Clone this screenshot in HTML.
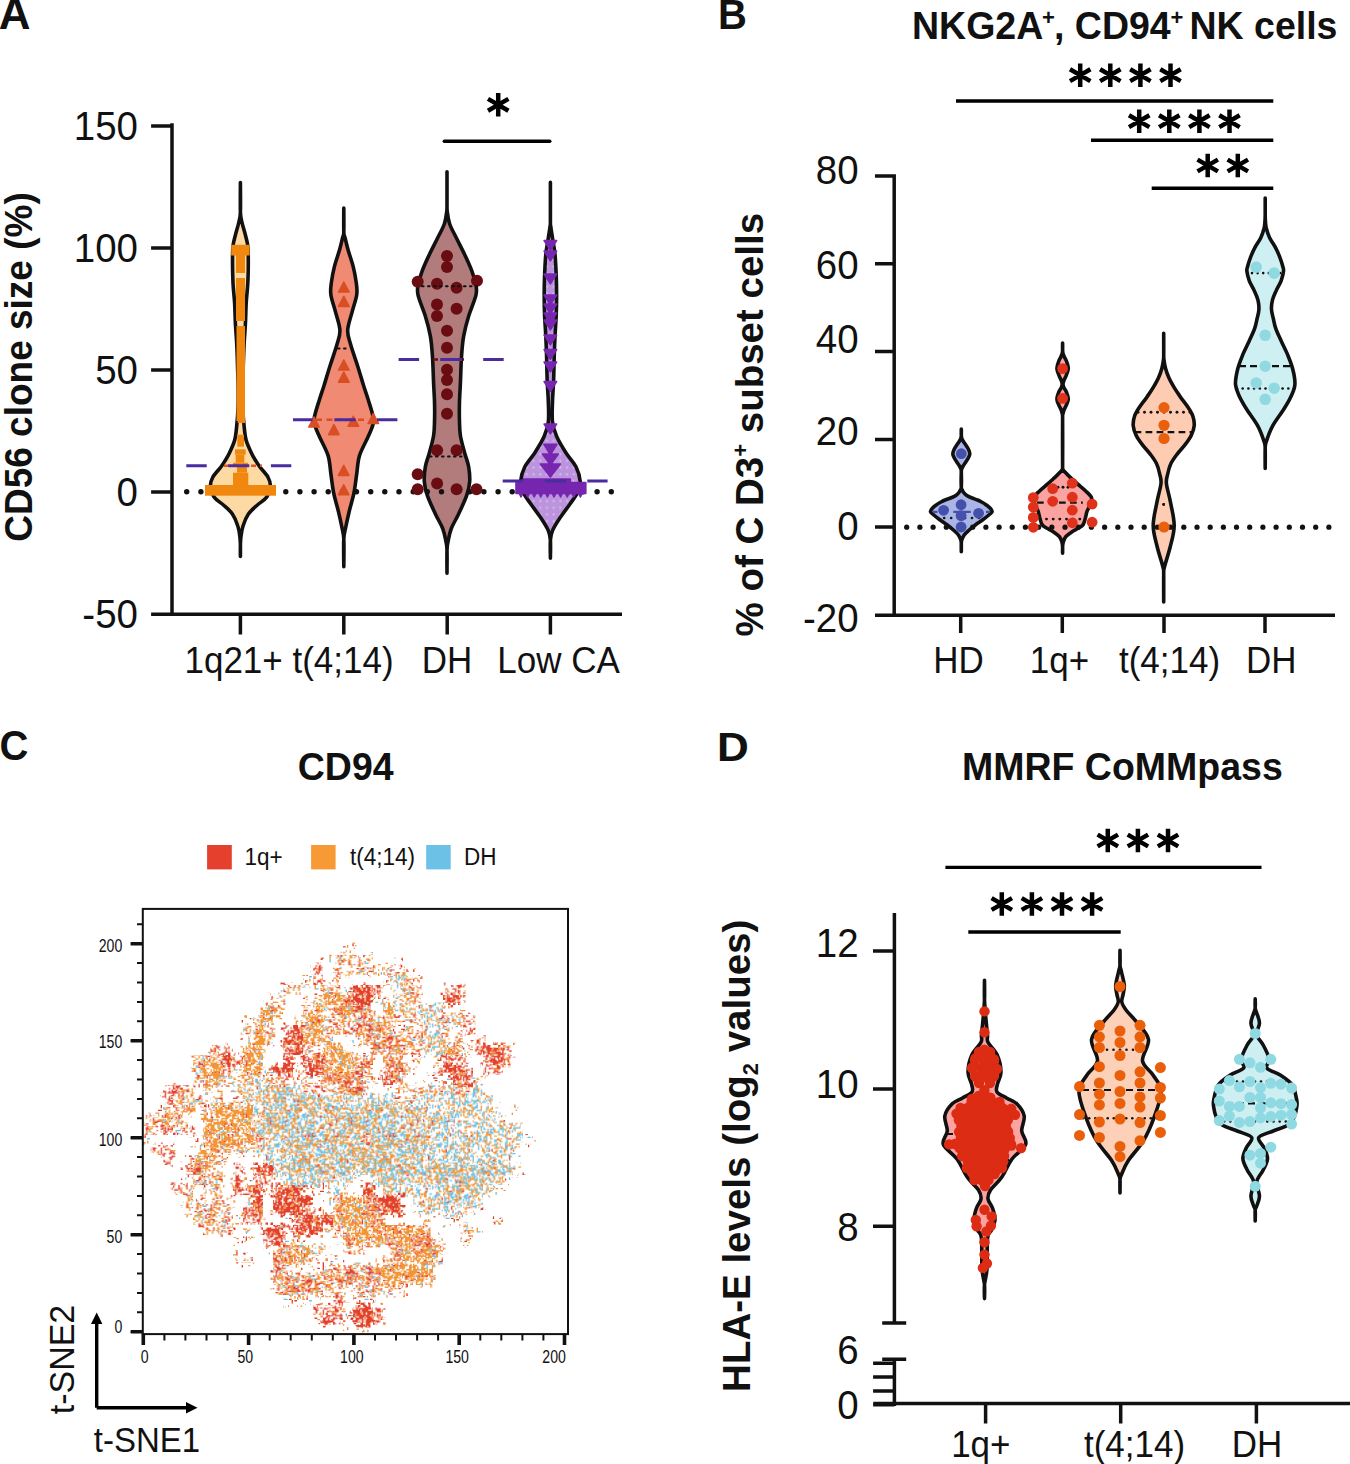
<!DOCTYPE html>
<html><head><meta charset="utf-8"><style>html,body{margin:0;padding:0;background:#fff;}svg{display:block;}</style></head>
<body><svg width="1350" height="1464" viewBox="0 0 1350 1464"><rect width="1350" height="1464" fill="#fff"/><defs><pattern id="pA4" patternUnits="userSpaceOnUse" x="1" y="2" width="6.7" height="6.7"><rect width="6.7" height="6.7" fill="#BC94DD"/><circle cx="3.3" cy="3.3" r="1.1" fill="#D7C0EC"/></pattern></defs><text transform="translate(-1.3 29)" font-family="Liberation Sans, sans-serif" font-size="44" font-weight="bold" fill="#111">A</text><path d="M172 123.3V616M151.1 125.9H172M151.1 248H172M151.1 370H172M151.1 492H172M151.1 614.2H622M240.4 614V634.5M343.8 614V634.5M447.2 614V634.5M550.4 614V634.5" stroke="#111" stroke-width="3.5" fill="none"/><text transform="translate(138 139.9) scale(1.0 1.045)" font-family="Liberation Sans, sans-serif" font-size="38.5" text-anchor="end" fill="#111">150</text><text transform="translate(138 262) scale(1.0 1.045)" font-family="Liberation Sans, sans-serif" font-size="38.5" text-anchor="end" fill="#111">100</text><text transform="translate(138 384) scale(1.0 1.045)" font-family="Liberation Sans, sans-serif" font-size="38.5" text-anchor="end" fill="#111">50</text><text transform="translate(138 506) scale(1.0 1.045)" font-family="Liberation Sans, sans-serif" font-size="38.5" text-anchor="end" fill="#111">0</text><text transform="translate(138 628.2) scale(1.0 1.045)" font-family="Liberation Sans, sans-serif" font-size="38.5" text-anchor="end" fill="#111">-50</text><text transform="translate(32.3 367) rotate(-90) scale(1.0 1.045)" font-family="Liberation Sans, sans-serif" font-size="37" font-weight="bold" text-anchor="middle" fill="#111">CD56 clone size (%)</text><text transform="translate(233.6 673) scale(1.0 1.045)" font-family="Liberation Sans, sans-serif" font-size="35" text-anchor="middle" fill="#111">1q21+</text><text transform="translate(343 673) scale(1.0 1.045)" font-family="Liberation Sans, sans-serif" font-size="35" text-anchor="middle" fill="#111">t(4;14)</text><text transform="translate(447 673) scale(1.0 1.045)" font-family="Liberation Sans, sans-serif" font-size="35" text-anchor="middle" fill="#111">DH</text><text transform="translate(558.5 673) scale(1.0 1.045)" font-family="Liberation Sans, sans-serif" font-size="35" text-anchor="middle" fill="#111">Low CA</text><path d="M240.4 182.5C240.4 187.4 240.2 205.4 240.4 212C240.7 218.6 241.1 218.2 241.9 222C242.7 225.8 244.4 231 245.4 235C246.4 239 247.3 241.5 247.8 246C248.3 250.5 248.3 255.8 248.3 262C248.3 268.2 248.2 276.2 247.8 283C247.5 289.8 246.6 296.2 246.2 303C245.8 309.8 245.8 317.2 245.4 324C245.1 330.8 244.4 337.2 244.1 344C243.8 350.8 243.5 358.2 243.3 365C243.1 371.8 242.8 378.2 242.7 385C242.6 391.8 242.5 399.2 242.7 406C242.9 412.8 243.5 420.3 244.1 426C244.7 431.7 244.9 435.5 246.1 440C247.3 444.5 249.8 449.5 251.4 453C253 456.5 254.5 458.7 255.9 461C257.3 463.3 257.9 464.3 259.9 467C261.9 469.7 266.1 473.8 267.9 477C269.6 480.2 270.6 482.7 270.4 486C270.2 489.3 269 493.8 266.8 497C264.6 500.2 260.5 502.2 257.4 505C254.3 507.8 250.8 510.5 248.4 514C246 517.5 244.2 522.2 243 526C241.8 529.8 241.3 533.8 240.9 537C240.5 540.2 240.5 541.8 240.4 545C240.3 548.2 240.4 554.6 240.4 556.5L240.4 556.5C240.4 554.6 240.5 548.2 240.4 545C240.3 541.8 240.3 540.2 239.9 537C239.5 533.8 239.1 529.8 237.8 526C236.6 522.2 234.8 517.5 232.4 514C230 510.5 226.5 507.8 223.4 505C220.3 502.2 216.2 500.2 214 497C211.8 493.8 210.6 489.3 210.4 486C210.2 482.7 211.2 480.2 212.9 477C214.7 473.8 218.9 469.7 220.9 467C222.9 464.3 223.5 463.3 224.9 461C226.3 458.7 227.8 456.5 229.4 453C231 449.5 233.5 444.5 234.7 440C235.9 435.5 236.1 431.7 236.7 426C237.3 420.3 237.9 412.8 238.1 406C238.3 399.2 238.2 391.8 238.1 385C238 378.2 237.7 371.8 237.5 365C237.3 358.2 237.1 350.8 236.7 344C236.4 337.2 235.8 330.8 235.4 324C235.1 317.2 235 309.8 234.6 303C234.2 296.2 233.3 289.8 233 283C232.7 276.2 232.5 268.2 232.5 262C232.5 255.8 232.5 250.5 233 246C233.5 241.5 234.4 239 235.4 235C236.4 231 238.1 225.8 238.9 222C239.7 218.2 240.2 218.6 240.4 212C240.7 205.4 240.4 187.4 240.4 182.5Z" fill="#FDD9A4" stroke="#111" stroke-width="3.6" stroke-linejoin="round"/><path d="M343.8 208C343.8 212 343.6 227 343.8 232C344 237 344.4 235 345.1 238C345.8 241 346.8 245.2 348.1 250C349.5 254.8 351.8 261.1 353.2 266.6C354.6 272.1 355.7 278.3 356.3 283C356.9 287.7 357.4 290.2 356.7 295C356 299.8 353.7 305.8 352.2 311.6C350.7 317.4 348 324.6 347.7 330C347.4 335.4 348.9 338.2 350.5 344C352.1 349.8 355.1 358.2 357.3 365C359.5 371.8 361.6 379.2 363.4 385C365.2 390.8 366.6 394.5 368.3 400C370 405.5 372.7 413.7 373.4 418C374.1 422.3 373.4 422.8 372.5 426C371.6 429.2 370.2 432.1 368 437C365.8 441.9 361.4 449.4 359.5 455.6C357.6 461.8 357.6 467.8 356.7 474C355.8 480.2 355.2 486.4 354 492.6C352.8 498.8 350.6 505.4 349.3 511C348 516.6 346.9 521.3 346 526C345.1 530.7 344.2 532.2 343.8 539C343.4 545.8 343.8 562.1 343.8 566.7L343.8 566.7C343.8 562.1 344.2 545.8 343.8 539C343.4 532.2 342.5 530.7 341.6 526C340.7 521.3 339.6 516.6 338.3 511C337 505.4 334.8 498.8 333.6 492.6C332.4 486.4 331.8 480.2 330.9 474C330 467.8 330 461.8 328.1 455.6C326.2 449.4 321.8 441.9 319.6 437C317.4 432.1 316 429.2 315.1 426C314.2 422.8 313.5 422.3 314.2 418C314.9 413.7 317.6 405.5 319.3 400C321 394.5 322.4 390.8 324.2 385C326 379.2 328.1 371.8 330.3 365C332.5 358.2 335.5 349.8 337.1 344C338.7 338.2 340.2 335.4 339.9 330C339.6 324.6 336.9 317.4 335.4 311.6C333.9 305.8 331.6 299.8 330.9 295C330.2 290.2 330.7 287.7 331.3 283C331.9 278.3 333 272.1 334.4 266.6C335.8 261.1 338.1 254.8 339.5 250C340.9 245.2 341.8 241 342.5 238C343.2 235 343.6 237 343.8 232C344 227 343.8 212 343.8 208Z" fill="#F08A72" stroke="#111" stroke-width="3.6" stroke-linejoin="round"/><path d="M447 171.8C447 177.3 447 198.5 447 205C447 211.5 446.8 207.9 447.2 211C447.6 214.1 448.1 219.2 449.6 223.7C451.1 228.2 453.9 232.9 456.4 238C458.9 243.1 462 248.9 464.6 254.4C467.2 259.9 469.9 265.7 471.8 270.8C473.7 275.9 475.2 280.9 475.9 285C476.6 289.1 477.1 290.2 475.9 295.4C474.7 300.6 470.8 309.2 468.7 316C466.6 322.8 464.8 329.6 463.6 336.4C462.4 343.2 462 349.6 461.5 357C461 364.4 460.8 373.6 460.5 381C460.2 388.4 459.7 394.7 459.5 401.5C459.3 408.3 459.3 416.2 459.5 422C459.7 427.8 459.6 431.2 460.5 436.3C461.4 441.4 463.2 447.6 464.6 452.7C466 457.8 467.9 462.2 468.7 467C469.5 471.8 470 476.6 469.7 481.4C469.4 486.2 468.5 490.2 466.6 495.7C464.7 501.2 461.1 508.7 458.5 514.2C455.9 519.7 453 524.1 451.3 528.5C449.6 532.9 448.9 537.2 448.2 540.8C447.5 544.4 447.2 544.6 447 550C446.8 555.4 447 569.3 447 573.2L447 573.2C447 569.3 447.2 555.4 447 550C446.8 544.6 446.5 544.4 445.8 540.8C445.1 537.2 444.4 532.9 442.7 528.5C441 524.1 438.1 519.7 435.5 514.2C432.9 508.7 429.3 501.2 427.4 495.7C425.5 490.2 424.6 486.2 424.3 481.4C424 476.6 424.5 471.8 425.3 467C426.1 462.2 428 457.8 429.4 452.7C430.8 447.6 432.6 441.4 433.5 436.3C434.4 431.2 434.3 427.8 434.5 422C434.7 416.2 434.7 408.3 434.5 401.5C434.3 394.7 433.8 388.4 433.5 381C433.2 373.6 433 364.4 432.5 357C432 349.6 431.6 343.2 430.4 336.4C429.2 329.6 427.4 322.8 425.3 316C423.2 309.2 419.3 300.6 418.1 295.4C416.9 290.2 417.4 289.1 418.1 285C418.8 280.9 420.3 275.9 422.2 270.8C424.1 265.7 426.8 259.9 429.4 254.4C432 248.9 435.1 243.1 437.6 238C440.1 232.9 442.9 228.2 444.4 223.7C445.9 219.2 446.4 214.1 446.8 211C447.2 207.9 447 211.5 447 205C447 198.5 447 177.3 447 171.8Z" fill="#B27B7C" stroke="#111" stroke-width="3.6" stroke-linejoin="round"/><path d="M550.4 182.3C550.4 188.6 550.4 212.7 550.4 220C550.4 227.3 550.3 223 550.7 226C551 229 551.8 233.3 552.5 238C553.2 242.7 554.4 248.2 555 254.4C555.6 260.6 555.9 268.2 556.2 275C556.5 281.8 556.6 288.6 556.6 295.4C556.6 302.2 556.5 309.2 556.2 316C555.9 322.8 555.3 329.6 555 336.4C554.7 343.2 554.4 349.6 554.2 357C554 364.4 553.9 373.6 553.6 381C553.3 388.4 552.7 394.7 552.5 401.5C552.3 408.3 551.8 416.2 552.5 422C553.2 427.8 554.4 431.2 556.6 436.3C558.8 441.4 562.6 447.6 565.9 452.7C569.1 457.8 573.7 462.2 576.1 467C578.5 471.8 579.8 477.3 580.2 481.4C580.5 485.5 579.9 487.8 578.2 491.6C576.5 495.4 573.1 499.6 570 504C566.9 508.4 562.6 513.9 559.7 518.3C556.8 522.7 554 527 552.5 530.6C551 534.2 550.8 535.4 550.4 540C550 544.6 550.4 555.2 550.4 558.2L550.4 558.2C550.4 555.2 550.8 544.6 550.4 540C550 535.4 549.8 534.2 548.3 530.6C546.8 527 544 522.7 541.1 518.3C538.2 513.9 533.9 508.4 530.8 504C527.7 499.6 524.3 495.4 522.6 491.6C520.9 487.8 520.2 485.5 520.6 481.4C521 477.3 522.3 471.8 524.7 467C527.1 462.2 531.6 457.8 534.9 452.7C538.1 447.6 542 441.4 544.2 436.3C546.4 431.2 547.6 427.8 548.3 422C549 416.2 548.5 408.3 548.3 401.5C548.1 394.7 547.5 388.4 547.2 381C546.9 373.6 546.8 364.4 546.6 357C546.4 349.6 546.1 343.2 545.8 336.4C545.5 329.6 544.9 322.8 544.6 316C544.3 309.2 544.2 302.2 544.2 295.4C544.2 288.6 544.3 281.8 544.6 275C544.9 268.2 545.2 260.6 545.8 254.4C546.4 248.2 547.6 242.7 548.3 238C549 233.3 549.8 229 550.1 226C550.5 223 550.4 227.3 550.4 220C550.4 212.7 550.4 188.6 550.4 182.3Z" fill="url(#pA4)" stroke="#111" stroke-width="3.6" stroke-linejoin="round"/><g fill="#111"><circle cx="186.7" cy="491.7" r="2.7"/><circle cx="200.9" cy="491.7" r="2.7"/><circle cx="215" cy="491.7" r="2.7"/><circle cx="229.2" cy="491.7" r="2.7"/><circle cx="243.3" cy="491.7" r="2.7"/><circle cx="257.5" cy="491.7" r="2.7"/><circle cx="271.6" cy="491.7" r="2.7"/><circle cx="285.8" cy="491.7" r="2.7"/><circle cx="299.9" cy="491.7" r="2.7"/><circle cx="314.1" cy="491.7" r="2.7"/><circle cx="328.2" cy="491.7" r="2.7"/><circle cx="342.4" cy="491.7" r="2.7"/><circle cx="356.5" cy="491.7" r="2.7"/><circle cx="370.7" cy="491.7" r="2.7"/><circle cx="384.8" cy="491.7" r="2.7"/><circle cx="399" cy="491.7" r="2.7"/><circle cx="413.2" cy="491.7" r="2.7"/><circle cx="427.3" cy="491.7" r="2.7"/><circle cx="441.5" cy="491.7" r="2.7"/><circle cx="455.6" cy="491.7" r="2.7"/><circle cx="469.8" cy="491.7" r="2.7"/><circle cx="483.9" cy="491.7" r="2.7"/><circle cx="498.1" cy="491.7" r="2.7"/><circle cx="512.2" cy="491.7" r="2.7"/><circle cx="526.4" cy="491.7" r="2.7"/><circle cx="540.5" cy="491.7" r="2.7"/><circle cx="554.7" cy="491.7" r="2.7"/><circle cx="568.8" cy="491.7" r="2.7"/><circle cx="583" cy="491.7" r="2.7"/><circle cx="597.1" cy="491.7" r="2.7"/><circle cx="611.3" cy="491.7" r="2.7"/></g><g fill="#F0880F"><rect x="231.2" y="244.8" width="18.4" height="10.7"/><rect x="236" y="255" width="9" height="18"/><rect x="236" y="278" width="9" height="43"/><rect x="236.5" y="326" width="8.5" height="95"/><rect x="237.7" y="420" width="7.3" height="3"/><rect x="237.3" y="434.7" width="6.7" height="12"/><rect x="235" y="449.3" width="10.7" height="5.4"/><rect x="235.7" y="454.7" width="8.6" height="8"/><rect x="233" y="462.7" width="15" height="4"/><rect x="237" y="466.7" width="10" height="6"/><rect x="233" y="472.7" width="15.3" height="13"/><rect x="205" y="485" width="71" height="10.7"/></g><path d="M338.6 292L349.1 292L343.8 282ZM338.6 306.4L349.1 306.4L343.8 296.4ZM338.6 370L349.1 370L343.8 360ZM338.6 382.2L349.1 382.2L343.8 372.2ZM308.8 427L319.2 427L314 417ZM328.6 434.6L339.1 434.6L333.9 424.6ZM348.1 426.3L358.6 426.3L353.3 416.3ZM368.1 423.5L378.6 423.5L373.3 413.5ZM338.4 475.4L348.9 475.4L343.7 465.4ZM338.4 494.8L348.9 494.8L343.7 484.8Z" fill="#DA4E24" stroke="#DA4E24" stroke-width="1.6" stroke-linejoin="round"/><g fill="#6A0D12"><circle cx="447" cy="256" r="6"/><circle cx="447" cy="267" r="6"/><circle cx="417.7" cy="281.7" r="6"/><circle cx="437" cy="283.7" r="6"/><circle cx="456.6" cy="287.8" r="6"/><circle cx="477" cy="280.7" r="6"/><circle cx="437" cy="304.6" r="6"/><circle cx="456.6" cy="308.7" r="6"/><circle cx="437" cy="316" r="6"/><circle cx="447" cy="330.7" r="6"/><circle cx="447" cy="347.7" r="6"/><circle cx="447" cy="369.7" r="6"/><circle cx="447" cy="380" r="6"/><circle cx="447" cy="394.3" r="6"/><circle cx="447" cy="413.8" r="6"/><circle cx="437.1" cy="450.2" r="6"/><circle cx="456.6" cy="450.2" r="6"/><circle cx="417.7" cy="474.2" r="6"/><circle cx="437.1" cy="483.4" r="6"/><circle cx="417.7" cy="489.2" r="6"/><circle cx="456.6" cy="489.2" r="6"/><circle cx="476.5" cy="489.2" r="6"/></g><path d="M544.1 240.6L556.6 240.6L550.4 250.4ZM544.1 251.1L556.6 251.1L550.4 260.9ZM544.1 274.1L556.6 274.1L550.4 283.9ZM544.1 295.1L556.6 295.1L550.4 304.9ZM544.1 304.1L556.6 304.1L550.4 313.9ZM544.1 313.1L556.6 313.1L550.4 322.9ZM544.1 320.1L556.6 320.1L550.4 329.9ZM544.1 335.1L556.6 335.1L550.4 344.9ZM544.1 349.6L556.6 349.6L550.4 359.4ZM544.1 362.1L556.6 362.1L550.4 371.9ZM544.1 381.6L556.6 381.6L550.4 391.4ZM544.1 424.1L556.6 424.1L550.4 433.9ZM543.8 444.2L557 444.2L550.4 454.8ZM542.4 454L558.4 454L550.4 465ZM540.4 464L560.4 464L550.4 477ZM516.5 488L525.5 488L521 497ZM523.1 488L532.1 488L527.6 497ZM529.7 488L538.7 488L534.2 497ZM536.3 488L545.3 488L540.8 497ZM542.9 488L551.9 488L547.4 497ZM549.5 488L558.5 488L554 497ZM556.1 488L565.1 488L560.6 497ZM562.7 488L571.7 488L567.2 497ZM569.3 488L578.3 488L573.8 497ZM575.9 488L584.9 488L580.4 497ZM523.6 479h46.6v4h-46.6zM516 482.5h69.8v11h-69.8z" fill="#7726B0" stroke="#7726B0" stroke-width="1.6" stroke-linejoin="round"/><path d="M224 465.7H262" stroke="#E0552B" stroke-width="2.4" stroke-dasharray="5 4"/><path d="M316 419.8H367" stroke="#DA4E24" stroke-width="2.4" stroke-dasharray="6 4.5"/><path d="M433 359.5H464" stroke="#6A0D12" stroke-width="2.4" stroke-dasharray="5 4"/><path d="M422 286.2H477M430 456.4H462" stroke="#111" stroke-width="2" stroke-dasharray="1.6 4.4" stroke-linecap="round"/><path d="M338 348.5H350" stroke="#111" stroke-width="2" stroke-dasharray="1.6 4.4" stroke-linecap="round"/><path d="M186.3 465.7H206.7M228.3 465.7H249.3M270.9 465.7H291.3M293 419.8H312.6M334.4 419.8H355.7M377 419.8H397.4M398.6 359.5H419.1M440.2 359.5H461.7M483.2 359.5H503.7M502.7 481H523.2M544.7 481H566.2M587.3 481H607.6" stroke="#4A2C9E" stroke-width="3"/><path d="M444.3 141.3H549.8" stroke="#000" stroke-width="3.4" stroke-linecap="round"/><path d="M498.2 116.6L498.2 93M488 110.7L508.4 98.9M488 98.9L508.4 110.7" stroke="#000" stroke-width="4.5" fill="none"/><text transform="translate(718 29) scale(1.0 1.045)" font-family="Liberation Sans, sans-serif" font-size="40" font-weight="bold" fill="#111">B</text><text transform="translate(912 38.6) scale(1.0 1.045)" font-family="Liberation Sans, sans-serif" font-size="37.5" font-weight="bold" fill="#111">NKG2A</text><text transform="translate(1042 25.2) scale(1.0 1.045)" font-family="Liberation Sans, sans-serif" font-size="22" font-weight="bold" fill="#111">+</text><text transform="translate(1054 38.6) scale(1.0 1.045)" font-family="Liberation Sans, sans-serif" font-size="37.5" font-weight="bold" fill="#111">, CD94</text><text transform="translate(1170.5 25.2) scale(1.0 1.045)" font-family="Liberation Sans, sans-serif" font-size="22" font-weight="bold" fill="#111">+</text><text transform="translate(1189.5 38.6) scale(1.0 1.045)" font-family="Liberation Sans, sans-serif" font-size="37.5" font-weight="bold" fill="#111">NK cells</text><path d="M894.2 174.2V617M875 175.9H894.2M875 263.8H894.2M875 351.6H894.2M875 439.5H894.2M875 527.1H894.2M875 615.2H1335M960.7 615V633M1062.3 615V633M1164 615V633M1265 615V633" stroke="#111" stroke-width="3.5" fill="none"/><text transform="translate(858.6 184) scale(1.0 1.045)" font-family="Liberation Sans, sans-serif" font-size="38.5" text-anchor="end" fill="#111">80</text><text transform="translate(858.6 278.8) scale(1.0 1.045)" font-family="Liberation Sans, sans-serif" font-size="38.5" text-anchor="end" fill="#111">60</text><text transform="translate(858.6 353.3) scale(1.0 1.045)" font-family="Liberation Sans, sans-serif" font-size="38.5" text-anchor="end" fill="#111">40</text><text transform="translate(858.6 445.1) scale(1.0 1.045)" font-family="Liberation Sans, sans-serif" font-size="38.5" text-anchor="end" fill="#111">20</text><text transform="translate(858.6 539.9) scale(1.0 1.045)" font-family="Liberation Sans, sans-serif" font-size="38.5" text-anchor="end" fill="#111">0</text><text transform="translate(858.6 631.5) scale(1.0 1.045)" font-family="Liberation Sans, sans-serif" font-size="38.5" text-anchor="end" fill="#111">-20</text><text transform="translate(763.3 424.7) rotate(-90) scale(1 1.0)" font-family="Liberation Sans, sans-serif" font-size="38.5" font-weight="bold" text-anchor="middle" fill="#111">% of C D3<tspan font-size="22" dy="-15">+</tspan><tspan dy="15"> subset cells</tspan></text><text transform="translate(958.5 673.2) scale(1.0 1.045)" font-family="Liberation Sans, sans-serif" font-size="35" text-anchor="middle" fill="#111">HD</text><text transform="translate(1059.5 673.2) scale(1.0 1.045)" font-family="Liberation Sans, sans-serif" font-size="35" text-anchor="middle" fill="#111">1q+</text><text transform="translate(1169.5 673.2) scale(1.0 1.045)" font-family="Liberation Sans, sans-serif" font-size="35" text-anchor="middle" fill="#111">t(4;14)</text><text transform="translate(1271.3 673.2) scale(1.0 1.045)" font-family="Liberation Sans, sans-serif" font-size="35" text-anchor="middle" fill="#111">DH</text><path d="M961.3 429C961.3 430 961.2 433.5 961.3 435C961.4 436.5 961.4 437 961.7 438C962 439 962.4 439.8 963.1 441C963.8 442.2 964.9 443.7 965.8 445C966.7 446.3 967.6 447.6 968.3 449C969 450.4 969.8 452.2 969.8 453.7C969.8 455.2 969 456.6 968.3 458C967.6 459.4 966.7 460.7 965.8 462C964.9 463.3 963.8 464.8 963.1 466C962.4 467.2 962 468 961.7 469C961.4 470 961.4 469 961.3 472C961.2 475 961.1 483.9 961.3 487C961.5 490.1 962.1 489.5 962.5 490.4C962.9 491.3 963.1 491.7 963.7 492.5C964.3 493.3 964.9 494.2 966.1 495C967.3 495.8 968.9 496.7 970.8 497.5C972.7 498.3 975.5 499.2 977.5 500C979.5 500.8 981 501.7 982.5 502.5C984 503.3 985.1 504.1 986.4 505C987.6 505.9 989 506.9 990 508C991 509.1 992.3 510.5 992.1 511.7C991.9 512.9 990.4 513.6 988.8 515C987.2 516.4 984.8 518.3 982.5 520C980.2 521.7 977.5 523.3 975.3 525C973.1 526.7 971 528.3 969.2 530C967.3 531.7 965.4 533.3 964.2 535C963 536.7 962.3 538.5 961.8 540C961.3 541.5 961.4 542 961.3 544C961.2 546 961.3 550.4 961.3 551.7L961.3 551.7C961.3 550.4 961.4 546 961.3 544C961.2 542 961.3 541.5 960.8 540C960.3 538.5 959.6 536.7 958.4 535C957.2 533.3 955.2 531.7 953.4 530C951.5 528.3 949.5 526.7 947.3 525C945.1 523.3 942.3 521.7 940.1 520C937.8 518.3 935.4 516.4 933.8 515C932.2 513.6 930.7 512.9 930.5 511.7C930.3 510.5 931.6 509.1 932.6 508C933.5 506.9 934.9 505.9 936.2 505C937.4 504.1 938.6 503.3 940.1 502.5C941.6 501.7 943.1 500.8 945.1 500C947 499.2 949.9 498.3 951.8 497.5C953.7 496.7 955.3 495.8 956.5 495C957.7 494.2 958.3 493.3 958.9 492.5C959.5 491.7 959.7 491.3 960.1 490.4C960.5 489.5 961.1 490.1 961.3 487C961.5 483.9 961.4 475 961.3 472C961.2 469 961.2 470 960.9 469C960.6 468 960.2 467.2 959.5 466C958.8 464.8 957.7 463.3 956.8 462C955.9 460.7 955 459.4 954.3 458C953.6 456.6 952.8 455.2 952.8 453.7C952.8 452.2 953.6 450.4 954.3 449C955 447.6 955.9 446.3 956.8 445C957.7 443.7 958.8 442.2 959.5 441C960.2 439.8 960.6 439 960.9 438C961.2 437 961.2 436.5 961.3 435C961.4 433.5 961.3 430 961.3 429Z" fill="#A9B5E6" stroke="#111" stroke-width="3.6" stroke-linejoin="round"/><path d="M1062.6 343C1062.6 344.2 1062.5 348.3 1062.6 350C1062.7 351.7 1062.7 352.2 1063 353.4C1063.3 354.6 1063.8 355.7 1064.4 357C1065 358.3 1065.7 359.1 1066.4 361C1067 362.9 1068.3 365.9 1068.3 368.2C1068.3 370.5 1067.1 373 1066.4 375C1065.7 377 1064.7 378.5 1064.1 380C1063.5 381.5 1063 382.9 1063 384.2C1063 385.5 1063.5 386.7 1064.1 388C1064.7 389.3 1065.7 390.2 1066.4 392C1067.1 393.8 1068.3 396.7 1068.3 398.9C1068.3 401.1 1067 403.3 1066.4 405C1065.7 406.7 1065 407.6 1064.4 409C1063.8 410.4 1063.3 412.4 1063 413.7C1062.7 415 1062.7 408.2 1062.6 417C1062.5 425.8 1062.5 457.7 1062.6 466.5C1062.7 475.3 1062.8 469 1063.2 470C1063.6 471 1064.1 471.1 1065.2 472.3C1066.3 473.5 1068 475.2 1070 477.1C1072 479 1074.9 481.6 1077.5 483.9C1080.1 486.2 1083.1 488.4 1085.4 490.7C1087.7 493 1090.7 495.3 1091.5 497.6C1092.3 499.9 1091.2 502.1 1090.5 504.4C1089.8 506.7 1087.9 508.9 1087.1 511.2C1086.2 513.5 1086.1 515.7 1085.4 518C1084.7 520.3 1084.2 523.2 1083 524.9C1081.8 526.6 1080 527.2 1078.2 528.3C1076.4 529.4 1074.1 530.3 1072.1 531.7C1070 533.1 1067.4 534.8 1065.9 536.5C1064.4 538.2 1063.8 540.2 1063.3 542C1062.8 543.8 1062.7 545.1 1062.6 547C1062.5 548.9 1062.6 552.2 1062.6 553.2L1062.6 553.2C1062.6 552.2 1062.7 548.9 1062.6 547C1062.5 545.1 1062.4 543.8 1061.9 542C1061.3 540.2 1060.8 538.2 1059.3 536.5C1057.8 534.8 1055.1 533.1 1053.1 531.7C1051 530.3 1048.8 529.4 1047 528.3C1045.2 527.2 1043.4 526.6 1042.2 524.9C1041 523.2 1040.5 520.3 1039.8 518C1039.1 515.7 1038.9 513.5 1038.1 511.2C1037.2 508.9 1035.4 506.7 1034.7 504.4C1034 502.1 1032.8 499.9 1033.7 497.6C1034.5 495.3 1037.5 493 1039.8 490.7C1042.1 488.4 1045.1 486.2 1047.7 483.9C1050.3 481.6 1053.1 479 1055.2 477.1C1057.2 475.2 1058.9 473.5 1060 472.3C1061.1 471.1 1061.6 471 1062 470C1062.4 469 1062.5 475.3 1062.6 466.5C1062.7 457.7 1062.7 425.8 1062.6 417C1062.5 408.2 1062.5 415 1062.2 413.7C1061.9 412.4 1061.4 410.4 1060.8 409C1060.2 407.6 1059.5 406.7 1058.8 405C1058.1 403.3 1056.9 401.1 1056.9 398.9C1056.9 396.7 1058.1 393.8 1058.8 392C1059.5 390.2 1060.5 389.3 1061.1 388C1061.7 386.7 1062.2 385.5 1062.2 384.2C1062.2 382.9 1061.7 381.5 1061.1 380C1060.5 378.5 1059.5 377 1058.8 375C1058.1 373 1056.9 370.5 1056.9 368.2C1056.9 365.9 1058.1 362.9 1058.8 361C1059.5 359.1 1060.2 358.3 1060.8 357C1061.4 355.7 1061.9 354.6 1062.2 353.4C1062.5 352.2 1062.5 351.7 1062.6 350C1062.7 348.3 1062.6 344.2 1062.6 343Z" fill="#FBA3A1" stroke="#111" stroke-width="3.6" stroke-linejoin="round"/><path d="M1163.7 333.2C1163.7 336.8 1163.7 350.5 1163.7 355C1163.8 359.5 1163.7 357.8 1164 360C1164.3 362.2 1164.7 365.2 1165.5 368.2C1166.3 371.2 1167.5 374.6 1168.9 377.8C1170.3 381 1172.2 384.2 1174.1 387.4C1176 390.6 1178.2 393.7 1180.4 396.9C1182.6 400.1 1185.4 403.3 1187.5 406.5C1189.6 409.7 1191.7 412.8 1192.8 416C1193.9 419.2 1194.5 422.4 1194.2 425.6C1194 428.8 1192.8 432 1191.3 435.2C1189.8 438.4 1187.5 441.5 1185.1 444.7C1182.7 447.9 1179.4 451.1 1177 454.3C1174.6 457.5 1172.3 460.5 1170.8 463.8C1169.2 467.1 1168.4 470.7 1167.7 474C1167 477.3 1166 478.8 1166.4 483.4C1166.8 488 1169 494.4 1170.3 501.4C1171.6 508.4 1174.2 517.9 1174.2 525.4C1174.2 532.9 1172 539.5 1170.3 546.5C1168.6 553.5 1165.4 562.8 1164.3 567.5C1163.2 572.2 1163.8 569.2 1163.7 575C1163.6 580.8 1163.7 597.5 1163.7 602L1163.7 602C1163.7 597.5 1163.8 580.8 1163.7 575C1163.6 569.2 1164.2 572.2 1163.1 567.5C1162 562.8 1158.8 553.5 1157.1 546.5C1155.5 539.5 1153.2 532.9 1153.2 525.4C1153.2 517.9 1155.8 508.4 1157.1 501.4C1158.4 494.4 1160.6 488 1161 483.4C1161.4 478.8 1160.4 477.3 1159.7 474C1159 470.7 1158.2 467.1 1156.6 463.8C1155.1 460.5 1152.8 457.5 1150.4 454.3C1148 451.1 1144.7 447.9 1142.3 444.7C1139.9 441.5 1137.6 438.4 1136.1 435.2C1134.6 432 1133.5 428.8 1133.2 425.6C1133 422.4 1133.5 419.2 1134.6 416C1135.7 412.8 1137.8 409.7 1139.9 406.5C1142 403.3 1144.8 400.1 1147 396.9C1149.2 393.7 1151.4 390.6 1153.3 387.4C1155.2 384.2 1157.1 381 1158.5 377.8C1159.9 374.6 1161.1 371.2 1161.9 368.2C1162.7 365.2 1163.1 362.2 1163.4 360C1163.7 357.8 1163.7 359.5 1163.7 355C1163.8 350.5 1163.7 336.8 1163.7 333.2Z" fill="#FDCCB2" stroke="#111" stroke-width="3.6" stroke-linejoin="round"/><path d="M1265.2 198C1265.2 200.8 1265.2 211 1265.2 215C1265.2 219 1265.3 219.8 1265.5 222C1265.7 224.2 1265.6 225.6 1266.3 228.2C1267 230.8 1268.1 234.6 1269.6 237.8C1271.1 241 1273.7 244.2 1275.4 247.4C1277.1 250.6 1278.5 253.7 1279.7 256.9C1280.9 260.1 1282.2 264.1 1282.8 266.5C1283.4 268.9 1283.8 268.9 1283.5 271.3C1283.2 273.7 1282.3 277.6 1281.1 280.8C1279.9 284 1277.7 287.2 1276.3 290.4C1274.9 293.6 1273.3 296.7 1272.5 299.9C1271.7 303.1 1271.3 306.3 1271.5 309.5C1271.7 312.7 1272.7 315.8 1273.4 319C1274.1 322.2 1274.5 324.9 1275.8 328.6C1277.1 332.3 1279.3 336.7 1281.2 341C1283.1 345.3 1285.5 349.5 1287.4 354.2C1289.3 358.9 1291.5 364 1292.7 369C1294 374 1295.2 379.8 1294.9 384.3C1294.7 388.8 1293 392 1291.2 396C1289.5 400 1287.5 403.2 1284.4 408.3C1281.3 413.4 1275.4 420.8 1272.4 426.3C1269.4 431.8 1267.6 437.7 1266.4 441.3C1265.2 444.9 1265.4 443.5 1265.2 448C1265 452.5 1265.2 465 1265.2 468.4L1265.2 468.4C1265.2 465 1265.4 452.5 1265.2 448C1265 443.5 1265.2 444.9 1264 441.3C1262.8 437.7 1261 431.8 1258 426.3C1255 420.8 1249.1 413.4 1246 408.3C1242.9 403.2 1241 400 1239.2 396C1237.5 392 1235.8 388.8 1235.5 384.3C1235.2 379.8 1236.5 374 1237.7 369C1239 364 1241.1 358.9 1243 354.2C1244.9 349.5 1247.3 345.3 1249.2 341C1251.1 336.7 1253.3 332.3 1254.6 328.6C1255.9 324.9 1256.3 322.2 1257 319C1257.7 315.8 1258.8 312.7 1258.9 309.5C1259.1 306.3 1258.7 303.1 1257.9 299.9C1257.1 296.7 1255.5 293.6 1254.1 290.4C1252.7 287.2 1250.5 284 1249.3 280.8C1248.1 277.6 1247.2 273.7 1246.9 271.3C1246.6 268.9 1247 268.9 1247.6 266.5C1248.2 264.1 1249.5 260.1 1250.7 256.9C1251.9 253.7 1253.3 250.6 1255 247.4C1256.7 244.2 1259.3 241 1260.8 237.8C1262.3 234.6 1263.4 230.8 1264.1 228.2C1264.8 225.6 1264.7 224.2 1264.9 222C1265.1 219.8 1265.2 219 1265.2 215C1265.2 211 1265.2 200.8 1265.2 198Z" fill="#CFF0F2" stroke="#111" stroke-width="3.6" stroke-linejoin="round"/><g fill="#111"><circle cx="906.7" cy="527.2" r="2.6"/><circle cx="919.9" cy="527.2" r="2.6"/><circle cx="933.1" cy="527.2" r="2.6"/><circle cx="946.3" cy="527.2" r="2.6"/><circle cx="959.5" cy="527.2" r="2.6"/><circle cx="972.7" cy="527.2" r="2.6"/><circle cx="985.9" cy="527.2" r="2.6"/><circle cx="999.1" cy="527.2" r="2.6"/><circle cx="1012.2" cy="527.2" r="2.6"/><circle cx="1025.4" cy="527.2" r="2.6"/><circle cx="1038.6" cy="527.2" r="2.6"/><circle cx="1051.8" cy="527.2" r="2.6"/><circle cx="1065" cy="527.2" r="2.6"/><circle cx="1078.2" cy="527.2" r="2.6"/><circle cx="1091.4" cy="527.2" r="2.6"/><circle cx="1104.6" cy="527.2" r="2.6"/><circle cx="1117.8" cy="527.2" r="2.6"/><circle cx="1131" cy="527.2" r="2.6"/><circle cx="1144.2" cy="527.2" r="2.6"/><circle cx="1157.4" cy="527.2" r="2.6"/><circle cx="1170.6" cy="527.2" r="2.6"/><circle cx="1183.8" cy="527.2" r="2.6"/><circle cx="1197" cy="527.2" r="2.6"/><circle cx="1210.2" cy="527.2" r="2.6"/><circle cx="1223.4" cy="527.2" r="2.6"/><circle cx="1236.5" cy="527.2" r="2.6"/><circle cx="1249.7" cy="527.2" r="2.6"/><circle cx="1262.9" cy="527.2" r="2.6"/><circle cx="1276.1" cy="527.2" r="2.6"/><circle cx="1289.3" cy="527.2" r="2.6"/><circle cx="1302.5" cy="527.2" r="2.6"/><circle cx="1315.7" cy="527.2" r="2.6"/><circle cx="1328.9" cy="527.2" r="2.6"/></g><g fill="#111"><circle cx="944.2" cy="518" r="1.3"/><circle cx="951.2" cy="518" r="1.3"/><circle cx="958.1" cy="518" r="1.3"/><circle cx="965.1" cy="518" r="1.3"/><circle cx="972" cy="518" r="1.3"/><circle cx="979" cy="518" r="1.3"/></g><path d="M932.8 511.9H937.5M953.3 511.9H970.8M986 511.9H990" stroke="#4550AA" stroke-width="2.4"/><g fill="#111"><circle cx="1058" cy="487.3" r="1.45"/><circle cx="1063" cy="487.3" r="1.45"/><circle cx="1068" cy="487.3" r="1.45"/></g><path d="M1037 502.7H1082.8" stroke="#111" stroke-width="2.2" stroke-dasharray="6.7 4.3"/><g fill="#111"><circle cx="1046.5" cy="519.1" r="1.45"/><circle cx="1053.2" cy="519.1" r="1.45"/><circle cx="1059.8" cy="519.1" r="1.45"/><circle cx="1066.5" cy="519.1" r="1.45"/><circle cx="1073.1" cy="519.1" r="1.45"/><circle cx="1079.8" cy="519.1" r="1.45"/></g><g fill="#111"><circle cx="1138" cy="412.2" r="1.45"/><circle cx="1144.5" cy="412.2" r="1.45"/><circle cx="1151" cy="412.2" r="1.45"/><circle cx="1157.5" cy="412.2" r="1.45"/><circle cx="1164" cy="412.2" r="1.45"/><circle cx="1170.5" cy="412.2" r="1.45"/><circle cx="1177" cy="412.2" r="1.45"/><circle cx="1183.5" cy="412.2" r="1.45"/><circle cx="1190" cy="412.2" r="1.45"/></g><path d="M1134.6 432.1H1193" stroke="#111" stroke-width="2.2" stroke-dasharray="6.7 4.3"/><g fill="#111"><circle cx="1163.7" cy="504.4" r="1.3"/><circle cx="1163.7" cy="504.4" r="1.3"/></g><g fill="#111"><circle cx="1252" cy="273.1" r="1.3"/><circle cx="1257.6" cy="273.1" r="1.3"/><circle cx="1263.2" cy="273.1" r="1.3"/><circle cx="1268.8" cy="273.1" r="1.3"/><circle cx="1274.4" cy="273.1" r="1.3"/><circle cx="1280" cy="273.1" r="1.3"/></g><path d="M1239 366.2H1292" stroke="#111" stroke-width="2.2" stroke-dasharray="7 4"/><g fill="#111"><circle cx="1237" cy="388.5" r="1.3"/><circle cx="1242.7" cy="388.5" r="1.3"/><circle cx="1248.4" cy="388.5" r="1.3"/><circle cx="1254.1" cy="388.5" r="1.3"/><circle cx="1259.8" cy="388.5" r="1.3"/><circle cx="1265.5" cy="388.5" r="1.3"/><circle cx="1271.2" cy="388.5" r="1.3"/><circle cx="1276.9" cy="388.5" r="1.3"/><circle cx="1282.6" cy="388.5" r="1.3"/><circle cx="1288.3" cy="388.5" r="1.3"/><circle cx="1294" cy="388.5" r="1.3"/></g><g fill="#4550AA"><circle cx="961.3" cy="453.7" r="5.4"/><circle cx="961.1" cy="504.7" r="5.4"/><circle cx="943.6" cy="510.3" r="5.4"/><circle cx="961.1" cy="515.6" r="5.4"/><circle cx="978.6" cy="513.3" r="5.4"/><circle cx="961.1" cy="527" r="5.4"/></g><g fill="#E0321A"><circle cx="1062.6" cy="368.6" r="5.4"/><circle cx="1062.6" cy="398.4" r="5.4"/><circle cx="1072.3" cy="483.2" r="5.4"/><circle cx="1052.7" cy="488.7" r="5.4"/><circle cx="1033.3" cy="497.6" r="5.4"/><circle cx="1072.3" cy="497.2" r="5.4"/><circle cx="1052.7" cy="501.3" r="5.4"/><circle cx="1092.1" cy="504.1" r="5.4"/><circle cx="1033.3" cy="507.1" r="5.4"/><circle cx="1072.3" cy="510.2" r="5.4"/><circle cx="1033.3" cy="517.4" r="5.4"/><circle cx="1072.3" cy="522.8" r="5.4"/><circle cx="1092.1" cy="522.2" r="5.4"/><circle cx="1033.3" cy="527.3" r="5.4"/></g><g fill="#EA5F0C"><circle cx="1164" cy="407.6" r="5.6"/><circle cx="1164" cy="425.3" r="5.6"/><circle cx="1164" cy="438.5" r="5.6"/><circle cx="1164" cy="527" r="5.6"/></g><g fill="#90D9E1"><circle cx="1256.2" cy="267.1" r="5.8"/><circle cx="1274.2" cy="273.1" r="5.8"/><circle cx="1265.2" cy="335.3" r="5.8"/><circle cx="1265.2" cy="366.2" r="5.8"/><circle cx="1256.2" cy="383" r="5.8"/><circle cx="1274.2" cy="388.2" r="5.8"/><circle cx="1265.2" cy="399.3" r="5.8"/></g><path d="M956 101H1273.3M1091 140.3H1273.3M1151.7 188.3H1273.3" stroke="#000" stroke-width="3.4"/><path d="M1080.2 87L1080.2 63.4M1070 81.1L1090.4 69.3M1070 69.3L1090.4 81.1M1110.3 87L1110.3 63.4M1100.1 81.1L1120.5 69.3M1100.1 69.3L1120.5 81.1M1140.4 87L1140.4 63.4M1130.2 81.1L1150.6 69.3M1130.2 69.3L1150.6 81.1M1170.5 87L1170.5 63.4M1160.3 81.1L1180.7 69.3M1160.3 69.3L1180.7 81.1" stroke="#000" stroke-width="4.5" fill="none"/><path d="M1139.2 133L1139.2 109.4M1129 127.1L1149.4 115.3M1129 115.3L1149.4 127.1M1169.3 133L1169.3 109.4M1159.1 127.1L1179.5 115.3M1159.1 115.3L1179.5 127.1M1199.4 133L1199.4 109.4M1189.2 127.1L1209.6 115.3M1189.2 115.3L1209.6 127.1M1229.5 133L1229.5 109.4M1219.3 127.1L1239.7 115.3M1219.3 115.3L1239.7 127.1" stroke="#000" stroke-width="4.5" fill="none"/><path d="M1207.7 177.3L1207.7 153.7M1197.5 171.4L1217.9 159.6M1197.5 159.6L1217.9 171.4M1237.8 177.3L1237.8 153.7M1227.6 171.4L1248 159.6M1227.6 159.6L1248 171.4" stroke="#000" stroke-width="4.5" fill="none"/><text transform="translate(717 760.6) scale(1.1 1.0)" font-family="Liberation Sans, sans-serif" font-size="40" font-weight="bold" fill="#111">D</text><text transform="translate(962 780) scale(1.0 1.045)" font-family="Liberation Sans, sans-serif" font-size="37.5" font-weight="bold" fill="#111">MMRF CoMMpass</text><path d="M894.4 913V1323.3M882.2 1323H906.2M894.4 1357.5V1406M882.2 1359.2H906.2M873.1 1363.2H894.4M873.1 1376.9H894.4M873.1 1391H894.4M873.1 1404.7H894.4M873.3 1403.4H1350M873 951.1H894.4M873 1088.9H894.4M873 1226.3H894.4M985.6 1403.4V1423.4M1120.7 1403.4V1423.4M1256.4 1403.4V1423.4" stroke="#111" stroke-width="3.5" fill="none"/><text transform="translate(858.6 957.2) scale(1.0 1.045)" font-family="Liberation Sans, sans-serif" font-size="38.5" text-anchor="end" fill="#111">12</text><text transform="translate(858.6 1097.9) scale(1.0 1.045)" font-family="Liberation Sans, sans-serif" font-size="38.5" text-anchor="end" fill="#111">10</text><text transform="translate(858.6 1240.7) scale(1.0 1.045)" font-family="Liberation Sans, sans-serif" font-size="38.5" text-anchor="end" fill="#111">8</text><text transform="translate(858.6 1363.9) scale(1.0 1.045)" font-family="Liberation Sans, sans-serif" font-size="38.5" text-anchor="end" fill="#111">6</text><text transform="translate(858.6 1418.7) scale(1.0 1.045)" font-family="Liberation Sans, sans-serif" font-size="38.5" text-anchor="end" fill="#111">0</text><text transform="translate(750 1155.8) rotate(-90) scale(1 1.0)" font-family="Liberation Sans, sans-serif" font-size="38.5" font-weight="bold" text-anchor="middle" fill="#111">HLA-E levels (log<tspan font-size="22" dy="8">2</tspan><tspan dy="-8"> values)</tspan></text><text transform="translate(980.8 1457) scale(1.0 1.045)" font-family="Liberation Sans, sans-serif" font-size="35" text-anchor="middle" fill="#111">1q+</text><text transform="translate(1134.5 1457) scale(1.0 1.045)" font-family="Liberation Sans, sans-serif" font-size="35" text-anchor="middle" fill="#111">t(4;14)</text><text transform="translate(1256.9 1457) scale(1.0 1.045)" font-family="Liberation Sans, sans-serif" font-size="35" text-anchor="middle" fill="#111">DH</text><path d="M984.5 980.3C984.5 983.6 984.2 993.4 984.5 1000C984.8 1006.6 985.5 1014.2 986 1020C986.5 1025.8 987.2 1031.3 987.5 1035C987.8 1038.7 986.4 1039 988 1042.3C989.6 1045.6 994.8 1049.7 997 1054.6C999.2 1059.5 1000.9 1066.9 1001 1071.8C1001.1 1076.7 998.2 1080.6 997.5 1084C996.8 1087.4 995.5 1089.7 997 1092C998.5 1094.3 1003.2 1096 1006.5 1098C1009.8 1100 1013.8 1100.8 1016.8 1103.8C1019.8 1106.8 1023.4 1111.5 1024.2 1116C1025 1120.5 1021.5 1126.2 1021.7 1130.9C1022 1135.6 1027.3 1139.7 1025.7 1144.4C1024.1 1149.1 1016 1153.5 1012 1159C1008 1164.5 1005.1 1172.4 1001.5 1177.6C997.9 1182.8 992.8 1186.4 990.5 1190C988.2 1193.6 987.7 1196 988 1199C988.3 1202 991.3 1204.5 992.5 1208C993.7 1211.5 995.2 1216.3 995 1220C994.8 1223.7 992.7 1227 991.5 1230C990.3 1233 988.4 1231.2 987.6 1237.7C986.9 1244.2 987.5 1261 987 1268.8C986.5 1276.6 984.9 1279.8 984.5 1284.8C984.1 1289.8 984.5 1296.3 984.5 1298.6L984.5 1298.6C984.5 1296.3 984.9 1289.8 984.5 1284.8C984.1 1279.8 982.5 1276.6 982 1268.8C981.5 1261 982.1 1244.2 981.4 1237.7C980.6 1231.2 978.7 1233 977.5 1230C976.3 1227 974.2 1223.7 974 1220C973.8 1216.3 975.3 1211.5 976.5 1208C977.7 1204.5 980.7 1202 981 1199C981.3 1196 980.8 1193.6 978.5 1190C976.2 1186.4 971.1 1182.8 967.5 1177.6C963.9 1172.4 961 1164.5 957 1159C953 1153.5 944.9 1149.1 943.3 1144.4C941.7 1139.7 947 1135.6 947.3 1130.9C947.5 1126.2 944 1120.5 944.8 1116C945.6 1111.5 949.2 1106.8 952.2 1103.8C955.2 1100.8 959.2 1100 962.5 1098C965.8 1096 970.5 1094.3 972 1092C973.5 1089.7 972.2 1087.4 971.5 1084C970.8 1080.6 967.9 1076.7 968 1071.8C968.1 1066.9 969.8 1059.5 972 1054.6C974.2 1049.7 979.4 1045.6 981 1042.3C982.6 1039 981.2 1038.7 981.5 1035C981.8 1031.3 982.5 1025.8 983 1020C983.5 1014.2 984.2 1006.6 984.5 1000C984.8 993.4 984.5 983.6 984.5 980.3Z" fill="#FBA3A1" stroke="#111" stroke-width="3.6" stroke-linejoin="round"/><path d="M1120 950.3C1120 952.8 1119.8 961.4 1120 965C1120.2 968.6 1120.8 968.6 1121.5 972C1122.2 975.4 1124 981.5 1124.3 985.3C1124.5 989.1 1123.4 992.2 1123 995C1122.6 997.8 1121.3 999.5 1121.8 1002C1122.3 1004.5 1123.6 1006.7 1126 1010C1128.4 1013.3 1132.5 1016.8 1136.3 1021.7C1140 1026.6 1147.5 1033 1148.5 1039.5C1149.5 1046 1141.8 1054.9 1142.5 1060.8C1143.2 1066.7 1149.9 1070 1153 1075C1156.1 1080 1160.9 1083.9 1161.1 1091C1161.3 1098.1 1157 1109.3 1154 1117.6C1151 1125.9 1147.7 1133.6 1143.4 1140.7C1139.2 1147.8 1132.2 1154.7 1128.5 1160.3C1124.8 1165.9 1122.9 1171.2 1121.5 1174.5C1120.1 1177.8 1120.2 1176.9 1120 1180C1119.8 1183.1 1120 1190.8 1120 1193L1120 1193C1120 1190.8 1120.2 1183.1 1120 1180C1119.8 1176.9 1119.9 1177.8 1118.5 1174.5C1117.1 1171.2 1115.2 1165.9 1111.5 1160.3C1107.8 1154.7 1100.8 1147.8 1096.6 1140.7C1092.3 1133.6 1089 1125.9 1086 1117.6C1083 1109.3 1078.7 1098.1 1078.9 1091C1079.1 1083.9 1083.9 1080 1087 1075C1090.1 1070 1096.8 1066.7 1097.5 1060.8C1098.2 1054.9 1090.5 1046 1091.5 1039.5C1092.5 1033 1100 1026.6 1103.7 1021.7C1107.5 1016.8 1111.6 1013.3 1114 1010C1116.4 1006.7 1117.7 1004.5 1118.2 1002C1118.7 999.5 1117.4 997.8 1117 995C1116.6 992.2 1115.5 989.1 1115.7 985.3C1116 981.5 1117.8 975.4 1118.5 972C1119.2 968.6 1119.8 968.6 1120 965C1120.2 961.4 1120 952.8 1120 950.3Z" fill="#FDD0B8" stroke="#111" stroke-width="3.6" stroke-linejoin="round"/><path d="M1255.2 998.9C1255.2 1000.4 1255 1005.6 1255.2 1008C1255.5 1010.4 1256 1010.5 1256.7 1013C1257.4 1015.5 1259.5 1019.7 1259.5 1022.9C1259.5 1026.1 1257.2 1029.8 1256.7 1032C1256.2 1034.2 1255.6 1033.8 1256.7 1036C1257.8 1038.2 1261.1 1041.1 1263.2 1045C1265.3 1048.9 1268.6 1055.5 1269.2 1059.3C1269.8 1063.1 1264.9 1065.4 1266.7 1068C1268.5 1070.6 1276 1072.2 1280.2 1075C1284.5 1077.8 1289.5 1080.8 1292.2 1085C1295 1089.2 1296 1096.3 1296.7 1100C1297.5 1103.7 1297.1 1104.4 1296.7 1107.2C1296.3 1110 1295.6 1114 1294.2 1117C1292.8 1120 1291.7 1122.7 1288.2 1125C1284.7 1127.3 1278.1 1128.9 1273.2 1131C1268.3 1133.1 1260.2 1134.7 1258.7 1137.5C1257.2 1140.3 1262.7 1144.5 1264.2 1148C1265.7 1151.5 1267.7 1155.1 1267.5 1158.8C1267.3 1162.5 1265 1166.2 1263.2 1170C1261.4 1173.8 1257.3 1177.6 1256.7 1181.9C1256.1 1186.2 1259.5 1192 1259.5 1196C1259.5 1200 1257.4 1203.7 1256.7 1206C1256 1208.3 1255.5 1207.5 1255.2 1210C1255 1212.5 1255.2 1219.2 1255.2 1221L1255.2 1221C1255.2 1219.2 1255.5 1212.5 1255.2 1210C1255 1207.5 1254.4 1208.3 1253.7 1206C1253 1203.7 1250.9 1200 1250.9 1196C1250.9 1192 1254.3 1186.2 1253.7 1181.9C1253.1 1177.6 1249 1173.8 1247.2 1170C1245.4 1166.2 1243.1 1162.5 1242.9 1158.8C1242.7 1155.1 1244.7 1151.5 1246.2 1148C1247.7 1144.5 1253.2 1140.3 1251.7 1137.5C1250.2 1134.7 1242.1 1133.1 1237.2 1131C1232.3 1128.9 1225.7 1127.3 1222.2 1125C1218.7 1122.7 1217.6 1120 1216.2 1117C1214.8 1114 1214.1 1110 1213.7 1107.2C1213.3 1104.4 1213 1103.7 1213.7 1100C1214.5 1096.3 1215.5 1089.2 1218.2 1085C1221 1080.8 1226 1077.8 1230.2 1075C1234.5 1072.2 1241.9 1070.6 1243.7 1068C1245.5 1065.4 1240.6 1063.1 1241.2 1059.3C1241.8 1055.5 1245.1 1048.9 1247.2 1045C1249.3 1041.1 1252.6 1038.2 1253.7 1036C1254.8 1033.8 1254.2 1034.2 1253.7 1032C1253.2 1029.8 1250.9 1026.1 1250.9 1022.9C1250.9 1019.7 1253 1015.5 1253.7 1013C1254.4 1010.5 1255 1010.4 1255.2 1008C1255.5 1005.6 1255.2 1000.4 1255.2 998.9Z" fill="#CDEFF2" stroke="#111" stroke-width="3.6" stroke-linejoin="round"/><g fill="#111"><circle cx="1107" cy="1049.8" r="1.3"/><circle cx="1113.5" cy="1049.8" r="1.3"/><circle cx="1120" cy="1049.8" r="1.3"/><circle cx="1126.5" cy="1049.8" r="1.3"/><circle cx="1133" cy="1049.8" r="1.3"/></g><path d="M1082 1090H1160" stroke="#111" stroke-width="2.2" stroke-dasharray="7 4"/><g fill="#111"><circle cx="1083" cy="1118.2" r="1.3"/><circle cx="1089.2" cy="1118.2" r="1.3"/><circle cx="1095.3" cy="1118.2" r="1.3"/><circle cx="1101.5" cy="1118.2" r="1.3"/><circle cx="1107.7" cy="1118.2" r="1.3"/><circle cx="1113.8" cy="1118.2" r="1.3"/><circle cx="1120" cy="1118.2" r="1.3"/><circle cx="1126.2" cy="1118.2" r="1.3"/><circle cx="1132.3" cy="1118.2" r="1.3"/><circle cx="1138.5" cy="1118.2" r="1.3"/><circle cx="1144.7" cy="1118.2" r="1.3"/><circle cx="1150.8" cy="1118.2" r="1.3"/><circle cx="1157" cy="1118.2" r="1.3"/></g><g fill="#111"><circle cx="1225" cy="1081.5" r="1.3"/><circle cx="1231" cy="1081.5" r="1.3"/><circle cx="1237" cy="1081.5" r="1.3"/><circle cx="1243" cy="1081.5" r="1.3"/><circle cx="1249" cy="1081.5" r="1.3"/><circle cx="1255" cy="1081.5" r="1.3"/><circle cx="1261" cy="1081.5" r="1.3"/><circle cx="1267" cy="1081.5" r="1.3"/><circle cx="1273" cy="1081.5" r="1.3"/><circle cx="1279" cy="1081.5" r="1.3"/><circle cx="1285" cy="1081.5" r="1.3"/></g><path d="M1215 1103.3H1296" stroke="#111" stroke-width="2.2" stroke-dasharray="7 4"/><g fill="#111"><circle cx="1218" cy="1121.5" r="1.3"/><circle cx="1224.2" cy="1121.5" r="1.3"/><circle cx="1230.3" cy="1121.5" r="1.3"/><circle cx="1236.5" cy="1121.5" r="1.3"/><circle cx="1242.7" cy="1121.5" r="1.3"/><circle cx="1248.8" cy="1121.5" r="1.3"/><circle cx="1255" cy="1121.5" r="1.3"/><circle cx="1261.2" cy="1121.5" r="1.3"/><circle cx="1267.3" cy="1121.5" r="1.3"/><circle cx="1273.5" cy="1121.5" r="1.3"/><circle cx="1279.7" cy="1121.5" r="1.3"/><circle cx="1285.8" cy="1121.5" r="1.3"/><circle cx="1292" cy="1121.5" r="1.3"/></g><path d="M946 1134H960" stroke="#111" stroke-width="2.2" stroke-dasharray="7 4"/><g fill="#111"><circle cx="962" cy="1106.9" r="1.3"/><circle cx="967.8" cy="1106.9" r="1.3"/><circle cx="973.5" cy="1106.9" r="1.3"/><circle cx="979.2" cy="1106.9" r="1.3"/><circle cx="985" cy="1106.9" r="1.3"/><circle cx="990.8" cy="1106.9" r="1.3"/><circle cx="996.5" cy="1106.9" r="1.3"/><circle cx="1002.2" cy="1106.9" r="1.3"/><circle cx="1008" cy="1106.9" r="1.3"/></g><g fill="#111"><circle cx="962" cy="1160" r="1.3"/><circle cx="967.8" cy="1160" r="1.3"/><circle cx="973.5" cy="1160" r="1.3"/><circle cx="979.2" cy="1160" r="1.3"/><circle cx="985" cy="1160" r="1.3"/><circle cx="990.8" cy="1160" r="1.3"/><circle cx="996.5" cy="1160" r="1.3"/><circle cx="1002.2" cy="1160" r="1.3"/><circle cx="1008" cy="1160" r="1.3"/></g><g fill="#DD2C14"><circle cx="984.5" cy="1011.4" r="5.2"/><circle cx="984.5" cy="1032.2" r="5.2"/><circle cx="984.4" cy="1049.7" r="5.2"/><circle cx="975.6" cy="1058.3" r="5.2"/><circle cx="994" cy="1059.5" r="5.2"/><circle cx="973.1" cy="1066.9" r="5.2"/><circle cx="984.4" cy="1064.4" r="5.2"/><circle cx="995.3" cy="1069.4" r="5.2"/><circle cx="975.6" cy="1076.7" r="5.2"/><circle cx="992.8" cy="1076.7" r="5.2"/><circle cx="984.4" cy="1075.5" r="5.2"/><circle cx="984.4" cy="1090.3" r="5.2"/><circle cx="971.9" cy="1098.9" r="5.2"/><circle cx="990.4" cy="1097.7" r="5.2"/><circle cx="956.5" cy="1113.6" r="5.2"/><circle cx="1011.3" cy="1108.7" r="5.2"/><circle cx="1015" cy="1114.9" r="5.2"/><circle cx="997.7" cy="1105" r="5.2"/><circle cx="961.4" cy="1125.9" r="5.2"/><circle cx="1007.6" cy="1130.9" r="5.2"/><circle cx="949.1" cy="1144.4" r="5.2"/><circle cx="959.6" cy="1148.1" r="5.2"/><circle cx="1021.1" cy="1148.1" r="5.2"/><circle cx="1011.3" cy="1145.6" r="5.2"/><circle cx="971.9" cy="1157.9" r="5.2"/><circle cx="996.5" cy="1157.9" r="5.2"/><circle cx="971.9" cy="1171.5" r="5.2"/><circle cx="996.5" cy="1170.2" r="5.2"/><circle cx="984.2" cy="1182.5" r="5.2"/><circle cx="984.5" cy="1209.8" r="5.2"/><circle cx="975.8" cy="1220" r="5.2"/><circle cx="991.7" cy="1216.4" r="5.2"/><circle cx="976.6" cy="1226.2" r="5.2"/><circle cx="990.9" cy="1225.7" r="5.2"/><circle cx="986.4" cy="1231.5" r="5.2"/><circle cx="984.5" cy="1242.2" r="5.2"/><circle cx="984.5" cy="1254.6" r="5.2"/><circle cx="986.9" cy="1263.5" r="5.2"/><circle cx="982.9" cy="1267.9" r="5.2"/><circle cx="979" cy="1052" r="5.2"/><circle cx="990" cy="1052" r="5.2"/><circle cx="975" cy="1060" r="5.2"/><circle cx="984.5" cy="1059" r="5.2"/><circle cx="994" cy="1061" r="5.2"/><circle cx="972" cy="1068" r="5.2"/><circle cx="981" cy="1068" r="5.2"/><circle cx="989" cy="1068" r="5.2"/><circle cx="997" cy="1069" r="5.2"/><circle cx="975" cy="1076" r="5.2"/><circle cx="984.5" cy="1077" r="5.2"/><circle cx="994" cy="1076" r="5.2"/><circle cx="979" cy="1083" r="5.2"/><circle cx="990" cy="1083" r="5.2"/><circle cx="978.5" cy="1096" r="5.2"/><circle cx="985.5" cy="1096" r="5.2"/><circle cx="971.5" cy="1102" r="5.2"/><circle cx="978.5" cy="1102" r="5.2"/><circle cx="985.5" cy="1102" r="5.2"/><circle cx="992.5" cy="1102" r="5.2"/><circle cx="999.5" cy="1102" r="5.2"/><circle cx="960.5" cy="1108" r="5.2"/><circle cx="967.5" cy="1108" r="5.2"/><circle cx="974.5" cy="1108" r="5.2"/><circle cx="981.5" cy="1108" r="5.2"/><circle cx="988.5" cy="1108" r="5.2"/><circle cx="995.5" cy="1108" r="5.2"/><circle cx="1002.5" cy="1108" r="5.2"/><circle cx="961.8" cy="1114" r="5.2"/><circle cx="968.8" cy="1114" r="5.2"/><circle cx="975.8" cy="1114" r="5.2"/><circle cx="982.8" cy="1114" r="5.2"/><circle cx="989.8" cy="1114" r="5.2"/><circle cx="996.8" cy="1114" r="5.2"/><circle cx="1003.8" cy="1114" r="5.2"/><circle cx="1010.8" cy="1114" r="5.2"/><circle cx="958.8" cy="1120" r="5.2"/><circle cx="965.8" cy="1120" r="5.2"/><circle cx="972.8" cy="1120" r="5.2"/><circle cx="979.8" cy="1120" r="5.2"/><circle cx="986.8" cy="1120" r="5.2"/><circle cx="993.8" cy="1120" r="5.2"/><circle cx="1000.8" cy="1120" r="5.2"/><circle cx="1007.8" cy="1120" r="5.2"/><circle cx="963.8" cy="1126" r="5.2"/><circle cx="970.8" cy="1126" r="5.2"/><circle cx="977.8" cy="1126" r="5.2"/><circle cx="984.8" cy="1126" r="5.2"/><circle cx="991.8" cy="1126" r="5.2"/><circle cx="998.8" cy="1126" r="5.2"/><circle cx="1005.8" cy="1126" r="5.2"/><circle cx="959.1" cy="1132" r="5.2"/><circle cx="966.1" cy="1132" r="5.2"/><circle cx="973.1" cy="1132" r="5.2"/><circle cx="980.1" cy="1132" r="5.2"/><circle cx="987.1" cy="1132" r="5.2"/><circle cx="994.1" cy="1132" r="5.2"/><circle cx="1001.1" cy="1132" r="5.2"/><circle cx="1008.1" cy="1132" r="5.2"/><circle cx="960.8" cy="1138" r="5.2"/><circle cx="967.8" cy="1138" r="5.2"/><circle cx="974.8" cy="1138" r="5.2"/><circle cx="981.8" cy="1138" r="5.2"/><circle cx="988.8" cy="1138" r="5.2"/><circle cx="995.8" cy="1138" r="5.2"/><circle cx="1002.8" cy="1138" r="5.2"/><circle cx="1009.8" cy="1138" r="5.2"/><circle cx="954.9" cy="1144" r="5.2"/><circle cx="961.9" cy="1144" r="5.2"/><circle cx="968.9" cy="1144" r="5.2"/><circle cx="975.9" cy="1144" r="5.2"/><circle cx="982.9" cy="1144" r="5.2"/><circle cx="989.9" cy="1144" r="5.2"/><circle cx="996.9" cy="1144" r="5.2"/><circle cx="1003.9" cy="1144" r="5.2"/><circle cx="1010.9" cy="1144" r="5.2"/><circle cx="962.3" cy="1150" r="5.2"/><circle cx="969.3" cy="1150" r="5.2"/><circle cx="976.3" cy="1150" r="5.2"/><circle cx="983.3" cy="1150" r="5.2"/><circle cx="990.3" cy="1150" r="5.2"/><circle cx="997.3" cy="1150" r="5.2"/><circle cx="1004.3" cy="1150" r="5.2"/><circle cx="962.1" cy="1156" r="5.2"/><circle cx="969.1" cy="1156" r="5.2"/><circle cx="976.1" cy="1156" r="5.2"/><circle cx="983.1" cy="1156" r="5.2"/><circle cx="990.1" cy="1156" r="5.2"/><circle cx="997.1" cy="1156" r="5.2"/><circle cx="1004.1" cy="1156" r="5.2"/><circle cx="968" cy="1162" r="5.2"/><circle cx="975" cy="1162" r="5.2"/><circle cx="982" cy="1162" r="5.2"/><circle cx="989" cy="1162" r="5.2"/><circle cx="996" cy="1162" r="5.2"/><circle cx="1003" cy="1162" r="5.2"/><circle cx="966.9" cy="1168" r="5.2"/><circle cx="973.9" cy="1168" r="5.2"/><circle cx="980.9" cy="1168" r="5.2"/><circle cx="987.9" cy="1168" r="5.2"/><circle cx="994.9" cy="1168" r="5.2"/><circle cx="1001.9" cy="1168" r="5.2"/><circle cx="973.5" cy="1174" r="5.2"/><circle cx="980.5" cy="1174" r="5.2"/><circle cx="987.5" cy="1174" r="5.2"/><circle cx="994.5" cy="1174" r="5.2"/><circle cx="974.5" cy="1180" r="5.2"/><circle cx="981.5" cy="1180" r="5.2"/><circle cx="988.5" cy="1180" r="5.2"/><circle cx="985" cy="1186" r="5.2"/></g><g fill="#E95F0A"><circle cx="1120" cy="986.5" r="5.5"/><circle cx="1099.4" cy="1025.3" r="5.5"/><circle cx="1140" cy="1025.3" r="5.5"/><circle cx="1120" cy="1031" r="5.5"/><circle cx="1099.4" cy="1036.8" r="5.5"/><circle cx="1140" cy="1036.8" r="5.5"/><circle cx="1120" cy="1042.5" r="5.5"/><circle cx="1099.4" cy="1047.5" r="5.5"/><circle cx="1140" cy="1047.5" r="5.5"/><circle cx="1120" cy="1055.5" r="5.5"/><circle cx="1099.4" cy="1066.7" r="5.5"/><circle cx="1160.4" cy="1067.6" r="5.5"/><circle cx="1140" cy="1071.8" r="5.5"/><circle cx="1120" cy="1075.4" r="5.5"/><circle cx="1099.4" cy="1083" r="5.5"/><circle cx="1140" cy="1083" r="5.5"/><circle cx="1079.5" cy="1086.6" r="5.5"/><circle cx="1160.4" cy="1087.5" r="5.5"/><circle cx="1120" cy="1091.5" r="5.5"/><circle cx="1099.4" cy="1094.2" r="5.5"/><circle cx="1160.4" cy="1098" r="5.5"/><circle cx="1140" cy="1096.9" r="5.5"/><circle cx="1120" cy="1103.4" r="5.5"/><circle cx="1099.4" cy="1104.9" r="5.5"/><circle cx="1140" cy="1107" r="5.5"/><circle cx="1079.5" cy="1114.6" r="5.5"/><circle cx="1160.4" cy="1115.5" r="5.5"/><circle cx="1120" cy="1119" r="5.5"/><circle cx="1099.4" cy="1122" r="5.5"/><circle cx="1140" cy="1122.6" r="5.5"/><circle cx="1079.5" cy="1135.4" r="5.5"/><circle cx="1160.4" cy="1132.4" r="5.5"/><circle cx="1099.4" cy="1137.5" r="5.5"/><circle cx="1140" cy="1140.7" r="5.5"/><circle cx="1120" cy="1146.4" r="5.5"/><circle cx="1120" cy="1156.7" r="5.5"/></g><g fill="#8FD9E2"><circle cx="1255.2" cy="1033.5" r="5.5"/><circle cx="1239.4" cy="1059.3" r="5.5"/><circle cx="1270.8" cy="1059.3" r="5.5"/><circle cx="1249.9" cy="1062.8" r="5.5"/><circle cx="1260.5" cy="1067.3" r="5.5"/><circle cx="1229.4" cy="1080.6" r="5.5"/><circle cx="1249.9" cy="1081.5" r="5.5"/><circle cx="1270.8" cy="1083.3" r="5.5"/><circle cx="1281" cy="1084.2" r="5.5"/><circle cx="1219.3" cy="1089.1" r="5.5"/><circle cx="1239.4" cy="1086.8" r="5.5"/><circle cx="1260.5" cy="1087.7" r="5.5"/><circle cx="1291.6" cy="1088.1" r="5.5"/><circle cx="1219.3" cy="1101" r="5.5"/><circle cx="1249.9" cy="1097.5" r="5.5"/><circle cx="1260.5" cy="1097.5" r="5.5"/><circle cx="1270.8" cy="1102.8" r="5.5"/><circle cx="1281" cy="1103.7" r="5.5"/><circle cx="1291.6" cy="1104.6" r="5.5"/><circle cx="1229.4" cy="1106.4" r="5.5"/><circle cx="1239.4" cy="1106.4" r="5.5"/><circle cx="1260.5" cy="1108.1" r="5.5"/><circle cx="1229.4" cy="1116.1" r="5.5"/><circle cx="1270.8" cy="1116.5" r="5.5"/><circle cx="1281" cy="1115.2" r="5.5"/><circle cx="1291.6" cy="1114.4" r="5.5"/><circle cx="1219.3" cy="1120.6" r="5.5"/><circle cx="1239.4" cy="1122.4" r="5.5"/><circle cx="1249.9" cy="1121.5" r="5.5"/><circle cx="1260.5" cy="1117.9" r="5.5"/><circle cx="1291.6" cy="1124.1" r="5.5"/><circle cx="1270.8" cy="1147.2" r="5.5"/><circle cx="1249.9" cy="1155.2" r="5.5"/><circle cx="1260.5" cy="1153.4" r="5.5"/><circle cx="1260.5" cy="1163.2" r="5.5"/><circle cx="1255.2" cy="1186.3" r="5.5"/></g><path d="M945.4 867.4H1261.5M968.3 932H1120.7" stroke="#000" stroke-width="3.4"/><path d="M1107.8 852.3L1107.8 828.7M1097.6 846.4L1118 834.6M1097.6 834.6L1118 846.4M1137.9 852.3L1137.9 828.7M1127.7 846.4L1148.1 834.6M1127.7 834.6L1148.1 846.4M1168 852.3L1168 828.7M1157.8 846.4L1178.2 834.6M1157.8 834.6L1178.2 846.4" stroke="#000" stroke-width="4.5" fill="none"/><path d="M1001.8 915.8L1001.8 892.2M991.6 909.9L1012 898.1M991.6 898.1L1012 909.9M1031.9 915.8L1031.9 892.2M1021.7 909.9L1042.1 898.1M1021.7 898.1L1042.1 909.9M1062 915.8L1062 892.2M1051.8 909.9L1072.2 898.1M1051.8 898.1L1072.2 909.9M1092.1 915.8L1092.1 892.2M1081.9 909.9L1102.3 898.1M1081.9 898.1L1102.3 909.9" stroke="#000" stroke-width="4.5" fill="none"/><text transform="translate(-0.5 760) scale(1.0 1.045)" font-family="Liberation Sans, sans-serif" font-size="40" font-weight="bold" fill="#111">C</text><text transform="translate(345.7 779.9) scale(1.0 1.045)" font-family="Liberation Sans, sans-serif" font-size="37.5" font-weight="bold" text-anchor="middle" fill="#111">CD94</text><rect x="207.1" y="845" width="24.7" height="24.4" fill="#E53F2E"/><rect x="311.1" y="845" width="24.5" height="24.4" fill="#F79A36"/><rect x="426.2" y="845" width="24.5" height="24.4" fill="#6CC2E6"/><text transform="translate(244.4 865) scale(1.0 1.045)" font-family="Liberation Sans, sans-serif" font-size="22.5" fill="#111">1q+</text><text transform="translate(350 865) scale(1.0 1.045)" font-family="Liberation Sans, sans-serif" font-size="22.5" fill="#111">t(4;14)</text><text transform="translate(464 865) scale(1.0 1.045)" font-family="Liberation Sans, sans-serif" font-size="22.5" fill="#111">DH</text><defs><pattern id="sp_dot" patternUnits="userSpaceOnUse" patternTransform="scale(1.35)" x="0" y="0" width="60" height="60"><g stroke-width="1" fill="none"><path stroke="#F39533" d="M35 0.5h1M38 0.5h1M44 0.5h1M58 0.5h2M38 1.5h1M40 1.5h1M44 1.5h1M40 2.5h1M44 2.5h2M12 3.5h1M14 3.5h2M17 3.5h1M7 4.5h2M14 4.5h5M24 4.5h1M5 5.5h1M9 5.5h1M36 5.5h1M44 5.5h1M49 5.5h1M9 6.5h2M47 6.5h1M49 6.5h1M54 6.5h3M10 7.5h1M22 7.5h3M29 7.5h1M40 7.5h4M29 8.5h1M21 9.5h2M24 9.5h1M40 9.5h1M46 9.5h3M53 9.5h1M58 9.5h1M0 10.5h3M5 10.5h4M28 10.5h1M53 10.5h1M58 10.5h1M1 11.5h1M3 11.5h2M13 11.5h3M19 11.5h1M28 11.5h1M33 11.5h2M53 11.5h1M1 12.5h1M10 12.5h1M39 12.5h1M53 12.5h1M57 12.5h2M10 13.5h1M39 13.5h1M41 13.5h1M44 13.5h1M47 13.5h1M8 14.5h1M41 14.5h1M17 15.5h1M4 16.5h1M6 16.5h3M17 16.5h1M25 16.5h2M5 17.5h1M55 17.5h2M36 18.5h2M45 18.5h3M1 19.5h1M37 19.5h1M41 19.5h1M13 20.5h1M27 20.5h1M36 20.5h1M47 20.5h1M14 21.5h1M43 21.5h1M3 22.5h1M28 22.5h2M38 22.5h1M43 22.5h1M46 22.5h1M53 22.5h1M3 23.5h2M17 23.5h1M24 24.5h2M14 25.5h1M29 25.5h1M32 25.5h1M28 26.5h2M32 26.5h1M47 26.5h1M53 26.5h3M8 27.5h1M41 27.5h1M47 27.5h1M8 28.5h1M41 28.5h4M5 29.5h1M8 29.5h2M23 29.5h1M52 29.5h3M9 30.5h1M23 30.5h1M1 32.5h2M8 32.5h1M22 32.5h2M38 32.5h1M43 32.5h2M1 33.5h2M38 33.5h1M45 33.5h1M55 33.5h1M27 34.5h2M38 34.5h1M32 35.5h2M10 36.5h1M39 36.5h2M15 37.5h2M39 37.5h1M3 38.5h1M21 38.5h2M39 38.5h1M3 39.5h1M3 40.5h1M7 40.5h2M11 40.5h3M17 40.5h1M23 40.5h1M47 40.5h2M51 40.5h2M17 41.5h1M42 41.5h3M3 42.5h1M22 42.5h1M3 43.5h2M16 44.5h1M19 44.5h1M40 44.5h1M55 44.5h3M12 45.5h1M19 45.5h1M32 45.5h3M39 45.5h2M43 46.5h4M4 47.5h2M9 47.5h1M21 47.5h1M33 47.5h4M4 48.5h1M9 48.5h1M21 48.5h2M25 48.5h1M39 48.5h3M45 48.5h1M4 49.5h1M9 49.5h1M35 49.5h2M41 49.5h1M45 49.5h2M10 50.5h1M12 50.5h1M18 50.5h2M31 50.5h3M36 50.5h1M10 51.5h1M12 51.5h1M27 51.5h1M32 51.5h3M36 51.5h1M12 52.5h1M26 53.5h2M46 53.5h2M25 54.5h3M32 54.5h1M37 54.5h1M39 54.5h3M49 54.5h1M27 55.5h1M47 56.5h1M59 56.5h1M7 57.5h1M15 57.5h1M36 57.5h1M43 57.5h1M48 57.5h3M59 57.5h1M10 58.5h1M15 58.5h1M36 58.5h1M40 58.5h1M43 58.5h1M59 58.5h1M2 59.5h1M15 59.5h1M20 59.5h1M35 59.5h1M46 59.5h1M59 59.5h1"/><path stroke="#E2402B" d="M11 0.5h1M25 0.5h1M29 0.5h2M55 0.5h1M5 1.5h1M11 1.5h1M21 1.5h3M47 1.5h1M5 2.5h1M10 2.5h1M34 2.5h2M47 2.5h1M26 3.5h1M36 3.5h1M38 3.5h2M11 4.5h2M26 4.5h1M36 4.5h1M6 5.5h1M24 5.5h3M6 6.5h1M46 6.5h1M33 7.5h1M46 7.5h1M31 8.5h1M31 9.5h1M21 10.5h1M37 11.5h1M19 12.5h2M8 13.5h1M31 13.5h2M18 14.5h2M0 16.5h1M2 16.5h1M20 16.5h2M27 16.5h1M41 16.5h1M53 16.5h2M2 17.5h1M41 17.5h1M48 17.5h1M2 18.5h1M21 18.5h3M40 18.5h1M40 19.5h1M44 19.5h2M59 19.5h1M22 20.5h2M56 20.5h1M59 20.5h1M2 21.5h3M28 21.5h3M10 22.5h1M30 22.5h1M10 23.5h1M17 24.5h1M44 24.5h1M1 25.5h1M49 25.5h1M1 26.5h1M1 27.5h1M55 27.5h1M0 28.5h3M27 28.5h1M55 28.5h1M1 29.5h1M27 29.5h1M55 29.5h1M8 30.5h1M13 30.5h1M19 30.5h1M27 30.5h3M19 31.5h1M54 32.5h1M14 33.5h1M5 34.5h1M14 34.5h1M55 35.5h2M59 35.5h1M46 36.5h1M59 36.5h1M31 37.5h1M46 37.5h1M59 37.5h1M1 38.5h1M31 38.5h2M34 38.5h1M46 38.5h2M50 38.5h1M59 38.5h1M21 39.5h1M31 39.5h2M34 39.5h1M43 39.5h1M50 39.5h1M55 39.5h2M59 39.5h1M21 40.5h1M32 40.5h1M34 40.5h1M43 40.5h1M59 40.5h1M13 41.5h3M51 42.5h1M57 42.5h3M51 43.5h1M52 44.5h1M35 45.5h3M52 45.5h1M41 46.5h1M29 48.5h1M13 49.5h1M25 49.5h1M47 49.5h1M58 49.5h2M57 50.5h2M58 51.5h1M30 52.5h1M17 53.5h1M47 54.5h1M52 54.5h1M57 54.5h1M42 55.5h1M56 55.5h2M25 56.5h1M43 56.5h1M56 56.5h2M25 57.5h1M1 58.5h1M6 58.5h1M25 58.5h1M1 59.5h1M6 59.5h1M11 59.5h1"/><path stroke="#6CC1E3" d="M42 0.5h1M42 1.5h1M57 1.5h1M14 2.5h1M19 2.5h3M30 2.5h3M57 2.5h1M49 3.5h2M28 8.5h1M28 9.5h1M49 11.5h1M2 12.5h2M54 12.5h2M2 13.5h1M12 13.5h1M16 13.5h1M12 14.5h1M16 14.5h1M20 14.5h3M12 15.5h1M24 16.5h1M31 19.5h3M43 20.5h1M25 21.5h1M9 22.5h1M39 22.5h1M28 23.5h1M3 24.5h1M19 28.5h1M7 29.5h1M9 32.5h1M17 32.5h1M17 33.5h1M6 34.5h1M47 39.5h1M4 40.5h1M2 43.5h1M7 43.5h1M7 44.5h1M14 45.5h1M57 45.5h1M14 46.5h1M36 46.5h1M57 46.5h1M26 49.5h1M52 49.5h1M4 50.5h1M21 50.5h1M4 51.5h1M21 51.5h1M4 52.5h1M21 52.5h1M9 53.5h1M22 55.5h1M10 57.5h4M12 59.5h1M34 59.5h1M36 59.5h1"/></g></pattern><pattern id="sp_s" patternUnits="userSpaceOnUse" patternTransform="scale(1.35)" x="13" y="17" width="60" height="60"><g stroke-width="1" fill="none"><path stroke="#F39533" d="M5 0.5h2M14 0.5h1M17 0.5h5M23 0.5h1M31 0.5h2M37 0.5h2M43 0.5h2M46 0.5h2M55 0.5h1M59 0.5h1M5 1.5h1M9 1.5h1M14 1.5h1M23 1.5h1M25 1.5h1M32 1.5h2M40 1.5h1M46 1.5h2M51 1.5h6M4 2.5h2M12 2.5h1M19 2.5h1M23 2.5h1M25 2.5h1M31 2.5h1M40 2.5h2M48 2.5h4M4 3.5h2M7 3.5h2M17 3.5h1M27 3.5h2M31 3.5h1M43 3.5h2M48 3.5h1M3 4.5h2M7 4.5h2M15 4.5h2M23 4.5h3M28 4.5h1M31 4.5h1M40 4.5h1M48 4.5h1M51 4.5h3M56 4.5h1M3 5.5h2M7 5.5h1M10 5.5h3M26 5.5h2M31 5.5h1M35 5.5h5M47 5.5h1M50 5.5h1M52 5.5h1M57 5.5h2M6 6.5h1M34 6.5h1M43 6.5h1M47 6.5h2M50 6.5h1M6 7.5h1M19 7.5h2M25 7.5h1M32 7.5h1M34 7.5h1M43 7.5h1M45 7.5h1M48 7.5h1M13 8.5h3M32 8.5h1M44 8.5h3M48 8.5h1M55 8.5h1M58 8.5h2M0 9.5h2M6 9.5h1M9 9.5h1M12 9.5h1M26 9.5h2M32 9.5h1M34 9.5h1M43 9.5h1M49 9.5h1M59 9.5h1M2 10.5h3M9 10.5h1M12 10.5h1M19 10.5h2M26 10.5h2M29 10.5h1M39 10.5h1M43 10.5h1M45 10.5h1M51 10.5h2M0 11.5h4M7 11.5h1M9 11.5h2M16 11.5h1M18 11.5h2M25 11.5h1M27 11.5h1M29 11.5h1M43 11.5h4M51 11.5h1M54 11.5h2M58 11.5h2M3 12.5h1M9 12.5h2M16 12.5h1M21 12.5h1M30 12.5h2M44 12.5h2M55 12.5h3M8 13.5h2M16 13.5h1M18 13.5h1M21 13.5h2M27 13.5h1M31 13.5h1M33 13.5h1M0 14.5h2M5 14.5h1M8 14.5h1M18 14.5h2M21 14.5h1M24 14.5h1M26 14.5h2M29 14.5h3M33 14.5h1M38 14.5h1M53 14.5h1M59 14.5h1M0 15.5h3M5 15.5h1M8 15.5h1M14 15.5h1M17 15.5h1M21 15.5h1M24 15.5h1M26 15.5h1M29 15.5h2M38 15.5h1M47 15.5h1M53 15.5h1M0 16.5h1M5 16.5h1M10 16.5h1M18 16.5h1M26 16.5h3M33 16.5h2M37 16.5h1M47 16.5h2M50 16.5h1M59 16.5h1M1 17.5h1M3 17.5h1M6 17.5h1M10 17.5h1M16 17.5h1M18 17.5h1M22 17.5h1M30 17.5h1M34 17.5h1M36 17.5h2M55 17.5h1M0 18.5h2M6 18.5h1M10 18.5h2M23 18.5h2M31 18.5h2M40 18.5h1M47 18.5h1M50 18.5h1M57 18.5h2M0 19.5h3M5 19.5h2M8 19.5h1M12 19.5h1M15 19.5h1M18 19.5h1M24 19.5h1M31 19.5h2M35 19.5h1M39 19.5h1M41 19.5h3M50 19.5h1M58 19.5h1M0 20.5h2M8 20.5h1M11 20.5h2M14 20.5h2M18 20.5h1M25 20.5h5M31 20.5h5M39 20.5h1M44 20.5h1M53 20.5h3M59 20.5h1M4 21.5h1M11 21.5h1M14 21.5h1M23 21.5h2M26 21.5h2M31 21.5h2M35 21.5h1M38 21.5h2M44 21.5h1M0 22.5h2M10 22.5h1M14 22.5h1M26 22.5h1M30 22.5h3M38 22.5h1M42 22.5h1M59 22.5h1M1 23.5h1M14 23.5h1M16 23.5h2M28 23.5h1M30 23.5h1M32 23.5h2M38 23.5h1M42 23.5h1M45 23.5h1M50 23.5h2M59 23.5h1M0 24.5h2M10 24.5h1M12 24.5h1M19 24.5h1M30 24.5h1M33 24.5h1M38 24.5h1M40 24.5h3M45 24.5h2M49 24.5h2M0 25.5h1M7 25.5h1M11 25.5h1M18 25.5h1M23 25.5h1M30 25.5h1M36 25.5h2M39 25.5h1M41 25.5h1M44 25.5h1M47 25.5h3M52 25.5h1M1 26.5h3M8 26.5h3M12 26.5h1M18 26.5h2M23 26.5h1M26 26.5h1M30 26.5h2M37 26.5h1M44 26.5h3M52 26.5h1M0 27.5h3M9 27.5h2M23 27.5h1M26 27.5h2M45 27.5h1M52 27.5h1M57 27.5h1M0 28.5h2M6 28.5h1M9 28.5h1M16 28.5h3M26 28.5h2M29 28.5h1M31 28.5h1M35 28.5h1M42 28.5h2M45 28.5h1M51 28.5h2M55 28.5h1M0 29.5h1M6 29.5h1M8 29.5h3M17 29.5h2M27 29.5h1M31 29.5h1M43 29.5h2M46 29.5h1M55 29.5h1M0 30.5h1M2 30.5h2M6 30.5h1M8 30.5h1M14 30.5h1M25 30.5h1M35 30.5h1M37 30.5h1M43 30.5h1M48 30.5h3M54 30.5h2M0 31.5h1M6 31.5h2M10 31.5h1M13 31.5h1M24 31.5h1M35 31.5h1M40 31.5h1M42 31.5h1M44 31.5h2M48 31.5h1M6 32.5h2M9 32.5h1M13 32.5h1M19 32.5h1M28 32.5h2M38 32.5h1M40 32.5h1M45 32.5h3M56 32.5h1M58 32.5h1M1 33.5h2M5 33.5h1M15 33.5h2M24 33.5h1M26 33.5h1M38 33.5h4M43 33.5h1M45 33.5h3M58 33.5h1M1 34.5h3M5 34.5h2M14 34.5h1M16 34.5h1M25 34.5h1M28 34.5h3M41 34.5h1M45 34.5h7M57 34.5h2M6 35.5h1M12 35.5h5M19 35.5h1M25 35.5h1M27 35.5h1M29 35.5h2M49 35.5h3M57 35.5h1M6 36.5h1M15 36.5h1M25 36.5h1M32 36.5h3M50 36.5h2M55 36.5h1M59 36.5h1M1 37.5h1M6 37.5h2M12 37.5h1M15 37.5h1M26 37.5h2M36 37.5h2M39 37.5h2M48 37.5h1M51 37.5h3M59 37.5h1M7 38.5h1M12 38.5h1M22 38.5h1M24 38.5h1M27 38.5h2M37 38.5h1M48 38.5h1M50 38.5h2M53 38.5h1M7 39.5h1M16 39.5h1M20 39.5h1M22 39.5h1M24 39.5h2M31 39.5h1M36 39.5h1M53 39.5h1M14 40.5h1M23 40.5h1M25 40.5h2M31 40.5h1M48 40.5h1M52 40.5h3M56 40.5h4M13 41.5h3M23 41.5h1M26 41.5h3M33 41.5h1M46 41.5h1M4 42.5h1M6 42.5h1M15 42.5h2M23 42.5h1M26 42.5h1M33 42.5h1M57 42.5h1M0 43.5h1M5 43.5h2M8 43.5h1M11 43.5h5M22 43.5h3M26 43.5h1M33 43.5h1M39 43.5h2M45 43.5h5M54 43.5h2M59 43.5h1M5 44.5h1M7 44.5h1M11 44.5h1M15 44.5h3M24 44.5h1M27 44.5h1M36 44.5h1M38 44.5h1M40 44.5h1M45 44.5h3M1 45.5h3M5 45.5h1M10 45.5h1M14 45.5h1M20 45.5h1M23 45.5h1M31 45.5h2M40 45.5h3M44 45.5h4M51 45.5h1M54 45.5h1M59 45.5h1M2 46.5h1M10 46.5h2M14 46.5h1M21 46.5h3M32 46.5h1M37 46.5h1M40 46.5h2M44 46.5h1M48 46.5h1M52 46.5h3M57 46.5h1M0 47.5h1M2 47.5h1M11 47.5h3M16 47.5h1M19 47.5h1M22 47.5h1M26 47.5h2M35 47.5h1M37 47.5h1M45 47.5h1M47 47.5h1M54 47.5h4M2 48.5h1M10 48.5h2M16 48.5h1M18 48.5h3M22 48.5h1M24 48.5h2M41 48.5h1M43 48.5h1M47 48.5h5M7 49.5h3M16 49.5h1M20 49.5h1M22 49.5h1M24 49.5h1M27 49.5h1M34 49.5h1M39 49.5h1M51 49.5h1M55 49.5h3M59 49.5h1M8 50.5h1M10 50.5h3M20 50.5h4M27 50.5h2M31 50.5h1M39 50.5h1M47 50.5h1M50 50.5h4M55 50.5h3M2 51.5h2M8 51.5h3M30 51.5h3M39 51.5h1M41 51.5h4M51 51.5h1M57 51.5h1M8 52.5h1M12 52.5h3M33 52.5h1M36 52.5h1M39 52.5h1M43 52.5h6M52 52.5h2M57 52.5h1M4 53.5h2M15 53.5h3M19 53.5h1M21 53.5h1M28 53.5h2M39 53.5h1M43 53.5h1M45 53.5h2M55 53.5h1M4 54.5h3M9 54.5h3M15 54.5h1M19 54.5h1M21 54.5h1M24 54.5h2M27 54.5h2M33 54.5h5M42 54.5h2M46 54.5h1M53 54.5h1M3 55.5h1M10 55.5h1M15 55.5h1M20 55.5h1M24 55.5h1M28 55.5h1M33 55.5h2M37 55.5h1M42 55.5h1M46 55.5h2M49 55.5h1M51 55.5h1M53 55.5h1M58 55.5h1M3 56.5h3M9 56.5h2M20 56.5h1M24 56.5h1M28 56.5h1M30 56.5h1M34 56.5h4M46 56.5h2M50 56.5h1M53 56.5h1M56 56.5h1M4 57.5h2M20 57.5h1M30 57.5h2M42 57.5h1M56 57.5h1M0 58.5h1M4 58.5h2M13 58.5h1M19 58.5h3M26 58.5h1M35 58.5h3M48 58.5h2M55 58.5h1M0 59.5h1M4 59.5h1M26 59.5h1M31 59.5h2M37 59.5h1M45 59.5h5M52 59.5h2M55 59.5h1M57 59.5h1M59 59.5h1"/><path stroke="#E2402B" d="M2 0.5h1M22 0.5h1M26 0.5h1M34 0.5h1M51 0.5h1M56 0.5h1M8 1.5h1M22 1.5h1M8 2.5h1M22 2.5h1M24 2.5h1M54 2.5h1M58 2.5h2M1 3.5h1M6 3.5h1M29 3.5h1M33 3.5h1M49 3.5h1M54 3.5h1M17 4.5h1M26 4.5h2M33 4.5h1M45 4.5h1M54 4.5h1M5 5.5h1M9 5.5h1M17 5.5h1M29 5.5h1M54 5.5h1M5 6.5h1M29 6.5h1M33 6.5h1M5 7.5h1M15 7.5h1M30 7.5h2M35 7.5h2M0 8.5h1M16 8.5h5M23 8.5h1M25 8.5h1M28 8.5h1M13 9.5h1M23 9.5h3M57 9.5h2M5 10.5h2M15 10.5h1M24 10.5h2M50 10.5h1M53 10.5h1M5 11.5h2M13 11.5h3M24 11.5h1M32 11.5h3M38 11.5h1M53 11.5h1M0 12.5h1M2 12.5h1M18 12.5h1M24 12.5h1M58 12.5h2M2 13.5h1M24 13.5h1M28 13.5h1M2 14.5h1M9 14.5h1M15 14.5h1M25 14.5h1M39 14.5h1M54 14.5h2M58 14.5h1M15 15.5h1M36 15.5h1M39 15.5h1M42 15.5h2M2 16.5h1M14 16.5h2M29 16.5h3M36 16.5h1M39 16.5h4M53 16.5h2M2 17.5h1M12 17.5h3M19 17.5h1M31 17.5h1M18 18.5h1M22 18.5h1M51 18.5h1M54 18.5h1M17 19.5h1M22 19.5h1M37 19.5h1M45 19.5h2M51 19.5h2M5 20.5h1M16 20.5h2M20 20.5h1M51 20.5h1M1 21.5h1M5 21.5h1M36 21.5h1M56 21.5h1M5 22.5h1M9 22.5h1M15 22.5h1M27 22.5h2M36 22.5h1M46 22.5h1M58 22.5h1M5 23.5h1M15 23.5h1M27 23.5h1M46 23.5h1M52 23.5h1M7 24.5h2M22 24.5h1M27 24.5h1M43 24.5h2M1 25.5h1M9 25.5h1M17 25.5h1M25 25.5h1M40 25.5h1M43 25.5h1M39 26.5h3M49 26.5h1M56 26.5h1M3 27.5h3M31 27.5h3M38 27.5h1M40 27.5h1M59 27.5h1M2 28.5h2M5 28.5h1M7 28.5h1M14 28.5h2M38 28.5h1M40 28.5h2M49 28.5h2M56 28.5h1M59 28.5h1M13 29.5h1M30 29.5h1M35 29.5h1M38 29.5h1M59 29.5h1M9 30.5h2M13 30.5h1M16 30.5h3M27 30.5h2M30 30.5h1M57 30.5h1M59 30.5h1M14 31.5h3M25 31.5h1M50 31.5h1M53 31.5h2M57 31.5h1M59 31.5h1M27 32.5h1M31 32.5h2M51 32.5h1M13 33.5h1M27 33.5h1M32 33.5h1M42 33.5h1M44 33.5h1M0 34.5h1M13 34.5h1M27 34.5h1M32 34.5h1M0 35.5h2M5 35.5h1M17 35.5h1M20 35.5h1M23 35.5h1M26 35.5h1M35 35.5h2M52 35.5h1M5 36.5h1M13 36.5h1M23 36.5h1M49 36.5h1M52 36.5h1M58 36.5h1M5 37.5h1M9 37.5h1M13 37.5h1M23 37.5h1M25 37.5h1M29 37.5h1M42 37.5h2M58 37.5h1M13 38.5h1M18 38.5h1M23 38.5h1M29 38.5h1M35 38.5h1M18 39.5h2M23 39.5h1M35 39.5h1M11 40.5h2M15 40.5h2M19 40.5h1M21 40.5h1M34 40.5h1M43 40.5h1M36 41.5h1M38 41.5h1M55 41.5h3M8 42.5h1M20 42.5h3M25 42.5h1M36 42.5h1M52 42.5h1M19 43.5h1M25 43.5h1M41 43.5h2M51 43.5h3M57 43.5h1M19 44.5h1M21 44.5h2M33 44.5h3M39 44.5h1M54 44.5h1M57 44.5h2M9 45.5h1M19 45.5h1M36 45.5h1M39 45.5h1M52 45.5h2M56 45.5h1M0 46.5h2M9 46.5h1M24 46.5h2M34 46.5h1M36 46.5h1M56 46.5h1M59 46.5h1M5 47.5h1M10 47.5h1M21 47.5h1M25 47.5h1M31 47.5h2M34 47.5h1M36 47.5h1M43 47.5h2M53 47.5h1M59 47.5h1M5 48.5h2M21 48.5h1M29 48.5h1M34 48.5h1M44 48.5h1M53 48.5h1M57 48.5h1M59 48.5h1M5 49.5h1M14 49.5h1M44 49.5h1M48 49.5h2M52 49.5h1M2 50.5h2M5 50.5h1M7 50.5h1M14 50.5h2M17 50.5h1M33 50.5h1M42 50.5h2M46 50.5h1M0 51.5h1M14 51.5h4M48 51.5h1M52 51.5h2M58 51.5h1M0 52.5h1M5 52.5h2M9 52.5h1M17 52.5h2M20 52.5h1M25 52.5h1M28 52.5h1M37 52.5h2M58 52.5h1M14 53.5h1M18 53.5h1M20 53.5h1M25 53.5h1M50 53.5h1M58 53.5h1M22 54.5h1M31 54.5h1M50 54.5h2M56 54.5h3M5 55.5h1M11 55.5h1M31 55.5h1M40 55.5h1M52 55.5h1M11 56.5h1M17 56.5h1M33 56.5h1M44 56.5h2M52 56.5h1M3 57.5h1M17 57.5h2M46 57.5h1M29 58.5h1M34 58.5h1M51 58.5h3M1 59.5h2M29 59.5h1M56 59.5h1"/><path stroke="#6CC1E3" d="M2 1.5h1M15 1.5h1M36 1.5h3M2 2.5h1M30 3.5h1M18 4.5h3M30 4.5h1M39 4.5h1M50 4.5h1M4 6.5h1M39 6.5h1M44 6.5h1M53 6.5h1M4 7.5h1M40 7.5h1M44 7.5h1M58 7.5h2M21 9.5h1M54 9.5h1M21 10.5h1M28 10.5h1M28 11.5h1M39 11.5h3M48 11.5h1M29 13.5h1M55 13.5h2M20 14.5h1M52 14.5h1M3 15.5h1M58 15.5h1M3 16.5h1M22 16.5h1M27 17.5h1M12 18.5h3M16 18.5h1M19 18.5h1M27 18.5h1M48 18.5h2M52 18.5h1M3 19.5h1M9 19.5h2M19 19.5h1M27 19.5h1M34 19.5h1M19 20.5h1M23 20.5h1M29 21.5h1M18 22.5h1M44 22.5h1M8 23.5h1M24 23.5h3M44 23.5h1M47 23.5h2M14 24.5h2M48 24.5h1M16 25.5h1M19 25.5h1M46 25.5h1M47 26.5h1M8 27.5h1M35 27.5h2M7 30.5h1M53 32.5h1M59 32.5h1M52 33.5h3M59 33.5h1M15 34.5h1M26 34.5h1M33 34.5h1M59 34.5h1M17 36.5h3M47 36.5h1M21 38.5h1M21 39.5h1M29 39.5h1M59 39.5h1M17 41.5h1M31 41.5h1M35 41.5h1M37 41.5h1M13 42.5h2M24 42.5h1M29 43.5h1M13 44.5h1M17 45.5h1M17 46.5h1M33 47.5h1M46 47.5h1M8 48.5h1M32 48.5h2M46 48.5h1M2 49.5h2M36 49.5h1M46 49.5h1M24 50.5h1M44 50.5h2M33 51.5h2M6 53.5h3M12 53.5h2M32 53.5h1M2 54.5h1M16 54.5h1M32 54.5h1M16 55.5h1M29 55.5h1M43 55.5h3M15 56.5h1M48 56.5h1M12 57.5h1M15 57.5h1M50 57.5h1M12 58.5h1M22 58.5h1M50 58.5h1M12 59.5h1M50 59.5h1"/></g></pattern><pattern id="sp_o" patternUnits="userSpaceOnUse" patternTransform="scale(1.35)" x="26" y="34" width="60" height="60"><g stroke-width="1" fill="none"><path stroke="#F39533" d="M0 0.5h7M8 0.5h2M12 0.5h1M15 0.5h4M20 0.5h3M24 0.5h6M32 0.5h1M34 0.5h1M38 0.5h3M43 0.5h2M47 0.5h7M55 0.5h2M0 1.5h10M11 1.5h4M17 1.5h1M21 1.5h1M23 1.5h3M28 1.5h1M31 1.5h3M43 1.5h1M45 1.5h5M52 1.5h4M1 2.5h1M8 2.5h2M13 2.5h2M22 2.5h5M28 2.5h1M31 2.5h5M38 2.5h1M40 2.5h1M46 2.5h3M51 2.5h2M55 2.5h1M57 2.5h1M0 3.5h1M2 3.5h3M7 3.5h4M14 3.5h1M17 3.5h4M27 3.5h3M31 3.5h5M37 3.5h2M40 3.5h3M47 3.5h2M54 3.5h1M57 3.5h3M0 4.5h2M6 4.5h5M12 4.5h3M17 4.5h1M19 4.5h1M23 4.5h6M30 4.5h4M37 4.5h1M39 4.5h3M43 4.5h1M46 4.5h2M54 4.5h4M0 5.5h1M2 5.5h1M4 5.5h2M9 5.5h4M16 5.5h1M18 5.5h1M20 5.5h1M23 5.5h3M27 5.5h2M30 5.5h4M37 5.5h2M40 5.5h2M43 5.5h1M46 5.5h4M54 5.5h1M57 5.5h2M0 6.5h3M4 6.5h7M12 6.5h3M16 6.5h3M20 6.5h3M24 6.5h3M28 6.5h2M32 6.5h1M35 6.5h4M40 6.5h5M46 6.5h3M50 6.5h1M52 6.5h3M56 6.5h2M1 7.5h1M3 7.5h1M5 7.5h1M8 7.5h2M12 7.5h3M16 7.5h4M21 7.5h2M24 7.5h2M31 7.5h1M33 7.5h2M37 7.5h6M46 7.5h1M48 7.5h3M52 7.5h1M54 7.5h5M3 8.5h1M9 8.5h2M13 8.5h6M21 8.5h1M26 8.5h5M33 8.5h2M36 8.5h7M46 8.5h5M52 8.5h3M56 8.5h4M3 9.5h1M8 9.5h15M26 9.5h9M36 9.5h6M44 9.5h4M49 9.5h4M56 9.5h1M58 9.5h2M3 10.5h2M8 10.5h4M14 10.5h2M17 10.5h2M21 10.5h1M24 10.5h2M27 10.5h14M43 10.5h5M49 10.5h1M51 10.5h2M54 10.5h2M6 11.5h1M10 11.5h1M13 11.5h3M17 11.5h4M22 11.5h3M26 11.5h3M30 11.5h1M33 11.5h1M35 11.5h1M37 11.5h5M43 11.5h1M46 11.5h1M52 11.5h2M57 11.5h3M3 12.5h1M5 12.5h2M10 12.5h1M14 12.5h2M18 12.5h12M32 12.5h3M37 12.5h2M40 12.5h1M43 12.5h2M50 12.5h1M53 12.5h6M1 13.5h1M5 13.5h2M14 13.5h3M21 13.5h3M26 13.5h2M30 13.5h1M33 13.5h3M37 13.5h4M43 13.5h7M51 13.5h3M55 13.5h3M0 14.5h2M3 14.5h5M10 14.5h1M18 14.5h5M26 14.5h5M33 14.5h2M38 14.5h3M42 14.5h7M50 14.5h4M55 14.5h1M57 14.5h1M59 14.5h1M0 15.5h1M3 15.5h8M12 15.5h4M18 15.5h1M21 15.5h1M24 15.5h3M30 15.5h1M32 15.5h5M38 15.5h1M42 15.5h2M46 15.5h5M52 15.5h5M58 15.5h1M0 16.5h2M7 16.5h3M11 16.5h1M15 16.5h1M17 16.5h5M24 16.5h3M29 16.5h3M33 16.5h1M37 16.5h1M39 16.5h2M42 16.5h1M45 16.5h9M58 16.5h2M0 17.5h1M3 17.5h2M10 17.5h1M12 17.5h11M25 17.5h2M30 17.5h1M32 17.5h1M34 17.5h6M42 17.5h8M51 17.5h1M55 17.5h1M57 17.5h2M1 18.5h1M6 18.5h1M8 18.5h3M12 18.5h8M22 18.5h1M24 18.5h1M26 18.5h4M32 18.5h2M36 18.5h4M41 18.5h9M51 18.5h2M54 18.5h2M57 18.5h1M3 19.5h1M7 19.5h6M15 19.5h1M18 19.5h3M26 19.5h4M31 19.5h5M37 19.5h1M39 19.5h1M43 19.5h10M54 19.5h4M0 20.5h4M6 20.5h3M10 20.5h3M15 20.5h1M19 20.5h1M22 20.5h2M26 20.5h4M31 20.5h1M35 20.5h1M38 20.5h2M41 20.5h1M44 20.5h1M46 20.5h1M51 20.5h2M55 20.5h1M57 20.5h2M0 21.5h4M5 21.5h2M8 21.5h1M10 21.5h3M15 21.5h3M20 21.5h6M27 21.5h2M32 21.5h2M36 21.5h1M38 21.5h5M44 21.5h1M46 21.5h2M50 21.5h1M52 21.5h1M55 21.5h5M0 22.5h1M2 22.5h3M6 22.5h2M9 22.5h5M16 22.5h3M20 22.5h4M25 22.5h5M31 22.5h1M33 22.5h2M36 22.5h2M39 22.5h5M45 22.5h1M47 22.5h1M49 22.5h4M54 22.5h1M56 22.5h4M0 23.5h1M2 23.5h3M6 23.5h2M10 23.5h7M22 23.5h2M25 23.5h1M28 23.5h1M31 23.5h1M34 23.5h1M36 23.5h1M38 23.5h1M42 23.5h9M56 23.5h1M58 23.5h2M0 24.5h2M3 24.5h1M5 24.5h4M10 24.5h1M12 24.5h1M14 24.5h1M18 24.5h1M20 24.5h1M22 24.5h1M24 24.5h1M29 24.5h2M34 24.5h1M37 24.5h1M46 24.5h1M50 24.5h1M52 24.5h4M59 24.5h1M0 25.5h1M3 25.5h1M5 25.5h3M10 25.5h1M12 25.5h2M18 25.5h4M28 25.5h2M33 25.5h4M39 25.5h2M42 25.5h2M45 25.5h4M50 25.5h1M53 25.5h2M57 25.5h1M0 26.5h2M3 26.5h1M6 26.5h5M12 26.5h1M14 26.5h1M16 26.5h5M22 26.5h1M25 26.5h1M29 26.5h2M35 26.5h2M38 26.5h4M43 26.5h5M50 26.5h4M56 26.5h3M0 27.5h3M4 27.5h3M8 27.5h1M10 27.5h1M14 27.5h1M18 27.5h1M20 27.5h2M27 27.5h7M36 27.5h6M44 27.5h1M46 27.5h7M54 27.5h1M56 27.5h4M1 28.5h4M6 28.5h1M9 28.5h3M18 28.5h1M20 28.5h7M31 28.5h1M37 28.5h5M44 28.5h3M48 28.5h5M54 28.5h1M57 28.5h2M4 29.5h1M6 29.5h2M10 29.5h1M12 29.5h4M18 29.5h1M20 29.5h3M24 29.5h1M26 29.5h1M30 29.5h2M33 29.5h5M39 29.5h1M41 29.5h1M45 29.5h2M48 29.5h4M53 29.5h1M56 29.5h1M58 29.5h2M0 30.5h1M12 30.5h4M18 30.5h13M32 30.5h2M35 30.5h1M39 30.5h1M41 30.5h2M45 30.5h1M47 30.5h3M52 30.5h2M57 30.5h1M59 30.5h1M0 31.5h2M4 31.5h1M8 31.5h1M11 31.5h4M16 31.5h4M21 31.5h1M23 31.5h2M26 31.5h3M30 31.5h1M32 31.5h2M35 31.5h9M47 31.5h3M51 31.5h2M54 31.5h1M56 31.5h3M0 32.5h2M4 32.5h7M12 32.5h4M18 32.5h3M23 32.5h1M25 32.5h4M37 32.5h3M41 32.5h4M47 32.5h1M49 32.5h2M52 32.5h5M58 32.5h2M5 33.5h1M7 33.5h1M10 33.5h5M17 33.5h10M28 33.5h2M31 33.5h3M37 33.5h1M41 33.5h2M48 33.5h2M52 33.5h4M57 33.5h3M0 34.5h2M5 34.5h4M10 34.5h8M21 34.5h2M26 34.5h1M31 34.5h1M37 34.5h5M44 34.5h4M49 34.5h2M53 34.5h1M56 34.5h2M59 34.5h1M2 35.5h1M5 35.5h2M9 35.5h7M17 35.5h3M21 35.5h2M24 35.5h3M29 35.5h1M35 35.5h1M37 35.5h3M46 35.5h4M51 35.5h1M53 35.5h2M56 35.5h3M0 36.5h1M2 36.5h4M11 36.5h9M21 36.5h3M26 36.5h3M31 36.5h6M39 36.5h1M42 36.5h2M45 36.5h2M49 36.5h1M51 36.5h1M53 36.5h1M55 36.5h3M2 37.5h4M7 37.5h2M12 37.5h6M20 37.5h4M25 37.5h4M33 37.5h1M35 37.5h5M43 37.5h5M51 37.5h3M55 37.5h1M57 37.5h1M0 38.5h1M2 38.5h5M10 38.5h1M12 38.5h1M14 38.5h1M16 38.5h2M19 38.5h1M21 38.5h1M26 38.5h2M31 38.5h1M33 38.5h7M41 38.5h2M44 38.5h5M51 38.5h1M57 38.5h1M59 38.5h1M0 39.5h7M10 39.5h1M12 39.5h5M18 39.5h1M23 39.5h1M26 39.5h4M31 39.5h1M34 39.5h3M40 39.5h1M42 39.5h3M46 39.5h2M51 39.5h2M54 39.5h6M1 40.5h7M9 40.5h1M12 40.5h1M14 40.5h2M18 40.5h6M25 40.5h1M27 40.5h2M31 40.5h3M35 40.5h1M38 40.5h1M40 40.5h1M42 40.5h2M49 40.5h4M54 40.5h1M57 40.5h3M0 41.5h1M5 41.5h2M8 41.5h1M10 41.5h7M19 41.5h3M23 41.5h3M28 41.5h1M33 41.5h2M39 41.5h8M49 41.5h4M55 41.5h1M57 41.5h1M59 41.5h1M0 42.5h3M4 42.5h4M9 42.5h11M21 42.5h2M25 42.5h1M27 42.5h11M39 42.5h1M42 42.5h3M47 42.5h3M51 42.5h3M55 42.5h2M58 42.5h1M5 43.5h2M9 43.5h1M12 43.5h6M22 43.5h4M29 43.5h1M32 43.5h1M34 43.5h8M43 43.5h11M55 43.5h1M57 43.5h2M1 44.5h5M12 44.5h4M19 44.5h1M21 44.5h2M30 44.5h2M34 44.5h7M44 44.5h2M48 44.5h1M50 44.5h2M53 44.5h3M58 44.5h2M0 45.5h3M9 45.5h1M11 45.5h1M14 45.5h2M17 45.5h1M20 45.5h1M22 45.5h3M27 45.5h5M33 45.5h2M37 45.5h2M44 45.5h5M51 45.5h1M54 45.5h2M58 45.5h2M0 46.5h3M5 46.5h3M9 46.5h1M11 46.5h2M14 46.5h1M16 46.5h3M20 46.5h1M22 46.5h4M27 46.5h5M34 46.5h1M37 46.5h1M43 46.5h4M48 46.5h1M50 46.5h2M54 46.5h2M58 46.5h2M4 47.5h1M7 47.5h4M13 47.5h1M15 47.5h1M19 47.5h3M24 47.5h2M29 47.5h4M34 47.5h4M39 47.5h10M52 47.5h1M56 47.5h4M2 48.5h2M6 48.5h2M12 48.5h4M21 48.5h2M25 48.5h1M28 48.5h3M33 48.5h3M37 48.5h3M41 48.5h2M47 48.5h2M51 48.5h2M56 48.5h4M8 49.5h1M11 49.5h3M15 49.5h1M17 49.5h6M25 49.5h1M27 49.5h6M35 49.5h3M41 49.5h3M46 49.5h5M53 49.5h6M2 50.5h3M6 50.5h6M15 50.5h1M18 50.5h5M25 50.5h1M29 50.5h1M32 50.5h4M37 50.5h8M47 50.5h1M50 50.5h4M56 50.5h1M59 50.5h1M1 51.5h2M4 51.5h4M11 51.5h2M18 51.5h1M20 51.5h4M25 51.5h2M28 51.5h8M37 51.5h1M43 51.5h1M47 51.5h6M54 51.5h2M0 52.5h3M6 52.5h1M8 52.5h2M12 52.5h3M21 52.5h2M25 52.5h1M28 52.5h1M30 52.5h1M33 52.5h4M39 52.5h2M47 52.5h5M53 52.5h1M57 52.5h3M2 53.5h3M6 53.5h1M9 53.5h1M13 53.5h3M21 53.5h5M28 53.5h3M32 53.5h1M37 53.5h8M46 53.5h4M53 53.5h1M55 53.5h3M12 54.5h1M14 54.5h2M17 54.5h8M30 54.5h3M34 54.5h6M42 54.5h1M44 54.5h3M48 54.5h7M57 54.5h3M1 55.5h1M7 55.5h1M10 55.5h3M15 55.5h3M20 55.5h3M24 55.5h2M28 55.5h7M38 55.5h3M42 55.5h1M44 55.5h2M47 55.5h1M49 55.5h4M57 55.5h2M1 56.5h2M7 56.5h1M10 56.5h4M17 56.5h1M20 56.5h6M29 56.5h1M32 56.5h2M35 56.5h5M42 56.5h8M51 56.5h3M57 56.5h2M4 57.5h1M7 57.5h4M15 57.5h1M17 57.5h3M21 57.5h3M28 57.5h1M31 57.5h3M35 57.5h4M41 57.5h3M46 57.5h1M49 57.5h5M57 57.5h2M0 58.5h2M4 58.5h1M6 58.5h1M8 58.5h3M15 58.5h1M17 58.5h3M21 58.5h3M25 58.5h1M27 58.5h1M29 58.5h1M31 58.5h1M33 58.5h4M38 58.5h1M40 58.5h3M44 58.5h2M47 58.5h1M49 58.5h1M51 58.5h1M54 58.5h2M58 58.5h2M0 59.5h5M8 59.5h2M12 59.5h1M15 59.5h1M21 59.5h1M23 59.5h7M32 59.5h1M34 59.5h3M38 59.5h1M40 59.5h1M42 59.5h3M54 59.5h2M57 59.5h3"/><path stroke="#E2402B" d="M10 0.5h1M54 0.5h1M59 0.5h1M15 1.5h1M27 1.5h1M29 1.5h2M50 1.5h1M0 2.5h1M16 2.5h1M29 2.5h2M49 2.5h1M58 2.5h2M21 3.5h1M25 3.5h2M30 3.5h1M38 4.5h1M58 4.5h1M19 5.5h1M59 5.5h1M23 6.5h1M58 6.5h1M2 7.5h1M23 7.5h1M53 7.5h1M59 7.5h1M0 8.5h1M2 8.5h1M7 8.5h1M25 8.5h1M43 8.5h2M55 8.5h1M0 9.5h1M2 9.5h1M7 9.5h1M55 9.5h1M2 10.5h1M7 10.5h1M16 10.5h1M2 11.5h1M7 11.5h1M32 11.5h1M34 11.5h1M36 11.5h1M44 11.5h2M36 12.5h1M10 13.5h2M36 13.5h1M41 13.5h1M50 13.5h1M59 13.5h1M56 14.5h1M1 15.5h1M11 15.5h1M31 15.5h1M3 16.5h2M10 16.5h1M20 18.5h2M25 18.5h1M53 18.5h1M23 19.5h1M25 19.5h1M41 19.5h2M5 20.5h1M20 20.5h1M18 21.5h1M30 21.5h1M30 22.5h1M8 23.5h1M30 23.5h1M41 23.5h1M9 24.5h1M26 24.5h3M39 24.5h1M42 24.5h1M51 24.5h1M9 25.5h1M11 25.5h1M23 26.5h1M26 26.5h1M37 26.5h1M16 27.5h1M23 27.5h1M26 27.5h1M7 28.5h1M16 28.5h1M2 29.5h1M16 29.5h1M23 29.5h1M38 29.5h1M55 29.5h1M2 30.5h1M7 30.5h1M9 30.5h1M38 30.5h1M55 30.5h1M2 31.5h1M5 31.5h1M9 31.5h1M20 31.5h1M55 31.5h1M2 32.5h1M16 32.5h2M30 32.5h1M32 32.5h2M36 32.5h1M46 32.5h1M57 32.5h1M27 33.5h1M30 33.5h1M36 33.5h1M40 33.5h1M47 33.5h1M19 34.5h2M23 34.5h1M27 34.5h1M35 34.5h2M1 35.5h1M16 35.5h1M27 35.5h1M36 35.5h1M24 36.5h2M44 36.5h1M0 37.5h1M19 37.5h1M30 37.5h1M25 38.5h1M28 38.5h3M20 39.5h1M25 39.5h1M30 39.5h1M11 40.5h1M13 40.5h1M16 40.5h1M37 40.5h1M45 40.5h3M30 41.5h1M37 41.5h1M58 41.5h1M8 42.5h1M26 42.5h1M50 42.5h1M7 43.5h1M26 43.5h1M31 43.5h1M42 43.5h1M56 43.5h1M7 44.5h1M17 44.5h1M42 44.5h1M56 44.5h1M10 45.5h1M35 45.5h1M41 45.5h1M49 45.5h2M19 46.5h1M40 46.5h1M49 46.5h1M1 47.5h3M6 47.5h1M26 47.5h3M49 47.5h1M40 48.5h1M53 48.5h1M0 49.5h1M2 49.5h1M4 49.5h4M9 49.5h1M14 49.5h1M38 49.5h1M51 49.5h2M0 50.5h1M31 50.5h1M0 51.5h1M13 51.5h2M40 51.5h2M44 51.5h3M17 52.5h1M45 52.5h2M54 52.5h3M17 53.5h1M45 53.5h1M58 53.5h1M27 54.5h3M40 54.5h1M43 54.5h1M55 54.5h2M19 55.5h1M43 55.5h1M54 55.5h2M3 56.5h1M8 56.5h2M19 56.5h1M40 56.5h1M5 57.5h1M12 57.5h1M14 57.5h1M5 58.5h1M12 58.5h1M30 58.5h1M56 58.5h1M5 59.5h2M10 59.5h1M13 59.5h1M48 59.5h2M56 59.5h1"/><path stroke="#6CC1E3" d="M34 1.5h1M50 2.5h1M24 3.5h1M46 3.5h1M50 3.5h1M55 3.5h2M20 4.5h3M50 4.5h1M50 5.5h1M45 6.5h1M0 7.5h1M6 7.5h1M26 7.5h1M6 8.5h1M35 8.5h1M6 9.5h1M42 10.5h1M42 11.5h1M47 12.5h1M11 14.5h1M39 15.5h1M32 16.5h1M35 16.5h2M56 16.5h1M5 17.5h1M56 17.5h1M0 18.5h1M0 19.5h1M16 19.5h1M59 19.5h1M16 20.5h1M59 20.5h1M19 23.5h1M51 23.5h1M57 23.5h1M17 24.5h1M19 24.5h1M21 24.5h1M23 24.5h1M43 24.5h1M45 24.5h1M47 24.5h1M1 25.5h2M16 25.5h1M30 25.5h1M55 25.5h1M58 25.5h1M5 26.5h1M15 26.5h1M28 26.5h1M55 26.5h1M15 27.5h1M15 28.5h1M47 28.5h1M19 29.5h1M47 29.5h1M57 29.5h1M4 30.5h2M46 30.5h1M56 30.5h1M50 31.5h1M35 32.5h1M4 33.5h1M45 33.5h2M4 34.5h1M48 34.5h1M52 35.5h1M52 36.5h1M58 37.5h1M36 40.5h1M45 42.5h1M0 43.5h2M18 43.5h4M9 44.5h1M16 44.5h1M24 44.5h1M3 46.5h2M14 47.5h1M53 47.5h1M16 48.5h3M20 48.5h1M16 49.5h1M19 51.5h1M53 51.5h1M56 51.5h1M19 52.5h1M23 52.5h2M52 52.5h1M34 53.5h3M52 53.5h1M6 55.5h1M6 56.5h1M54 56.5h3M6 57.5h1M20 57.5h1M56 57.5h1M20 58.5h1M16 59.5h3M20 59.5h1M53 59.5h1"/></g></pattern><pattern id="sp_m" patternUnits="userSpaceOnUse" patternTransform="scale(1.35)" x="39" y="51" width="60" height="60"><g stroke-width="1" fill="none"><path stroke="#F39533" d="M3 0.5h2M7 0.5h2M11 0.5h1M14 0.5h1M23 0.5h1M26 0.5h2M39 0.5h1M42 0.5h1M44 0.5h1M52 0.5h1M1 1.5h4M6 1.5h1M14 1.5h1M21 1.5h1M25 1.5h1M29 1.5h3M34 1.5h1M37 1.5h1M42 1.5h1M44 1.5h1M47 1.5h1M50 1.5h1M52 1.5h1M54 1.5h4M2 2.5h1M6 2.5h1M14 2.5h3M29 2.5h2M32 2.5h4M37 2.5h1M44 2.5h2M47 2.5h2M50 2.5h1M56 2.5h2M4 3.5h4M11 3.5h2M15 3.5h2M22 3.5h1M25 3.5h3M29 3.5h1M31 3.5h2M35 3.5h1M37 3.5h1M39 3.5h1M44 3.5h2M47 3.5h1M49 3.5h1M52 3.5h2M56 3.5h2M0 4.5h1M4 4.5h2M12 4.5h5M21 4.5h1M23 4.5h1M25 4.5h1M27 4.5h1M29 4.5h2M32 4.5h2M35 4.5h2M44 4.5h1M49 4.5h1M52 4.5h1M56 4.5h4M0 5.5h1M11 5.5h2M17 5.5h1M25 5.5h4M30 5.5h8M44 5.5h1M46 5.5h1M53 5.5h1M59 5.5h1M11 6.5h2M14 6.5h4M25 6.5h1M27 6.5h1M33 6.5h1M35 6.5h2M39 6.5h2M46 6.5h1M51 6.5h3M56 6.5h1M58 6.5h2M4 7.5h1M9 7.5h2M12 7.5h3M16 7.5h2M45 7.5h4M53 7.5h1M56 7.5h1M1 8.5h1M3 8.5h2M14 8.5h3M20 8.5h1M30 8.5h2M43 8.5h3M51 8.5h1M53 8.5h3M1 9.5h4M8 9.5h1M10 9.5h2M16 9.5h1M19 9.5h5M26 9.5h1M30 9.5h1M35 9.5h1M43 9.5h2M51 9.5h1M57 9.5h3M1 10.5h3M7 10.5h2M14 10.5h1M19 10.5h2M23 10.5h1M25 10.5h1M27 10.5h1M30 10.5h1M42 10.5h1M56 10.5h2M59 10.5h1M5 11.5h1M7 11.5h2M18 11.5h1M23 11.5h1M30 11.5h1M33 11.5h2M37 11.5h1M41 11.5h2M49 11.5h1M51 11.5h1M56 11.5h1M5 12.5h1M11 12.5h2M14 12.5h2M17 12.5h2M21 12.5h1M24 12.5h3M29 12.5h1M32 12.5h4M37 12.5h2M40 12.5h7M58 12.5h2M2 13.5h4M11 13.5h2M14 13.5h1M17 13.5h2M21 13.5h1M23 13.5h1M25 13.5h3M32 13.5h3M40 13.5h2M43 13.5h1M49 13.5h1M55 13.5h3M0 14.5h1M4 14.5h4M12 14.5h1M16 14.5h1M18 14.5h1M22 14.5h2M27 14.5h3M31 14.5h2M38 14.5h4M43 14.5h1M47 14.5h1M50 14.5h1M52 14.5h1M55 14.5h3M1 15.5h2M5 15.5h1M7 15.5h1M10 15.5h1M12 15.5h1M18 15.5h3M23 15.5h1M27 15.5h6M34 15.5h3M39 15.5h1M48 15.5h5M55 15.5h2M0 16.5h2M3 16.5h6M10 16.5h2M13 16.5h1M15 16.5h1M17 16.5h1M19 16.5h1M27 16.5h1M30 16.5h1M33 16.5h1M37 16.5h2M40 16.5h1M42 16.5h2M56 16.5h2M2 17.5h1M9 17.5h2M15 17.5h3M19 17.5h1M21 17.5h3M25 17.5h1M31 17.5h1M33 17.5h1M36 17.5h1M40 17.5h1M42 17.5h1M48 17.5h2M52 17.5h3M0 18.5h3M7 18.5h1M16 18.5h4M21 18.5h1M23 18.5h1M28 18.5h2M33 18.5h2M40 18.5h1M42 18.5h1M53 18.5h1M55 18.5h4M0 19.5h1M6 19.5h1M14 19.5h1M16 19.5h1M20 19.5h3M24 19.5h4M29 19.5h1M31 19.5h2M34 19.5h1M37 19.5h1M41 19.5h1M45 19.5h1M53 19.5h1M57 19.5h3M1 20.5h2M4 20.5h1M13 20.5h1M16 20.5h1M23 20.5h2M26 20.5h3M37 20.5h2M40 20.5h2M43 20.5h3M48 20.5h2M53 20.5h2M58 20.5h2M0 21.5h2M8 21.5h2M13 21.5h2M21 21.5h6M33 21.5h4M39 21.5h1M41 21.5h3M48 21.5h2M52 21.5h3M57 21.5h3M0 22.5h2M3 22.5h1M6 22.5h1M12 22.5h1M20 22.5h4M26 22.5h1M30 22.5h2M39 22.5h1M47 22.5h3M51 22.5h1M53 22.5h3M0 23.5h1M7 23.5h1M9 23.5h2M13 23.5h2M19 23.5h5M25 23.5h1M27 23.5h4M34 23.5h1M40 23.5h1M42 23.5h2M54 23.5h1M6 24.5h1M10 24.5h1M12 24.5h1M30 24.5h1M32 24.5h3M36 24.5h1M39 24.5h1M52 24.5h1M1 25.5h1M6 25.5h2M10 25.5h1M13 25.5h2M16 25.5h1M21 25.5h1M27 25.5h2M30 25.5h1M32 25.5h4M40 25.5h1M43 25.5h1M50 25.5h3M54 25.5h1M0 26.5h1M3 26.5h2M6 26.5h2M10 26.5h1M12 26.5h4M21 26.5h1M24 26.5h1M30 26.5h3M34 26.5h5M41 26.5h1M43 26.5h1M52 26.5h1M54 26.5h2M0 27.5h1M3 27.5h2M6 27.5h3M10 27.5h4M19 27.5h3M23 27.5h1M29 27.5h2M32 27.5h2M38 27.5h1M41 27.5h2M45 27.5h1M50 27.5h3M58 27.5h2M1 28.5h4M6 28.5h1M15 28.5h1M21 28.5h3M25 28.5h1M28 28.5h3M37 28.5h4M45 28.5h2M48 28.5h1M50 28.5h1M52 28.5h1M56 28.5h4M1 29.5h1M5 29.5h2M13 29.5h1M15 29.5h1M18 29.5h2M22 29.5h1M25 29.5h1M27 29.5h3M31 29.5h3M40 29.5h1M46 29.5h1M51 29.5h2M56 29.5h4M1 30.5h2M6 30.5h1M12 30.5h3M16 30.5h4M21 30.5h1M24 30.5h1M27 30.5h1M33 30.5h3M45 30.5h4M52 30.5h3M58 30.5h2M1 31.5h1M4 31.5h1M7 31.5h2M12 31.5h1M17 31.5h1M20 31.5h1M24 31.5h1M26 31.5h2M32 31.5h1M39 31.5h1M41 31.5h1M45 31.5h2M51 31.5h1M54 31.5h2M57 31.5h1M0 32.5h2M11 32.5h3M16 32.5h3M24 32.5h2M27 32.5h1M33 32.5h1M35 32.5h2M45 32.5h2M48 32.5h1M51 32.5h1M53 32.5h1M55 32.5h1M58 32.5h2M0 33.5h1M4 33.5h1M8 33.5h1M11 33.5h3M21 33.5h1M24 33.5h2M30 33.5h1M33 33.5h1M35 33.5h2M45 33.5h1M48 33.5h1M51 33.5h1M53 33.5h1M55 33.5h1M0 34.5h2M3 34.5h1M7 34.5h3M11 34.5h4M18 34.5h2M23 34.5h2M26 34.5h1M28 34.5h1M32 34.5h3M36 34.5h1M38 34.5h1M44 34.5h1M50 34.5h2M58 34.5h2M3 35.5h3M9 35.5h1M16 35.5h1M23 35.5h1M29 35.5h2M32 35.5h1M35 35.5h2M38 35.5h1M41 35.5h2M56 35.5h1M4 36.5h4M9 36.5h1M11 36.5h2M16 36.5h1M19 36.5h1M23 36.5h2M29 36.5h2M32 36.5h1M34 36.5h6M41 36.5h2M44 36.5h2M52 36.5h3M56 36.5h1M4 37.5h2M9 37.5h2M12 37.5h1M17 37.5h1M22 37.5h4M29 37.5h4M34 37.5h2M38 37.5h1M41 37.5h1M48 37.5h2M51 37.5h1M53 37.5h4M59 37.5h1M5 38.5h6M14 38.5h1M32 38.5h4M38 38.5h1M40 38.5h4M46 38.5h4M52 38.5h1M0 39.5h1M2 39.5h3M9 39.5h2M14 39.5h1M16 39.5h4M21 39.5h4M32 39.5h1M36 39.5h1M38 39.5h2M41 39.5h7M52 39.5h1M57 39.5h1M0 40.5h1M3 40.5h3M9 40.5h2M13 40.5h1M23 40.5h1M26 40.5h3M30 40.5h1M33 40.5h4M38 40.5h1M41 40.5h2M44 40.5h1M46 40.5h1M50 40.5h3M54 40.5h1M59 40.5h1M3 41.5h1M9 41.5h1M15 41.5h2M26 41.5h6M34 41.5h1M37 41.5h1M39 41.5h2M50 41.5h1M52 41.5h1M55 41.5h2M58 41.5h1M1 42.5h1M3 42.5h2M7 42.5h1M9 42.5h2M13 42.5h3M17 42.5h1M27 42.5h2M30 42.5h2M34 42.5h1M39 42.5h1M47 42.5h1M50 42.5h1M56 42.5h1M4 43.5h1M7 43.5h1M12 43.5h1M15 43.5h1M28 43.5h1M34 43.5h3M41 43.5h3M45 43.5h1M48 43.5h1M55 43.5h1M3 44.5h7M12 44.5h1M15 44.5h1M17 44.5h2M33 44.5h3M37 44.5h3M44 44.5h1M55 44.5h1M1 45.5h1M3 45.5h1M6 45.5h1M8 45.5h1M13 45.5h2M18 45.5h3M22 45.5h1M24 45.5h1M31 45.5h3M35 45.5h2M38 45.5h8M48 45.5h2M52 45.5h6M7 46.5h1M12 46.5h2M20 46.5h1M24 46.5h1M26 46.5h1M28 46.5h2M31 46.5h3M35 46.5h1M38 46.5h1M40 46.5h2M44 46.5h1M52 46.5h1M4 47.5h1M7 47.5h3M13 47.5h1M20 47.5h1M23 47.5h2M31 47.5h2M41 47.5h1M44 47.5h1M51 47.5h1M58 47.5h2M0 48.5h1M3 48.5h3M8 48.5h2M11 48.5h2M15 48.5h1M20 48.5h2M23 48.5h1M26 48.5h2M30 48.5h1M42 48.5h1M49 48.5h1M51 48.5h1M57 48.5h1M59 48.5h1M1 49.5h3M10 49.5h1M14 49.5h5M26 49.5h1M32 49.5h2M35 49.5h2M38 49.5h2M42 49.5h1M49 49.5h1M58 49.5h2M0 50.5h2M3 50.5h1M6 50.5h1M10 50.5h2M16 50.5h1M18 50.5h2M21 50.5h1M23 50.5h2M26 50.5h1M43 50.5h1M48 50.5h2M56 50.5h2M59 50.5h1M0 51.5h2M3 51.5h3M7 51.5h2M11 51.5h1M13 51.5h1M15 51.5h2M19 51.5h3M24 51.5h2M30 51.5h2M33 51.5h1M46 51.5h1M51 51.5h3M59 51.5h1M3 52.5h2M9 52.5h1M13 52.5h2M16 52.5h1M20 52.5h3M25 52.5h1M27 52.5h2M35 52.5h2M50 52.5h3M57 52.5h2M4 53.5h3M12 53.5h3M16 53.5h1M20 53.5h4M28 53.5h1M30 53.5h3M36 53.5h1M39 53.5h1M42 53.5h1M47 53.5h3M56 53.5h1M1 54.5h1M4 54.5h1M7 54.5h3M16 54.5h2M23 54.5h6M30 54.5h1M34 54.5h1M36 54.5h1M40 54.5h5M46 54.5h2M49 54.5h2M52 54.5h1M55 54.5h2M0 55.5h3M6 55.5h2M16 55.5h3M24 55.5h3M29 55.5h2M32 55.5h1M34 55.5h1M46 55.5h2M49 55.5h2M54 55.5h1M2 56.5h1M7 56.5h1M10 56.5h3M16 56.5h2M22 56.5h2M27 56.5h1M31 56.5h1M33 56.5h3M39 56.5h1M41 56.5h3M46 56.5h2M49 56.5h2M52 56.5h1M58 56.5h2M0 57.5h1M2 57.5h1M12 57.5h1M24 57.5h1M27 57.5h1M30 57.5h2M34 57.5h1M37 57.5h1M53 57.5h2M58 57.5h2M12 58.5h1M15 58.5h1M18 58.5h4M23 58.5h1M35 58.5h1M37 58.5h5M44 58.5h2M49 58.5h1M52 58.5h2M58 58.5h1M4 59.5h2M7 59.5h1M9 59.5h1M14 59.5h3M20 59.5h2M23 59.5h2M30 59.5h1M32 59.5h3M36 59.5h1M42 59.5h1M46 59.5h1M51 59.5h2M56 59.5h1"/><path stroke="#E2402B" d="M5 0.5h2M10 0.5h1M15 0.5h3M21 0.5h2M24 0.5h2M28 0.5h1M33 0.5h1M35 0.5h1M37 0.5h1M40 0.5h1M47 0.5h1M53 0.5h1M58 0.5h1M9 1.5h2M15 1.5h1M22 1.5h2M33 1.5h1M35 1.5h1M45 1.5h1M58 1.5h1M1 2.5h1M4 2.5h2M9 2.5h1M20 2.5h3M24 2.5h2M36 2.5h1M40 2.5h2M52 2.5h1M54 2.5h2M58 2.5h2M0 3.5h2M10 3.5h1M13 3.5h2M17 3.5h5M24 3.5h1M28 3.5h1M33 3.5h1M38 3.5h1M40 3.5h2M48 3.5h1M54 3.5h1M58 3.5h2M1 4.5h2M7 4.5h4M24 4.5h1M31 4.5h1M40 4.5h2M53 4.5h1M1 5.5h3M5 5.5h1M7 5.5h1M9 5.5h2M18 5.5h7M38 5.5h1M43 5.5h1M48 5.5h1M54 5.5h5M9 6.5h1M20 6.5h1M22 6.5h2M26 6.5h1M30 6.5h3M38 6.5h1M41 6.5h4M1 7.5h1M5 7.5h2M18 7.5h3M22 7.5h5M33 7.5h1M36 7.5h1M38 7.5h1M49 7.5h4M54 7.5h1M57 7.5h1M2 8.5h1M9 8.5h1M18 8.5h1M21 8.5h3M33 8.5h5M49 8.5h2M52 8.5h1M56 8.5h2M59 8.5h1M9 9.5h1M12 9.5h1M14 9.5h1M17 9.5h1M28 9.5h2M31 9.5h1M34 9.5h1M36 9.5h4M47 9.5h1M50 9.5h1M52 9.5h3M56 9.5h1M21 10.5h1M24 10.5h1M28 10.5h1M31 10.5h2M34 10.5h1M36 10.5h2M47 10.5h1M50 10.5h4M58 10.5h1M10 11.5h1M17 11.5h1M19 11.5h3M24 11.5h3M32 11.5h1M36 11.5h1M38 11.5h2M47 11.5h1M50 11.5h1M58 11.5h1M0 12.5h5M6 12.5h2M10 12.5h1M19 12.5h1M22 12.5h1M31 12.5h1M39 12.5h1M52 12.5h1M56 12.5h1M0 13.5h1M9 13.5h1M15 13.5h1M20 13.5h1M22 13.5h1M37 13.5h1M50 13.5h1M52 13.5h1M58 13.5h1M3 14.5h1M9 14.5h3M17 14.5h1M20 14.5h1M25 14.5h2M37 14.5h1M42 14.5h1M44 14.5h1M48 14.5h2M58 14.5h1M3 15.5h2M11 15.5h1M13 15.5h1M16 15.5h2M26 15.5h1M37 15.5h2M42 15.5h1M44 15.5h1M53 15.5h2M57 15.5h2M12 16.5h1M16 16.5h1M18 16.5h1M25 16.5h2M35 16.5h2M39 16.5h1M44 16.5h1M52 16.5h3M1 17.5h1M7 17.5h2M12 17.5h1M14 17.5h1M18 17.5h1M24 17.5h1M39 17.5h1M44 17.5h1M46 17.5h1M55 17.5h3M59 17.5h1M4 18.5h3M8 18.5h1M10 18.5h3M14 18.5h1M20 18.5h1M24 18.5h2M30 18.5h2M36 18.5h4M44 18.5h1M46 18.5h1M49 18.5h1M52 18.5h1M54 18.5h1M5 19.5h1M9 19.5h2M12 19.5h1M17 19.5h1M19 19.5h1M28 19.5h1M30 19.5h1M35 19.5h2M38 19.5h2M43 19.5h1M46 19.5h4M52 19.5h1M54 19.5h3M0 20.5h1M7 20.5h1M9 20.5h1M14 20.5h2M17 20.5h3M25 20.5h1M30 20.5h2M34 20.5h2M39 20.5h1M50 20.5h1M56 20.5h2M2 21.5h2M15 21.5h1M18 21.5h3M37 21.5h1M55 21.5h1M2 22.5h1M8 22.5h2M11 22.5h1M13 22.5h2M16 22.5h4M29 22.5h1M34 22.5h4M44 22.5h3M52 22.5h1M56 22.5h1M5 23.5h2M11 23.5h1M16 23.5h1M26 23.5h1M32 23.5h1M39 23.5h1M41 23.5h1M44 23.5h3M49 23.5h5M57 23.5h1M7 24.5h1M11 24.5h1M16 24.5h1M19 24.5h3M23 24.5h1M27 24.5h3M35 24.5h1M37 24.5h2M40 24.5h1M42 24.5h1M44 24.5h7M54 24.5h2M57 24.5h1M0 25.5h1M9 25.5h1M11 25.5h1M15 25.5h1M23 25.5h1M25 25.5h1M29 25.5h1M31 25.5h1M37 25.5h2M42 25.5h1M48 25.5h2M56 25.5h4M1 26.5h1M9 26.5h1M11 26.5h1M23 26.5h1M25 26.5h1M27 26.5h1M33 26.5h1M39 26.5h1M42 26.5h1M46 26.5h4M53 26.5h1M57 26.5h1M14 27.5h2M22 27.5h1M24 27.5h3M28 27.5h1M34 27.5h1M36 27.5h2M39 27.5h2M44 27.5h1M47 27.5h1M49 27.5h1M53 27.5h1M57 27.5h1M8 28.5h1M14 28.5h1M16 28.5h2M19 28.5h1M24 28.5h1M26 28.5h1M31 28.5h3M44 28.5h1M47 28.5h1M49 28.5h1M51 28.5h1M54 28.5h2M3 29.5h2M9 29.5h1M11 29.5h2M16 29.5h2M20 29.5h2M24 29.5h1M26 29.5h1M30 29.5h1M35 29.5h2M38 29.5h2M42 29.5h1M45 29.5h1M49 29.5h2M55 29.5h1M3 30.5h2M7 30.5h5M22 30.5h1M28 30.5h1M31 30.5h2M36 30.5h7M49 30.5h1M51 30.5h1M0 31.5h1M2 31.5h1M5 31.5h2M9 31.5h2M14 31.5h2M18 31.5h1M28 31.5h4M36 31.5h3M40 31.5h1M47 31.5h2M52 31.5h2M59 31.5h1M2 32.5h3M6 32.5h2M10 32.5h1M15 32.5h1M34 32.5h1M37 32.5h1M40 32.5h2M49 32.5h1M52 32.5h1M54 32.5h1M57 32.5h1M1 33.5h3M6 33.5h1M9 33.5h2M14 33.5h1M23 33.5h1M26 33.5h1M34 33.5h1M37 33.5h1M39 33.5h1M47 33.5h1M49 33.5h1M56 33.5h1M2 34.5h1M5 34.5h2M16 34.5h2M21 34.5h2M35 34.5h1M37 34.5h1M39 34.5h1M42 34.5h2M45 34.5h5M55 34.5h2M6 35.5h1M14 35.5h1M18 35.5h4M25 35.5h2M28 35.5h1M33 35.5h2M40 35.5h1M44 35.5h6M1 36.5h1M15 36.5h1M20 36.5h3M28 36.5h1M31 36.5h1M33 36.5h1M40 36.5h1M46 36.5h4M51 36.5h1M55 36.5h1M57 36.5h1M1 37.5h1M14 37.5h2M20 37.5h2M28 37.5h1M33 37.5h1M39 37.5h2M42 37.5h4M0 38.5h2M13 38.5h1M15 38.5h3M22 38.5h2M29 38.5h2M44 38.5h2M54 38.5h2M58 38.5h2M5 39.5h3M13 39.5h1M15 39.5h1M27 39.5h1M31 39.5h1M33 39.5h3M48 39.5h1M50 39.5h2M58 39.5h1M17 40.5h1M22 40.5h1M31 40.5h2M43 40.5h1M45 40.5h1M48 40.5h1M55 40.5h1M58 40.5h1M4 41.5h2M11 41.5h2M17 41.5h1M21 41.5h2M32 41.5h2M43 41.5h3M49 41.5h1M51 41.5h1M59 41.5h1M5 42.5h2M12 42.5h1M16 42.5h1M18 42.5h3M23 42.5h4M32 42.5h1M37 42.5h1M41 42.5h1M44 42.5h3M49 42.5h1M51 42.5h2M57 42.5h1M1 43.5h3M6 43.5h1M8 43.5h3M21 43.5h3M26 43.5h2M31 43.5h3M37 43.5h1M44 43.5h1M46 43.5h2M50 43.5h2M54 43.5h1M56 43.5h1M1 44.5h2M26 44.5h7M41 44.5h1M47 44.5h1M49 44.5h1M54 44.5h1M56 44.5h1M2 45.5h1M10 45.5h1M15 45.5h1M23 45.5h1M29 45.5h2M47 45.5h1M50 45.5h1M0 46.5h2M18 46.5h2M23 46.5h1M25 46.5h1M30 46.5h1M36 46.5h1M45 46.5h1M50 46.5h1M59 46.5h1M0 47.5h2M5 47.5h1M14 47.5h1M16 47.5h2M19 47.5h1M22 47.5h1M26 47.5h5M36 47.5h5M45 47.5h3M50 47.5h1M52 47.5h1M54 47.5h1M56 47.5h2M1 48.5h1M6 48.5h2M14 48.5h1M16 48.5h4M28 48.5h2M36 48.5h1M40 48.5h1M46 48.5h3M50 48.5h1M52 48.5h4M0 49.5h1M6 49.5h1M13 49.5h1M21 49.5h5M28 49.5h4M37 49.5h1M40 49.5h2M44 49.5h1M46 49.5h3M54 49.5h3M2 50.5h1M4 50.5h1M8 50.5h2M12 50.5h2M27 50.5h1M31 50.5h1M38 50.5h1M40 50.5h3M45 50.5h2M51 50.5h1M55 50.5h1M2 51.5h1M10 51.5h1M17 51.5h2M26 51.5h2M32 51.5h1M37 51.5h7M45 51.5h1M48 51.5h1M54 51.5h4M0 52.5h3M10 52.5h1M12 52.5h1M18 52.5h2M24 52.5h1M26 52.5h1M37 52.5h4M42 52.5h4M48 52.5h1M53 52.5h3M59 52.5h1M2 53.5h1M19 53.5h1M24 53.5h1M26 53.5h1M41 53.5h1M45 53.5h1M54 53.5h1M5 54.5h1M21 54.5h2M32 54.5h1M38 54.5h1M45 54.5h1M5 55.5h1M10 55.5h1M21 55.5h2M35 55.5h1M38 55.5h4M44 55.5h1M48 55.5h1M52 55.5h2M56 55.5h2M0 56.5h1M9 56.5h1M15 56.5h1M21 56.5h1M26 56.5h1M29 56.5h2M32 56.5h1M38 56.5h1M40 56.5h1M44 56.5h1M53 56.5h3M4 57.5h3M8 57.5h4M14 57.5h1M25 57.5h2M32 57.5h2M35 57.5h2M38 57.5h1M41 57.5h1M44 57.5h1M50 57.5h1M55 57.5h1M57 57.5h1M0 58.5h2M7 58.5h5M14 58.5h1M31 58.5h4M43 58.5h1M55 58.5h1M6 59.5h1M8 59.5h1M11 59.5h1M17 59.5h3M26 59.5h3M31 59.5h1M35 59.5h1M37 59.5h1M39 59.5h3M49 59.5h1M53 59.5h2M58 59.5h1"/><path stroke="#6CC1E3" d="M48 0.5h1M0 1.5h1M36 1.5h1M48 1.5h1M59 1.5h1M19 2.5h1M43 2.5h1M51 2.5h1M51 3.5h1M51 4.5h1M15 5.5h2M0 6.5h2M5 6.5h1M13 6.5h1M37 6.5h1M11 7.5h1M42 7.5h1M40 8.5h1M42 8.5h1M48 8.5h1M27 9.5h1M40 9.5h1M42 9.5h1M48 9.5h1M10 10.5h1M45 13.5h1M45 14.5h1M40 15.5h1M45 16.5h1M15 18.5h1M15 19.5h1M23 19.5h1M42 19.5h1M47 21.5h1M50 21.5h1M50 22.5h1M37 23.5h2M8 26.5h1M16 26.5h1M19 26.5h1M16 27.5h2M43 27.5h1M48 27.5h1M43 28.5h1M53 28.5h1M48 29.5h1M53 29.5h1M15 30.5h1M49 31.5h2M28 32.5h1M18 33.5h1M25 34.5h1M40 34.5h1M53 34.5h1M37 35.5h1M53 35.5h1M58 35.5h2M14 36.5h1M17 36.5h2M50 36.5h1M18 37.5h1M46 37.5h2M50 37.5h1M11 38.5h1M55 39.5h2M1 40.5h1M37 40.5h1M0 41.5h2M0 42.5h1M11 42.5h1M21 42.5h1M0 43.5h1M5 43.5h1M29 43.5h2M21 44.5h2M50 44.5h1M28 45.5h1M6 46.5h1M47 46.5h1M55 46.5h1M53 47.5h1M43 48.5h1M54 50.5h1M56 52.5h1M10 53.5h1M37 53.5h2M43 53.5h1M10 54.5h3M54 54.5h1M57 54.5h2M42 55.5h1M59 55.5h1M1 56.5h1M13 56.5h2M1 57.5h1M40 57.5h1M48 57.5h1M36 58.5h1M29 59.5h1"/></g></pattern><pattern id="sp_r" patternUnits="userSpaceOnUse" patternTransform="scale(1.35)" x="52" y="8" width="60" height="60"><g stroke-width="1" fill="none"><path stroke="#E2402B" d="M0 0.5h1M2 0.5h1M9 0.5h6M16 0.5h1M21 0.5h2M24 0.5h6M31 0.5h3M38 0.5h5M44 0.5h2M48 0.5h1M50 0.5h1M52 0.5h3M56 0.5h3M0 1.5h6M7 1.5h9M19 1.5h1M21 1.5h2M26 1.5h3M32 1.5h1M34 1.5h9M44 1.5h2M47 1.5h2M50 1.5h4M56 1.5h3M0 2.5h1M2 2.5h2M5 2.5h8M15 2.5h1M18 2.5h2M22 2.5h2M25 2.5h10M36 2.5h5M44 2.5h8M53 2.5h3M57 2.5h2M0 3.5h8M10 3.5h1M12 3.5h1M15 3.5h20M36 3.5h10M47 3.5h2M51 3.5h4M57 3.5h3M0 4.5h1M5 4.5h1M7 4.5h1M9 4.5h2M12 4.5h7M20 4.5h1M23 4.5h1M26 4.5h3M30 4.5h5M37 4.5h2M40 4.5h6M47 4.5h4M54 4.5h1M57 4.5h3M0 5.5h4M7 5.5h1M9 5.5h2M13 5.5h4M18 5.5h1M23 5.5h5M29 5.5h2M32 5.5h4M37 5.5h2M40 5.5h3M44 5.5h3M48 5.5h5M57 5.5h3M2 6.5h6M10 6.5h11M22 6.5h2M25 6.5h3M29 6.5h2M32 6.5h10M44 6.5h2M50 6.5h3M54 6.5h3M58 6.5h2M0 7.5h4M7 7.5h1M9 7.5h2M12 7.5h5M18 7.5h6M25 7.5h2M28 7.5h4M34 7.5h4M39 7.5h4M44 7.5h1M46 7.5h2M52 7.5h2M55 7.5h5M0 8.5h10M11 8.5h1M14 8.5h16M31 8.5h6M38 8.5h1M40 8.5h4M45 8.5h2M49 8.5h2M52 8.5h2M55 8.5h5M0 9.5h3M4 9.5h1M7 9.5h2M11 9.5h1M14 9.5h2M20 9.5h10M31 9.5h3M36 9.5h2M39 9.5h9M49 9.5h1M51 9.5h9M0 10.5h6M7 10.5h8M16 10.5h1M18 10.5h1M22 10.5h1M24 10.5h1M28 10.5h5M36 10.5h1M39 10.5h9M49 10.5h1M51 10.5h1M53 10.5h2M57 10.5h3M0 11.5h20M26 11.5h1M28 11.5h7M36 11.5h2M39 11.5h4M44 11.5h1M46 11.5h4M51 11.5h1M53 11.5h5M59 11.5h1M0 12.5h1M2 12.5h3M8 12.5h3M16 12.5h6M28 12.5h10M39 12.5h3M43 12.5h3M47 12.5h1M51 12.5h1M53 12.5h1M57 12.5h1M59 12.5h1M0 13.5h5M9 13.5h1M12 13.5h4M17 13.5h7M25 13.5h1M27 13.5h3M31 13.5h7M39 13.5h6M54 13.5h1M57 13.5h3M0 14.5h1M3 14.5h3M7 14.5h4M12 14.5h2M16 14.5h7M24 14.5h3M28 14.5h3M32 14.5h8M41 14.5h3M45 14.5h1M47 14.5h2M52 14.5h2M55 14.5h1M57 14.5h3M1 15.5h2M7 15.5h13M21 15.5h5M27 15.5h3M33 15.5h1M35 15.5h13M50 15.5h10M1 16.5h2M5 16.5h1M8 16.5h3M12 16.5h1M14 16.5h11M26 16.5h8M35 16.5h2M38 16.5h13M52 16.5h8M2 17.5h4M7 17.5h8M16 17.5h5M24 17.5h1M27 17.5h4M32 17.5h5M39 17.5h2M42 17.5h2M45 17.5h2M49 17.5h1M52 17.5h4M58 17.5h2M4 18.5h2M8 18.5h5M18 18.5h3M22 18.5h1M24 18.5h1M27 18.5h4M32 18.5h1M34 18.5h3M38 18.5h1M40 18.5h3M46 18.5h2M50 18.5h4M55 18.5h1M59 18.5h1M0 19.5h1M3 19.5h4M8 19.5h5M18 19.5h8M27 19.5h5M34 19.5h5M42 19.5h2M45 19.5h1M47 19.5h2M50 19.5h5M59 19.5h1M1 20.5h5M7 20.5h5M14 20.5h1M19 20.5h1M23 20.5h1M26 20.5h2M29 20.5h1M33 20.5h4M38 20.5h3M42 20.5h8M51 20.5h2M54 20.5h4M59 20.5h1M2 21.5h1M4 21.5h3M10 21.5h2M14 21.5h2M17 21.5h1M19 21.5h5M25 21.5h1M27 21.5h2M32 21.5h1M35 21.5h2M38 21.5h1M40 21.5h1M42 21.5h1M44 21.5h4M49 21.5h1M52 21.5h1M54 21.5h4M59 21.5h1M0 22.5h3M4 22.5h4M9 22.5h5M16 22.5h5M22 22.5h4M27 22.5h3M31 22.5h1M34 22.5h6M42 22.5h2M45 22.5h2M49 22.5h2M52 22.5h6M59 22.5h1M0 23.5h2M4 23.5h3M8 23.5h3M17 23.5h2M21 23.5h1M23 23.5h9M33 23.5h5M39 23.5h3M43 23.5h2M47 23.5h3M53 23.5h4M58 23.5h2M3 24.5h14M18 24.5h1M20 24.5h8M31 24.5h4M36 24.5h13M52 24.5h3M56 24.5h4M0 25.5h1M3 25.5h9M13 25.5h3M17 25.5h6M25 25.5h1M29 25.5h2M32 25.5h1M34 25.5h9M44 25.5h5M51 25.5h9M0 26.5h13M14 26.5h3M18 26.5h4M23 26.5h1M26 26.5h1M29 26.5h5M36 26.5h7M45 26.5h4M50 26.5h10M0 27.5h5M9 27.5h5M15 27.5h7M24 27.5h3M28 27.5h3M32 27.5h12M45 27.5h6M52 27.5h3M56 27.5h2M59 27.5h1M0 28.5h2M3 28.5h6M10 28.5h4M15 28.5h3M19 28.5h4M26 28.5h3M30 28.5h3M34 28.5h12M47 28.5h9M57 28.5h3M0 29.5h1M3 29.5h18M22 29.5h5M28 29.5h1M30 29.5h2M33 29.5h5M39 29.5h2M42 29.5h4M47 29.5h1M49 29.5h1M51 29.5h1M53 29.5h1M55 29.5h3M0 30.5h5M6 30.5h3M10 30.5h9M20 30.5h6M27 30.5h2M30 30.5h4M35 30.5h7M44 30.5h7M52 30.5h4M58 30.5h2M0 31.5h1M2 31.5h1M5 31.5h1M7 31.5h2M10 31.5h10M21 31.5h5M30 31.5h1M32 31.5h1M34 31.5h2M39 31.5h1M41 31.5h1M44 31.5h5M51 31.5h8M2 32.5h5M8 32.5h1M11 32.5h2M14 32.5h3M21 32.5h1M24 32.5h1M29 32.5h4M34 32.5h3M39 32.5h3M45 32.5h9M55 32.5h4M0 33.5h10M13 33.5h7M21 33.5h1M24 33.5h1M26 33.5h4M31 33.5h2M37 33.5h7M45 33.5h4M50 33.5h2M53 33.5h1M56 33.5h4M0 34.5h11M15 34.5h13M29 34.5h1M31 34.5h1M34 34.5h2M37 34.5h2M40 34.5h5M46 34.5h4M51 34.5h3M56 34.5h4M0 35.5h1M2 35.5h9M13 35.5h11M27 35.5h1M29 35.5h2M33 35.5h10M45 35.5h5M53 35.5h3M58 35.5h2M0 36.5h1M2 36.5h7M11 36.5h3M17 36.5h1M19 36.5h2M22 36.5h2M25 36.5h3M32 36.5h2M36 36.5h3M40 36.5h2M43 36.5h1M45 36.5h1M48 36.5h4M53 36.5h1M58 36.5h2M2 37.5h7M12 37.5h3M20 37.5h4M25 37.5h5M31 37.5h1M33 37.5h4M40 37.5h2M43 37.5h7M51 37.5h1M54 37.5h2M58 37.5h1M1 38.5h1M3 38.5h5M10 38.5h1M12 38.5h12M25 38.5h10M36 38.5h2M39 38.5h2M45 38.5h1M47 38.5h1M49 38.5h1M51 38.5h2M54 38.5h6M0 39.5h2M5 39.5h2M10 39.5h2M13 39.5h3M18 39.5h3M23 39.5h4M28 39.5h5M34 39.5h3M38 39.5h6M45 39.5h2M48 39.5h5M54 39.5h6M0 40.5h2M3 40.5h3M7 40.5h2M10 40.5h1M13 40.5h1M15 40.5h1M17 40.5h14M32 40.5h1M34 40.5h3M38 40.5h4M44 40.5h3M48 40.5h12M0 41.5h4M7 41.5h6M15 41.5h2M18 41.5h4M23 41.5h1M25 41.5h3M30 41.5h1M32 41.5h1M34 41.5h2M38 41.5h3M44 41.5h1M46 41.5h1M48 41.5h12M0 42.5h1M2 42.5h1M4 42.5h1M6 42.5h1M8 42.5h1M10 42.5h3M14 42.5h7M22 42.5h5M28 42.5h3M32 42.5h5M39 42.5h2M42 42.5h4M48 42.5h1M51 42.5h5M58 42.5h2M0 43.5h11M12 43.5h4M18 43.5h2M21 43.5h2M24 43.5h5M30 43.5h3M34 43.5h3M38 43.5h7M46 43.5h1M50 43.5h2M53 43.5h3M57 43.5h3M0 44.5h3M4 44.5h5M10 44.5h4M15 44.5h1M19 44.5h1M21 44.5h3M26 44.5h1M28 44.5h1M31 44.5h6M38 44.5h1M40 44.5h4M46 44.5h3M50 44.5h2M53 44.5h6M0 45.5h3M4 45.5h5M10 45.5h2M14 45.5h2M19 45.5h3M25 45.5h2M29 45.5h3M33 45.5h2M36 45.5h3M41 45.5h2M45 45.5h7M53 45.5h7M0 46.5h4M6 46.5h2M9 46.5h7M17 46.5h4M22 46.5h4M28 46.5h1M30 46.5h5M36 46.5h2M40 46.5h7M48 46.5h2M52 46.5h2M55 46.5h5M1 47.5h1M3 47.5h8M14 47.5h1M17 47.5h1M19 47.5h1M23 47.5h6M30 47.5h17M48 47.5h2M52 47.5h1M57 47.5h3M0 48.5h4M5 48.5h2M8 48.5h5M14 48.5h3M19 48.5h1M25 48.5h2M31 48.5h3M36 48.5h1M38 48.5h5M45 48.5h1M47 48.5h3M51 48.5h4M58 48.5h2M0 49.5h3M5 49.5h1M8 49.5h4M13 49.5h4M19 49.5h3M23 49.5h1M27 49.5h1M30 49.5h3M34 49.5h16M52 49.5h3M56 49.5h1M58 49.5h2M0 50.5h1M2 50.5h5M9 50.5h7M20 50.5h4M25 50.5h1M27 50.5h1M32 50.5h12M45 50.5h3M49 50.5h4M58 50.5h2M3 51.5h8M15 51.5h4M20 51.5h1M23 51.5h4M28 51.5h2M36 51.5h1M38 51.5h15M54 51.5h5M3 52.5h4M8 52.5h14M25 52.5h3M31 52.5h10M43 52.5h8M52 52.5h8M2 53.5h3M8 53.5h2M11 53.5h1M17 53.5h7M25 53.5h3M29 53.5h1M31 53.5h7M45 53.5h5M53 53.5h1M55 53.5h5M3 54.5h2M6 54.5h5M12 54.5h19M32 54.5h5M38 54.5h1M46 54.5h2M50 54.5h10M0 55.5h5M7 55.5h1M9 55.5h3M14 55.5h1M16 55.5h2M19 55.5h3M23 55.5h5M29 55.5h2M32 55.5h2M35 55.5h1M40 55.5h13M54 55.5h2M57 55.5h2M6 56.5h9M17 56.5h1M20 56.5h2M24 56.5h3M29 56.5h3M34 56.5h2M37 56.5h5M43 56.5h2M47 56.5h1M50 56.5h10M2 57.5h3M6 57.5h10M17 57.5h4M24 57.5h14M39 57.5h4M44 57.5h2M50 57.5h2M53 57.5h5M59 57.5h1M2 58.5h9M12 58.5h8M21 58.5h18M41 58.5h4M46 58.5h7M54 58.5h1M56 58.5h2M2 59.5h1M4 59.5h1M6 59.5h3M12 59.5h5M21 59.5h1M26 59.5h6M33 59.5h3M37 59.5h3M41 59.5h8M50 59.5h3M55 59.5h4"/><path stroke="#F39533" d="M3 0.5h2M6 0.5h1M15 0.5h1M19 0.5h1M35 0.5h1M6 1.5h1M54 1.5h2M1 2.5h1M24 2.5h1M43 2.5h1M13 3.5h2M2 4.5h1M8 4.5h1M25 4.5h1M35 4.5h2M51 4.5h3M8 5.5h1M17 5.5h1M20 5.5h1M31 5.5h1M43 5.5h1M1 6.5h1M28 6.5h1M31 6.5h1M43 6.5h1M48 6.5h2M5 7.5h2M11 7.5h1M38 7.5h1M43 7.5h1M48 7.5h4M13 8.5h1M48 8.5h1M51 8.5h1M34 9.5h2M19 10.5h1M23 10.5h1M23 11.5h3M38 11.5h1M43 11.5h1M14 12.5h1M23 12.5h1M42 12.5h1M48 12.5h1M38 13.5h1M47 13.5h1M49 13.5h1M52 13.5h2M49 14.5h1M0 15.5h1M3 15.5h4M32 15.5h1M49 15.5h1M3 16.5h2M6 16.5h1M13 16.5h1M25 16.5h1M6 17.5h1M15 17.5h1M21 17.5h2M25 17.5h1M57 17.5h1M2 18.5h2M7 18.5h1M13 18.5h3M39 18.5h1M57 18.5h1M7 19.5h1M13 19.5h1M15 19.5h1M39 19.5h2M44 19.5h1M57 19.5h2M12 20.5h2M20 20.5h2M24 20.5h2M31 20.5h2M58 20.5h1M3 21.5h1M12 21.5h2M24 21.5h1M26 21.5h1M29 21.5h3M58 21.5h1M3 22.5h1M26 22.5h1M32 22.5h2M41 22.5h1M58 22.5h1M2 23.5h1M22 23.5h1M32 23.5h1M0 24.5h3M28 24.5h3M1 25.5h1M23 25.5h2M13 26.5h1M2 28.5h1M46 28.5h1M56 28.5h1M1 29.5h1M38 29.5h1M50 29.5h1M52 29.5h1M54 29.5h1M26 30.5h1M34 30.5h1M3 31.5h2M6 31.5h1M26 31.5h2M29 31.5h1M36 31.5h3M43 31.5h1M50 31.5h1M13 32.5h1M17 32.5h2M20 32.5h1M26 32.5h1M42 32.5h3M54 32.5h1M12 33.5h1M22 33.5h2M34 33.5h2M44 33.5h1M54 33.5h1M11 34.5h2M32 34.5h1M54 34.5h1M11 35.5h2M43 35.5h1M50 35.5h2M56 35.5h2M16 36.5h1M24 36.5h1M28 36.5h2M34 36.5h2M42 36.5h1M44 36.5h1M54 36.5h4M15 37.5h2M24 37.5h1M30 37.5h1M42 37.5h1M56 37.5h1M8 38.5h2M11 38.5h1M42 38.5h1M44 38.5h1M46 38.5h1M4 39.5h1M33 39.5h1M44 39.5h1M6 40.5h1M12 40.5h1M33 40.5h1M5 41.5h2M13 41.5h1M24 41.5h1M28 41.5h1M47 41.5h1M5 42.5h1M7 42.5h1M41 42.5h1M47 42.5h1M49 42.5h1M57 42.5h1M16 43.5h2M20 43.5h1M45 43.5h1M49 43.5h1M56 43.5h1M3 44.5h1M16 44.5h2M20 44.5h1M24 44.5h1M27 44.5h1M29 44.5h2M39 44.5h1M44 44.5h2M49 44.5h1M3 45.5h1M12 45.5h2M16 45.5h3M27 45.5h1M39 45.5h1M44 45.5h1M21 46.5h1M26 46.5h2M29 46.5h1M38 46.5h2M47 46.5h1M11 47.5h1M13 47.5h1M20 47.5h2M29 47.5h1M47 47.5h1M53 47.5h1M55 47.5h1M13 48.5h1M17 48.5h2M20 48.5h3M24 48.5h1M27 48.5h3M34 48.5h1M37 48.5h1M46 48.5h1M50 48.5h1M55 48.5h3M3 49.5h2M12 49.5h1M17 49.5h2M22 49.5h1M24 49.5h1M28 49.5h1M50 49.5h1M55 49.5h1M1 50.5h1M17 50.5h1M24 50.5h1M44 50.5h1M53 50.5h1M55 50.5h1M12 51.5h3M21 51.5h2M33 51.5h1M53 51.5h1M1 52.5h1M22 52.5h1M24 52.5h1M42 52.5h1M1 53.5h1M5 53.5h2M12 53.5h2M16 53.5h1M42 53.5h1M1 54.5h2M43 54.5h3M8 55.5h1M22 55.5h1M53 55.5h1M0 56.5h4M22 56.5h2M27 56.5h2M33 56.5h1M45 56.5h1M1 57.5h1M48 57.5h2M58 57.5h1M1 58.5h1M20 58.5h1M53 58.5h1M55 58.5h1M58 58.5h1M3 59.5h1M9 59.5h1M17 59.5h4M22 59.5h1M36 59.5h1M53 59.5h1"/></g></pattern><pattern id="sp_q" patternUnits="userSpaceOnUse" patternTransform="scale(1.35)" x="5" y="25" width="60" height="60"><g stroke-width="1" fill="none"><path stroke="#E2402B" d="M3 0.5h1M5 0.5h3M9 0.5h1M13 0.5h4M19 0.5h1M22 0.5h1M24 0.5h3M35 0.5h1M48 0.5h4M53 0.5h2M0 1.5h1M3 1.5h2M6 1.5h1M8 1.5h3M14 1.5h1M18 1.5h2M26 1.5h1M29 1.5h2M40 1.5h4M53 1.5h1M55 1.5h1M2 2.5h1M5 2.5h1M9 2.5h1M16 2.5h3M26 2.5h1M34 2.5h1M38 2.5h1M43 2.5h1M46 2.5h1M48 2.5h1M53 2.5h3M0 3.5h1M2 3.5h4M7 3.5h1M18 3.5h1M20 3.5h2M26 3.5h1M30 3.5h3M34 3.5h2M38 3.5h1M46 3.5h1M54 3.5h4M0 4.5h7M9 4.5h2M20 4.5h2M29 4.5h2M38 4.5h1M40 4.5h2M46 4.5h2M57 4.5h1M59 4.5h1M3 5.5h1M7 5.5h1M10 5.5h1M13 5.5h6M24 5.5h2M31 5.5h3M35 5.5h2M39 5.5h5M46 5.5h1M49 5.5h1M51 5.5h1M57 5.5h1M3 6.5h2M7 6.5h1M10 6.5h1M18 6.5h1M23 6.5h3M27 6.5h2M35 6.5h4M40 6.5h1M49 6.5h3M53 6.5h1M57 6.5h1M0 7.5h1M2 7.5h2M7 7.5h1M10 7.5h2M18 7.5h4M24 7.5h1M38 7.5h1M40 7.5h2M44 7.5h1M47 7.5h1M49 7.5h3M55 7.5h3M0 8.5h1M2 8.5h1M11 8.5h1M18 8.5h1M22 8.5h2M25 8.5h2M28 8.5h1M34 8.5h1M46 8.5h1M48 8.5h5M55 8.5h1M57 8.5h1M0 9.5h3M4 9.5h2M7 9.5h1M11 9.5h1M14 9.5h3M18 9.5h1M23 9.5h1M25 9.5h2M29 9.5h1M31 9.5h1M33 9.5h1M38 9.5h2M49 9.5h6M59 9.5h1M0 10.5h6M8 10.5h1M11 10.5h2M16 10.5h1M18 10.5h1M27 10.5h1M32 10.5h2M35 10.5h1M44 10.5h1M50 10.5h1M53 10.5h1M2 11.5h2M8 11.5h2M11 11.5h2M16 11.5h2M25 11.5h2M32 11.5h5M38 11.5h1M40 11.5h6M49 11.5h4M59 11.5h1M0 12.5h3M4 12.5h1M6 12.5h2M13 12.5h1M16 12.5h1M18 12.5h3M24 12.5h3M29 12.5h2M35 12.5h1M44 12.5h1M49 12.5h4M58 12.5h1M1 13.5h1M3 13.5h1M7 13.5h1M9 13.5h1M11 13.5h1M15 13.5h3M23 13.5h1M25 13.5h2M30 13.5h2M34 13.5h2M42 13.5h2M49 13.5h3M58 13.5h1M0 14.5h1M3 14.5h1M7 14.5h1M9 14.5h1M16 14.5h1M26 14.5h1M28 14.5h1M35 14.5h1M38 14.5h2M50 14.5h3M58 14.5h1M7 15.5h5M16 15.5h2M23 15.5h5M35 15.5h6M47 15.5h1M50 15.5h1M52 15.5h1M54 15.5h1M57 15.5h1M4 16.5h3M8 16.5h5M15 16.5h2M23 16.5h4M30 16.5h1M43 16.5h1M46 16.5h4M51 16.5h5M57 16.5h1M59 16.5h1M0 17.5h2M9 17.5h1M11 17.5h1M16 17.5h2M20 17.5h2M23 17.5h2M35 17.5h3M43 17.5h1M45 17.5h2M49 17.5h1M51 17.5h3M59 17.5h1M4 18.5h1M8 18.5h2M11 18.5h1M16 18.5h2M21 18.5h2M25 18.5h1M28 18.5h1M30 18.5h5M36 18.5h1M38 18.5h1M40 18.5h1M43 18.5h4M49 18.5h1M3 19.5h1M7 19.5h1M11 19.5h2M14 19.5h1M16 19.5h1M21 19.5h1M23 19.5h1M28 19.5h1M30 19.5h3M34 19.5h1M38 19.5h1M42 19.5h1M44 19.5h1M49 19.5h1M53 19.5h1M55 19.5h5M1 20.5h1M6 20.5h2M13 20.5h2M16 20.5h2M21 20.5h1M28 20.5h3M32 20.5h1M34 20.5h1M38 20.5h2M42 20.5h1M46 20.5h2M49 20.5h2M53 20.5h6M6 21.5h2M17 21.5h1M21 21.5h1M26 21.5h1M28 21.5h1M32 21.5h1M35 21.5h2M39 21.5h1M41 21.5h2M49 21.5h2M53 21.5h3M57 21.5h2M5 22.5h1M13 22.5h2M17 22.5h2M31 22.5h2M34 22.5h1M42 22.5h2M45 22.5h1M54 22.5h3M58 22.5h2M3 23.5h1M19 23.5h1M28 23.5h2M31 23.5h1M33 23.5h2M52 23.5h1M57 23.5h3M3 24.5h1M6 24.5h3M13 24.5h2M17 24.5h1M21 24.5h1M28 24.5h2M31 24.5h3M44 24.5h2M50 24.5h1M56 24.5h3M6 25.5h2M9 25.5h1M12 25.5h1M21 25.5h1M24 25.5h3M28 25.5h1M32 25.5h2M35 25.5h1M43 25.5h3M48 25.5h2M54 25.5h1M56 25.5h1M58 25.5h1M3 26.5h3M9 26.5h3M21 26.5h1M26 26.5h1M28 26.5h2M32 26.5h2M38 26.5h3M42 26.5h1M48 26.5h2M4 27.5h6M21 27.5h1M25 27.5h5M41 27.5h1M48 27.5h2M55 27.5h1M59 27.5h1M3 28.5h2M13 28.5h3M18 28.5h2M21 28.5h3M26 28.5h1M43 28.5h1M50 28.5h1M54 28.5h1M59 28.5h1M0 29.5h2M13 29.5h1M17 29.5h3M21 29.5h3M25 29.5h1M34 29.5h2M53 29.5h5M2 30.5h3M10 30.5h2M15 30.5h1M17 30.5h2M24 30.5h2M30 30.5h1M35 30.5h3M41 30.5h2M44 30.5h1M48 30.5h2M51 30.5h2M55 30.5h3M59 30.5h1M0 31.5h5M6 31.5h3M11 31.5h1M17 31.5h2M27 31.5h2M30 31.5h1M34 31.5h1M36 31.5h1M44 31.5h1M48 31.5h1M51 31.5h5M57 31.5h1M59 31.5h1M2 32.5h1M6 32.5h3M10 32.5h2M16 32.5h1M19 32.5h2M22 32.5h2M26 32.5h1M28 32.5h4M34 32.5h1M37 32.5h1M42 32.5h1M47 32.5h3M51 32.5h2M56 32.5h2M59 32.5h1M1 33.5h2M4 33.5h1M6 33.5h2M12 33.5h2M16 33.5h1M19 33.5h2M26 33.5h2M29 33.5h4M34 33.5h1M42 33.5h1M47 33.5h1M51 33.5h2M54 33.5h2M57 33.5h2M3 34.5h3M7 34.5h1M18 34.5h2M21 34.5h1M29 34.5h1M33 34.5h2M36 34.5h1M41 34.5h3M49 34.5h1M51 34.5h1M56 34.5h2M0 35.5h6M7 35.5h1M9 35.5h1M13 35.5h1M25 35.5h5M39 35.5h1M49 35.5h3M56 35.5h1M58 35.5h2M3 36.5h2M7 36.5h1M11 36.5h1M13 36.5h1M21 36.5h2M25 36.5h1M29 36.5h1M32 36.5h3M37 36.5h4M48 36.5h1M50 36.5h1M56 36.5h1M2 37.5h1M7 37.5h1M12 37.5h1M21 37.5h5M27 37.5h1M33 37.5h1M39 37.5h2M42 37.5h1M53 37.5h1M55 37.5h2M59 37.5h1M2 38.5h2M5 38.5h3M12 38.5h1M15 38.5h2M23 38.5h3M27 38.5h3M32 38.5h1M35 38.5h3M39 38.5h3M43 38.5h1M54 38.5h2M5 39.5h5M11 39.5h1M19 39.5h1M23 39.5h1M25 39.5h2M28 39.5h5M34 39.5h2M39 39.5h2M43 39.5h3M47 39.5h2M54 39.5h2M2 40.5h3M6 40.5h1M8 40.5h1M11 40.5h1M14 40.5h1M18 40.5h2M29 40.5h2M34 40.5h3M39 40.5h5M46 40.5h1M57 40.5h3M0 41.5h1M6 41.5h1M8 41.5h1M11 41.5h1M18 41.5h6M25 41.5h1M39 41.5h1M43 41.5h4M50 41.5h3M54 41.5h3M58 41.5h2M3 42.5h1M14 42.5h1M19 42.5h2M24 42.5h3M28 42.5h1M33 42.5h1M40 42.5h2M46 42.5h1M50 42.5h3M1 43.5h3M7 43.5h1M11 43.5h5M17 43.5h5M24 43.5h2M27 43.5h3M33 43.5h1M47 43.5h2M50 43.5h1M52 43.5h2M55 43.5h1M58 43.5h1M3 44.5h2M7 44.5h1M13 44.5h1M19 44.5h1M24 44.5h1M29 44.5h1M33 44.5h4M39 44.5h3M43 44.5h2M47 44.5h3M55 44.5h3M3 45.5h3M7 45.5h1M14 45.5h3M29 45.5h2M34 45.5h3M38 45.5h1M48 45.5h3M54 45.5h1M1 46.5h1M3 46.5h3M10 46.5h4M34 46.5h3M44 46.5h3M48 46.5h2M54 46.5h1M57 46.5h2M1 47.5h1M10 47.5h1M13 47.5h1M24 47.5h2M30 47.5h3M40 47.5h3M49 47.5h1M54 47.5h1M1 48.5h3M7 48.5h1M10 48.5h1M12 48.5h1M20 48.5h1M24 48.5h1M32 48.5h1M34 48.5h1M36 48.5h1M40 48.5h1M44 48.5h2M54 48.5h1M0 49.5h2M3 49.5h6M12 49.5h2M19 49.5h2M24 49.5h1M32 49.5h1M34 49.5h3M40 49.5h1M44 49.5h2M54 49.5h1M56 49.5h2M7 50.5h1M13 50.5h1M15 50.5h3M21 50.5h2M25 50.5h1M29 50.5h1M34 50.5h1M38 50.5h3M44 50.5h1M52 50.5h2M55 50.5h2M2 51.5h3M6 51.5h3M13 51.5h1M15 51.5h1M21 51.5h2M26 51.5h1M29 51.5h1M35 51.5h1M37 51.5h1M44 51.5h1M52 51.5h1M56 51.5h1M0 52.5h3M7 52.5h2M14 52.5h1M21 52.5h2M27 52.5h1M30 52.5h2M37 52.5h1M41 52.5h2M44 52.5h1M52 52.5h1M54 52.5h1M1 53.5h1M9 53.5h4M16 53.5h1M21 53.5h1M24 53.5h1M27 53.5h1M33 53.5h3M37 53.5h4M43 53.5h1M52 53.5h2M1 54.5h2M7 54.5h2M12 54.5h1M14 54.5h4M21 54.5h1M26 54.5h3M32 54.5h1M34 54.5h8M43 54.5h1M50 54.5h1M52 54.5h2M56 54.5h1M1 55.5h3M6 55.5h5M16 55.5h1M25 55.5h1M38 55.5h1M40 55.5h2M43 55.5h1M45 55.5h2M49 55.5h3M53 55.5h2M56 55.5h2M0 56.5h2M12 56.5h1M16 56.5h1M23 56.5h3M33 56.5h1M43 56.5h1M45 56.5h1M48 56.5h1M58 56.5h2M1 57.5h1M4 57.5h3M14 57.5h2M25 57.5h1M33 57.5h1M39 57.5h1M42 57.5h1M44 57.5h1M48 57.5h1M50 57.5h1M52 57.5h2M57 57.5h2M0 58.5h1M2 58.5h1M8 58.5h6M16 58.5h2M22 58.5h1M25 58.5h1M27 58.5h1M33 58.5h1M38 58.5h4M46 58.5h1M57 58.5h1M59 58.5h1M3 59.5h1M5 59.5h5M13 59.5h1M18 59.5h3M22 59.5h1M25 59.5h3M29 59.5h2M35 59.5h1M38 59.5h2M46 59.5h1M48 59.5h4M54 59.5h1M56 59.5h2"/><path stroke="#F39533" d="M33 0.5h1M44 0.5h2M28 1.5h1M33 1.5h2M36 1.5h1M6 2.5h1M13 2.5h3M33 2.5h1M35 2.5h2M45 2.5h1M33 3.5h1M36 3.5h1M47 3.5h3M7 4.5h1M11 4.5h1M11 5.5h2M45 5.5h1M11 6.5h1M16 6.5h1M45 6.5h1M1 7.5h1M4 7.5h1M16 7.5h1M27 7.5h1M45 7.5h1M8 8.5h1M27 8.5h1M30 8.5h1M36 8.5h3M45 8.5h1M27 9.5h1M30 9.5h1M48 9.5h1M55 9.5h1M7 10.5h1M13 10.5h1M21 10.5h1M24 10.5h3M38 10.5h1M54 10.5h1M5 11.5h1M21 11.5h1M23 11.5h1M46 11.5h1M5 12.5h1M22 12.5h2M28 12.5h1M47 12.5h1M0 13.5h1M2 13.5h1M14 13.5h1M21 13.5h1M28 13.5h1M47 13.5h1M59 13.5h1M2 14.5h1M14 14.5h1M21 14.5h1M36 14.5h2M47 14.5h3M54 14.5h1M59 14.5h1M0 15.5h1M2 15.5h1M34 15.5h1M49 15.5h1M59 15.5h1M0 16.5h1M2 16.5h1M0 18.5h1M7 18.5h1M12 18.5h1M18 18.5h3M50 18.5h1M2 19.5h1M4 19.5h2M2 20.5h1M23 20.5h2M43 20.5h2M8 21.5h1M33 21.5h1M25 22.5h1M49 22.5h2M0 23.5h1M23 23.5h1M25 23.5h1M54 23.5h1M23 24.5h1M46 24.5h1M54 24.5h1M23 25.5h1M50 25.5h1M12 26.5h2M24 26.5h2M44 26.5h1M50 26.5h1M10 27.5h2M15 27.5h2M36 27.5h1M44 27.5h1M50 27.5h1M52 27.5h1M7 28.5h1M11 28.5h2M36 28.5h1M47 28.5h1M52 28.5h1M2 29.5h3M59 29.5h1M5 30.5h5M12 30.5h2M20 30.5h1M27 30.5h1M33 30.5h2M24 31.5h1M33 31.5h1M41 31.5h3M24 32.5h1M33 32.5h1M50 32.5h1M18 33.5h1M33 33.5h1M44 33.5h1M50 33.5h1M6 34.5h1M16 34.5h2M44 34.5h1M8 35.5h1M36 35.5h1M55 35.5h1M8 36.5h1M18 36.5h2M23 36.5h1M36 36.5h1M58 36.5h2M8 37.5h1M17 37.5h2M29 37.5h1M36 37.5h1M46 37.5h1M10 38.5h2M13 38.5h1M22 38.5h1M47 38.5h2M57 38.5h1M10 39.5h1M13 39.5h1M27 39.5h1M10 40.5h1M27 40.5h1M37 40.5h2M52 40.5h3M1 41.5h1M12 41.5h1M15 41.5h2M27 41.5h1M37 41.5h2M8 42.5h1M12 42.5h1M5 43.5h2M16 43.5h1M45 43.5h1M59 43.5h1M9 44.5h1M45 44.5h1M9 45.5h3M33 45.5h1M59 45.5h1M0 46.5h1M2 46.5h1M20 46.5h1M37 46.5h2M59 46.5h1M2 47.5h3M26 47.5h1M44 47.5h2M52 47.5h1M26 48.5h1M39 48.5h1M47 48.5h2M51 48.5h2M26 49.5h2M52 49.5h1M31 50.5h1M35 50.5h3M31 51.5h1M36 52.5h1M38 52.5h1M43 52.5h1M46 52.5h1M19 53.5h2M22 53.5h2M46 53.5h1M42 54.5h1M45 54.5h3M49 54.5h1M19 55.5h1M23 55.5h1M39 55.5h1M44 55.5h1M59 55.5h1M19 56.5h2M39 56.5h2M12 57.5h2M35 57.5h1M40 57.5h2M3 58.5h2M15 58.5h1M28 58.5h2M44 58.5h1M15 59.5h2M44 59.5h1M55 59.5h1"/></g></pattern><pattern id="sp_b" patternUnits="userSpaceOnUse" patternTransform="scale(1.35)" x="18" y="42" width="60" height="60"><g stroke-width="1" fill="none"><path stroke="#6CC1E3" d="M3 0.5h1M9 0.5h1M12 0.5h1M23 0.5h1M31 0.5h1M35 0.5h1M41 0.5h1M45 0.5h1M48 0.5h2M51 0.5h1M53 0.5h1M13 1.5h2M16 1.5h2M22 1.5h1M34 1.5h3M53 1.5h1M58 1.5h1M0 2.5h2M5 2.5h1M14 2.5h4M19 2.5h1M28 2.5h1M31 2.5h2M58 2.5h2M1 3.5h1M3 3.5h1M5 3.5h3M15 3.5h2M19 3.5h1M22 3.5h1M26 3.5h3M30 3.5h1M42 3.5h1M44 3.5h1M47 3.5h1M53 3.5h1M59 3.5h1M0 4.5h2M5 4.5h1M11 4.5h1M16 4.5h4M21 4.5h1M25 4.5h3M31 4.5h3M35 4.5h1M37 4.5h1M40 4.5h1M42 4.5h1M44 4.5h1M47 4.5h1M53 4.5h4M59 4.5h1M1 5.5h4M9 5.5h1M11 5.5h1M16 5.5h2M20 5.5h1M26 5.5h4M37 5.5h1M40 5.5h1M44 5.5h1M48 5.5h1M52 5.5h1M6 6.5h1M11 6.5h2M17 6.5h1M22 6.5h2M25 6.5h1M27 6.5h1M29 6.5h1M33 6.5h1M39 6.5h1M42 6.5h1M50 6.5h2M58 6.5h1M1 7.5h3M8 7.5h1M11 7.5h1M14 7.5h3M21 7.5h1M25 7.5h1M27 7.5h1M29 7.5h1M32 7.5h1M39 7.5h2M50 7.5h1M52 7.5h1M56 7.5h4M1 8.5h1M3 8.5h2M9 8.5h1M11 8.5h2M15 8.5h1M18 8.5h1M24 8.5h1M29 8.5h1M32 8.5h1M34 8.5h1M36 8.5h1M39 8.5h1M53 8.5h1M59 8.5h1M4 9.5h1M8 9.5h6M16 9.5h1M22 9.5h3M29 9.5h1M36 9.5h2M44 9.5h1M1 10.5h1M8 10.5h1M11 10.5h1M13 10.5h1M15 10.5h1M18 10.5h1M23 10.5h2M29 10.5h1M32 10.5h1M36 10.5h2M44 10.5h1M47 10.5h2M50 10.5h2M54 10.5h2M58 10.5h2M0 11.5h4M5 11.5h2M10 11.5h1M14 11.5h3M23 11.5h2M30 11.5h5M42 11.5h1M55 11.5h1M0 12.5h1M3 12.5h1M5 12.5h1M13 12.5h1M20 12.5h1M24 12.5h1M27 12.5h1M32 12.5h3M40 12.5h3M47 12.5h1M54 12.5h1M57 12.5h3M9 13.5h1M15 13.5h1M20 13.5h2M24 13.5h1M26 13.5h2M29 13.5h3M45 13.5h1M53 13.5h1M2 14.5h1M9 14.5h1M11 14.5h4M17 14.5h2M21 14.5h1M23 14.5h1M26 14.5h1M32 14.5h3M45 14.5h1M48 14.5h2M55 14.5h1M57 14.5h1M1 15.5h2M13 15.5h3M18 15.5h1M25 15.5h3M30 15.5h1M32 15.5h1M46 15.5h3M53 15.5h5M2 16.5h2M11 16.5h1M14 16.5h1M18 16.5h1M21 16.5h1M25 16.5h1M29 16.5h3M34 16.5h1M40 16.5h3M52 16.5h1M54 16.5h1M56 16.5h1M11 17.5h1M18 17.5h1M20 17.5h1M22 17.5h2M25 17.5h1M29 17.5h1M31 17.5h2M34 17.5h2M39 17.5h2M49 17.5h1M53 17.5h4M58 17.5h1M1 18.5h1M5 18.5h2M8 18.5h1M18 18.5h2M25 18.5h1M29 18.5h1M31 18.5h2M35 18.5h1M38 18.5h4M49 18.5h1M54 18.5h1M57 18.5h1M4 19.5h2M13 19.5h1M17 19.5h2M22 19.5h2M25 19.5h2M36 19.5h1M39 19.5h1M41 19.5h2M47 19.5h2M53 19.5h1M56 19.5h1M3 20.5h3M8 20.5h1M17 20.5h2M20 20.5h3M25 20.5h2M32 20.5h3M41 20.5h1M47 20.5h1M51 20.5h1M54 20.5h1M57 20.5h1M2 21.5h1M4 21.5h1M6 21.5h3M15 21.5h1M18 21.5h1M22 21.5h1M26 21.5h3M32 21.5h2M35 21.5h3M41 21.5h1M46 21.5h1M51 21.5h1M54 21.5h1M56 21.5h1M11 22.5h1M13 22.5h1M15 22.5h2M18 22.5h1M26 22.5h2M31 22.5h1M37 22.5h2M42 22.5h1M46 22.5h1M51 22.5h1M11 23.5h2M15 23.5h1M19 23.5h1M22 23.5h2M25 23.5h1M33 23.5h1M40 23.5h1M43 23.5h1M48 23.5h2M55 23.5h1M0 24.5h1M2 24.5h1M9 24.5h3M17 24.5h3M24 24.5h3M29 24.5h1M31 24.5h1M33 24.5h1M37 24.5h1M41 24.5h5M51 24.5h1M5 25.5h6M22 25.5h1M28 25.5h6M37 25.5h1M55 25.5h2M58 25.5h1M2 26.5h3M11 26.5h1M14 26.5h1M16 26.5h2M26 26.5h3M31 26.5h1M39 26.5h2M44 26.5h2M47 26.5h4M53 26.5h1M55 26.5h1M57 26.5h2M7 27.5h1M16 27.5h2M23 27.5h3M30 27.5h2M34 27.5h1M38 27.5h1M41 27.5h2M44 27.5h2M51 27.5h1M55 27.5h1M57 27.5h2M9 28.5h1M16 28.5h1M24 28.5h1M31 28.5h1M37 28.5h2M48 28.5h2M57 28.5h1M0 29.5h1M2 29.5h1M4 29.5h3M9 29.5h1M22 29.5h1M27 29.5h3M36 29.5h3M45 29.5h2M48 29.5h1M50 29.5h2M54 29.5h1M56 29.5h1M1 30.5h2M9 30.5h1M14 30.5h2M20 30.5h3M24 30.5h1M37 30.5h4M42 30.5h1M45 30.5h2M52 30.5h1M54 30.5h1M0 31.5h3M12 31.5h1M22 31.5h4M30 31.5h3M39 31.5h8M48 31.5h1M52 31.5h1M2 32.5h1M7 32.5h3M11 32.5h1M26 32.5h1M35 32.5h2M38 32.5h1M40 32.5h1M42 32.5h1M46 32.5h3M55 32.5h2M1 33.5h1M7 33.5h1M11 33.5h1M14 33.5h4M26 33.5h1M36 33.5h5M50 33.5h2M53 33.5h2M57 33.5h2M2 34.5h2M9 34.5h3M13 34.5h1M15 34.5h1M18 34.5h1M20 34.5h2M27 34.5h3M36 34.5h1M51 34.5h2M54 34.5h1M57 34.5h2M4 35.5h1M21 35.5h3M27 35.5h2M37 35.5h2M46 35.5h1M51 35.5h1M57 35.5h1M5 36.5h3M14 36.5h1M17 36.5h1M19 36.5h2M35 36.5h1M41 36.5h1M48 36.5h2M51 36.5h1M59 36.5h1M5 37.5h2M16 37.5h1M18 37.5h1M20 37.5h1M26 37.5h2M30 37.5h2M35 37.5h1M39 37.5h2M42 37.5h2M57 37.5h1M0 38.5h1M11 38.5h3M15 38.5h2M20 38.5h1M25 38.5h3M38 38.5h2M41 38.5h2M51 38.5h3M57 38.5h1M1 39.5h2M7 39.5h3M13 39.5h1M15 39.5h1M17 39.5h2M20 39.5h3M24 39.5h2M28 39.5h1M41 39.5h2M46 39.5h3M51 39.5h3M55 39.5h3M1 40.5h2M7 40.5h2M11 40.5h1M15 40.5h1M22 40.5h1M24 40.5h2M28 40.5h1M30 40.5h1M49 40.5h3M1 41.5h1M3 41.5h2M8 41.5h1M18 41.5h2M22 41.5h2M28 41.5h1M30 41.5h4M35 41.5h1M42 41.5h2M47 41.5h1M53 41.5h2M56 41.5h2M6 42.5h1M8 42.5h1M10 42.5h3M20 42.5h1M23 42.5h5M33 42.5h1M35 42.5h3M40 42.5h1M45 42.5h2M50 42.5h1M53 42.5h1M57 42.5h1M59 42.5h1M0 43.5h2M6 43.5h1M8 43.5h1M10 43.5h3M14 43.5h7M27 43.5h1M32 43.5h3M40 43.5h1M42 43.5h1M54 43.5h1M58 43.5h2M11 44.5h1M14 44.5h2M20 44.5h1M29 44.5h1M31 44.5h3M37 44.5h2M40 44.5h1M46 44.5h1M51 44.5h2M54 44.5h2M59 44.5h1M14 45.5h2M31 45.5h2M35 45.5h1M38 45.5h3M42 45.5h4M50 45.5h3M55 45.5h1M57 45.5h1M4 46.5h2M9 46.5h1M12 46.5h1M14 46.5h1M21 46.5h1M32 46.5h1M35 46.5h1M38 46.5h1M40 46.5h1M45 46.5h1M52 46.5h6M59 46.5h1M0 47.5h1M5 47.5h5M12 47.5h1M15 47.5h1M18 47.5h1M23 47.5h5M31 47.5h3M35 47.5h2M38 47.5h1M40 47.5h2M45 47.5h3M50 47.5h1M55 47.5h1M57 47.5h1M0 48.5h1M8 48.5h5M14 48.5h5M20 48.5h3M27 48.5h1M31 48.5h1M33 48.5h1M35 48.5h1M40 48.5h1M46 48.5h2M49 48.5h1M51 48.5h1M55 48.5h3M1 49.5h1M9 49.5h1M14 49.5h1M18 49.5h1M20 49.5h1M23 49.5h1M25 49.5h2M28 49.5h3M33 49.5h2M47 49.5h2M5 50.5h1M8 50.5h4M26 50.5h4M31 50.5h1M33 50.5h1M35 50.5h1M39 50.5h2M42 50.5h1M3 51.5h1M6 51.5h1M8 51.5h2M11 51.5h1M21 51.5h1M25 51.5h2M29 51.5h1M33 51.5h3M37 51.5h1M41 51.5h2M44 51.5h1M56 51.5h2M5 52.5h1M7 52.5h2M11 52.5h1M13 52.5h1M15 52.5h2M21 52.5h1M24 52.5h2M27 52.5h1M33 52.5h1M37 52.5h2M44 52.5h1M50 52.5h1M57 52.5h1M13 53.5h1M19 53.5h1M21 53.5h1M27 53.5h1M38 53.5h1M45 53.5h3M0 54.5h1M6 54.5h3M10 54.5h1M13 54.5h1M19 54.5h2M22 54.5h2M25 54.5h4M35 54.5h1M38 54.5h1M40 54.5h1M57 54.5h1M0 55.5h1M6 55.5h1M10 55.5h2M17 55.5h1M27 55.5h2M35 55.5h2M44 55.5h2M51 55.5h3M56 55.5h2M59 55.5h1M0 56.5h1M4 56.5h2M7 56.5h4M12 56.5h1M18 56.5h2M21 56.5h1M28 56.5h1M36 56.5h2M45 56.5h3M57 56.5h1M59 56.5h1M3 57.5h1M10 57.5h1M16 57.5h3M20 57.5h2M28 57.5h1M37 57.5h1M39 57.5h1M44 57.5h4M50 57.5h2M54 57.5h3M2 58.5h2M5 58.5h4M10 58.5h1M17 58.5h1M20 58.5h1M22 58.5h1M31 58.5h1M33 58.5h1M37 58.5h2M42 58.5h1M44 58.5h2M50 58.5h3M54 58.5h1M58 58.5h2M3 59.5h1M10 59.5h1M20 59.5h3M25 59.5h1M30 59.5h2M34 59.5h2M38 59.5h1M45 59.5h1M50 59.5h2"/><path stroke="#F39533" d="M1 0.5h2M5 0.5h2M10 0.5h1M13 0.5h2M18 0.5h1M20 0.5h3M32 0.5h1M34 0.5h1M42 0.5h1M44 0.5h1M46 0.5h2M52 0.5h1M2 1.5h1M9 1.5h1M11 1.5h1M15 1.5h1M20 1.5h2M23 1.5h2M30 1.5h4M37 1.5h1M44 1.5h1M46 1.5h2M49 1.5h1M52 1.5h1M2 2.5h3M6 2.5h1M9 2.5h3M13 2.5h1M21 2.5h2M33 2.5h1M35 2.5h2M39 2.5h2M44 2.5h5M51 2.5h1M54 2.5h4M0 3.5h1M10 3.5h1M14 3.5h1M20 3.5h1M32 3.5h3M36 3.5h1M48 3.5h2M51 3.5h1M3 4.5h2M8 4.5h1M14 4.5h1M20 4.5h1M22 4.5h2M34 4.5h1M36 4.5h1M49 4.5h3M57 4.5h2M0 5.5h1M5 5.5h2M8 5.5h1M12 5.5h3M23 5.5h1M34 5.5h1M38 5.5h1M41 5.5h3M45 5.5h1M53 5.5h1M55 5.5h3M0 6.5h2M4 6.5h2M8 6.5h2M14 6.5h1M18 6.5h4M34 6.5h1M45 6.5h1M52 6.5h5M59 6.5h1M6 7.5h2M9 7.5h1M19 7.5h2M31 7.5h1M43 7.5h1M45 7.5h1M47 7.5h3M53 7.5h1M0 8.5h1M5 8.5h2M19 8.5h2M28 8.5h1M31 8.5h1M35 8.5h1M43 8.5h1M45 8.5h1M47 8.5h1M52 8.5h1M0 9.5h2M17 9.5h2M20 9.5h1M28 9.5h1M30 9.5h3M34 9.5h2M43 9.5h1M46 9.5h3M57 9.5h1M0 10.5h1M3 10.5h5M17 10.5h1M20 10.5h3M28 10.5h1M34 10.5h1M41 10.5h1M43 10.5h1M53 10.5h1M57 10.5h1M4 11.5h1M7 11.5h2M11 11.5h1M18 11.5h2M28 11.5h1M39 11.5h3M48 11.5h1M50 11.5h2M56 11.5h2M1 12.5h1M4 12.5h1M7 12.5h6M14 12.5h1M18 12.5h2M22 12.5h1M25 12.5h1M28 12.5h1M39 12.5h1M46 12.5h1M56 12.5h1M1 13.5h1M3 13.5h1M5 13.5h2M8 13.5h1M10 13.5h3M18 13.5h2M22 13.5h1M25 13.5h1M32 13.5h1M35 13.5h1M38 13.5h1M46 13.5h1M50 13.5h3M56 13.5h3M0 14.5h2M3 14.5h1M8 14.5h1M10 14.5h1M16 14.5h1M25 14.5h1M30 14.5h2M35 14.5h1M38 14.5h1M41 14.5h1M43 14.5h2M46 14.5h2M58 14.5h1M0 15.5h1M3 15.5h1M6 15.5h3M16 15.5h1M21 15.5h2M28 15.5h2M34 15.5h1M37 15.5h2M44 15.5h1M1 16.5h1M7 16.5h1M12 16.5h2M16 16.5h1M19 16.5h1M22 16.5h1M36 16.5h3M44 16.5h1M46 16.5h1M53 16.5h1M57 16.5h1M59 16.5h1M0 17.5h3M4 17.5h5M15 17.5h2M21 17.5h1M30 17.5h1M46 17.5h1M51 17.5h2M59 17.5h1M11 18.5h1M16 18.5h1M26 18.5h1M28 18.5h1M42 18.5h4M53 18.5h1M55 18.5h1M0 19.5h1M7 19.5h2M10 19.5h3M16 19.5h1M20 19.5h1M24 19.5h1M32 19.5h1M43 19.5h3M49 19.5h1M54 19.5h2M57 19.5h3M7 20.5h1M9 20.5h2M16 20.5h1M19 20.5h1M28 20.5h1M43 20.5h2M48 20.5h3M52 20.5h1M55 20.5h2M58 20.5h1M5 21.5h1M9 21.5h1M23 21.5h1M29 21.5h2M42 21.5h1M44 21.5h1M47 21.5h1M49 21.5h1M58 21.5h1M3 22.5h1M6 22.5h1M14 22.5h1M20 22.5h4M29 22.5h2M32 22.5h3M39 22.5h1M44 22.5h2M48 22.5h3M52 22.5h2M56 22.5h4M2 23.5h1M6 23.5h1M16 23.5h1M18 23.5h1M20 23.5h2M29 23.5h1M31 23.5h2M36 23.5h4M41 23.5h2M45 23.5h3M50 23.5h2M54 23.5h1M56 23.5h1M1 24.5h1M7 24.5h1M12 24.5h2M15 24.5h2M22 24.5h1M27 24.5h2M30 24.5h1M35 24.5h1M47 24.5h1M50 24.5h1M53 24.5h7M0 25.5h4M13 25.5h3M18 25.5h1M26 25.5h1M34 25.5h3M38 25.5h1M47 25.5h2M50 25.5h1M54 25.5h1M59 25.5h1M0 26.5h1M7 26.5h1M15 26.5h1M18 26.5h1M20 26.5h6M29 26.5h2M33 26.5h4M54 26.5h1M1 27.5h3M8 27.5h1M18 27.5h1M20 27.5h3M26 27.5h4M36 27.5h1M40 27.5h1M48 27.5h1M50 27.5h1M0 28.5h1M3 28.5h6M10 28.5h3M15 28.5h1M21 28.5h3M25 28.5h1M29 28.5h1M34 28.5h1M44 28.5h2M50 28.5h2M1 29.5h1M3 29.5h1M8 29.5h1M10 29.5h5M18 29.5h1M23 29.5h4M33 29.5h1M39 29.5h1M42 29.5h3M49 29.5h1M59 29.5h1M0 30.5h1M3 30.5h5M12 30.5h2M18 30.5h1M33 30.5h1M49 30.5h2M56 30.5h1M59 30.5h1M3 31.5h2M8 31.5h4M13 31.5h1M16 31.5h4M21 31.5h1M26 31.5h2M34 31.5h1M49 31.5h1M51 31.5h1M56 31.5h2M0 32.5h2M3 32.5h3M10 32.5h1M12 32.5h2M16 32.5h1M20 32.5h2M25 32.5h1M27 32.5h2M30 32.5h2M44 32.5h1M50 32.5h5M59 32.5h1M0 33.5h1M5 33.5h1M10 33.5h1M12 33.5h1M23 33.5h3M27 33.5h1M31 33.5h3M41 33.5h2M47 33.5h2M59 33.5h1M4 34.5h4M12 34.5h1M14 34.5h1M16 34.5h2M22 34.5h1M31 34.5h4M39 34.5h5M45 34.5h1M47 34.5h1M55 34.5h1M7 35.5h1M10 35.5h3M14 35.5h1M16 35.5h1M18 35.5h1M31 35.5h1M39 35.5h1M45 35.5h1M47 35.5h3M54 35.5h2M3 36.5h1M8 36.5h4M15 36.5h2M18 36.5h1M24 36.5h4M29 36.5h3M34 36.5h1M36 36.5h2M42 36.5h3M46 36.5h1M53 36.5h6M2 37.5h3M8 37.5h1M10 37.5h2M13 37.5h1M19 37.5h1M21 37.5h1M23 37.5h3M28 37.5h2M34 37.5h1M36 37.5h2M50 37.5h2M53 37.5h2M58 37.5h1M6 38.5h5M14 38.5h1M19 38.5h1M22 38.5h3M28 38.5h3M34 38.5h1M36 38.5h1M46 38.5h1M48 38.5h1M54 38.5h2M58 38.5h1M4 39.5h2M10 39.5h2M14 39.5h1M19 39.5h1M23 39.5h1M26 39.5h1M29 39.5h3M40 39.5h1M3 40.5h3M12 40.5h1M14 40.5h1M19 40.5h2M26 40.5h1M31 40.5h1M35 40.5h1M37 40.5h2M40 40.5h6M47 40.5h2M53 40.5h1M55 40.5h1M57 40.5h1M5 41.5h3M9 41.5h7M20 41.5h1M26 41.5h1M44 41.5h2M55 41.5h1M0 42.5h2M3 42.5h3M7 42.5h1M9 42.5h1M13 42.5h1M19 42.5h1M31 42.5h1M34 42.5h1M38 42.5h2M42 42.5h1M44 42.5h1M47 42.5h3M54 42.5h3M58 42.5h1M3 43.5h3M7 43.5h1M9 43.5h1M23 43.5h2M29 43.5h3M38 43.5h2M45 43.5h3M49 43.5h1M57 43.5h1M0 44.5h1M3 44.5h1M7 44.5h2M13 44.5h1M16 44.5h4M22 44.5h6M30 44.5h1M34 44.5h1M36 44.5h1M43 44.5h2M49 44.5h2M58 44.5h1M0 45.5h1M3 45.5h2M7 45.5h2M11 45.5h2M17 45.5h2M20 45.5h5M27 45.5h1M30 45.5h1M36 45.5h1M49 45.5h1M58 45.5h2M0 46.5h2M3 46.5h1M7 46.5h2M10 46.5h2M13 46.5h1M17 46.5h4M22 46.5h1M24 46.5h1M36 46.5h2M39 46.5h1M42 46.5h3M48 46.5h3M13 47.5h1M19 47.5h1M21 47.5h1M28 47.5h1M39 47.5h1M42 47.5h1M44 47.5h1M49 47.5h1M52 47.5h2M1 48.5h1M5 48.5h2M13 48.5h1M19 48.5h1M24 48.5h1M28 48.5h1M32 48.5h1M37 48.5h1M58 48.5h1M4 49.5h3M10 49.5h1M15 49.5h1M17 49.5h1M19 49.5h1M21 49.5h2M32 49.5h1M37 49.5h1M39 49.5h1M54 49.5h1M4 50.5h1M6 50.5h1M12 50.5h1M17 50.5h1M23 50.5h3M30 50.5h1M32 50.5h1M43 50.5h2M47 50.5h2M51 50.5h4M57 50.5h3M0 51.5h2M4 51.5h2M7 51.5h1M10 51.5h1M19 51.5h1M23 51.5h1M27 51.5h1M30 51.5h3M38 51.5h2M45 51.5h1M48 51.5h1M52 51.5h1M54 51.5h1M59 51.5h1M1 52.5h2M6 52.5h1M10 52.5h1M20 52.5h1M22 52.5h2M28 52.5h3M34 52.5h2M39 52.5h3M45 52.5h1M47 52.5h1M52 52.5h1M54 52.5h1M1 53.5h1M6 53.5h3M10 53.5h3M24 53.5h3M29 53.5h1M34 53.5h1M37 53.5h1M39 53.5h2M49 53.5h4M54 53.5h2M57 53.5h2M1 54.5h2M11 54.5h2M24 54.5h1M33 54.5h2M42 54.5h1M49 54.5h1M53 54.5h1M56 54.5h1M58 54.5h2M4 55.5h1M7 55.5h1M13 55.5h1M22 55.5h1M24 55.5h1M29 55.5h1M31 55.5h3M39 55.5h1M41 55.5h2M46 55.5h1M2 56.5h1M13 56.5h2M17 56.5h1M20 56.5h1M25 56.5h3M29 56.5h2M32 56.5h1M35 56.5h1M38 56.5h2M43 56.5h2M54 56.5h3M1 57.5h2M6 57.5h1M8 57.5h1M13 57.5h2M27 57.5h1M29 57.5h1M33 57.5h1M42 57.5h2M49 57.5h1M57 57.5h1M11 58.5h3M18 58.5h1M21 58.5h1M23 58.5h3M27 58.5h3M34 58.5h2M39 58.5h1M41 58.5h1M49 58.5h1M55 58.5h3M0 59.5h2M6 59.5h1M9 59.5h1M12 59.5h2M17 59.5h2M23 59.5h2M29 59.5h1M32 59.5h2M39 59.5h1M42 59.5h3M49 59.5h1M52 59.5h3M56 59.5h4"/><path stroke="#E2402B" d="M15 0.5h2M24 0.5h2M43 0.5h1M43 1.5h1M7 2.5h1M29 4.5h2M39 4.5h1M22 5.5h1M39 5.5h1M47 5.5h1M50 5.5h1M2 6.5h1M0 7.5h1M51 7.5h1M2 8.5h1M13 8.5h2M51 8.5h1M2 9.5h1M33 9.5h1M51 9.5h1M2 10.5h1M45 10.5h2M13 11.5h1M46 11.5h2M6 12.5h1M39 13.5h3M22 14.5h1M49 15.5h1M23 16.5h1M26 16.5h1M49 16.5h1M33 17.5h1M30 18.5h1M33 18.5h1M52 18.5h1M27 19.5h2M30 19.5h2M33 19.5h3M50 19.5h3M0 20.5h1M13 20.5h2M30 20.5h1M59 20.5h1M12 21.5h1M43 21.5h1M43 22.5h1M5 24.5h1M32 24.5h1M17 25.5h1M39 25.5h1M42 25.5h1M1 26.5h1M11 27.5h1M37 27.5h1M39 27.5h1M47 28.5h1M17 29.5h1M48 30.5h1M3 33.5h1M21 33.5h1M26 34.5h1M26 35.5h1M32 35.5h1M1 36.5h1M28 36.5h1M55 37.5h1M59 37.5h1M31 38.5h1M59 38.5h1M59 39.5h1M24 41.5h1M36 41.5h3M2 43.5h1M48 43.5h1M39 44.5h1M41 45.5h1M16 46.5h1M28 46.5h1M41 46.5h1M54 47.5h1M56 47.5h1M43 48.5h2M0 49.5h1M59 49.5h1M12 51.5h2M19 52.5h1M5 53.5h1M20 53.5h1M22 53.5h2M38 55.5h1M22 56.5h2M48 57.5h1M48 58.5h1"/></g></pattern><pattern id="sp_c" patternUnits="userSpaceOnUse" patternTransform="scale(1.35)" x="31" y="59" width="60" height="60"><g stroke-width="1" fill="none"><path stroke="#6CC1E3" d="M2 0.5h1M8 0.5h1M12 0.5h2M20 0.5h2M23 0.5h2M32 0.5h3M38 0.5h1M44 0.5h1M56 0.5h2M0 1.5h1M3 1.5h3M8 1.5h1M23 1.5h1M39 1.5h3M44 1.5h1M52 1.5h6M8 2.5h1M18 2.5h1M52 2.5h2M56 2.5h1M0 3.5h1M4 3.5h1M9 3.5h2M12 3.5h1M16 3.5h1M19 3.5h2M24 3.5h1M27 3.5h3M44 3.5h1M54 3.5h1M56 3.5h1M0 4.5h1M10 4.5h1M19 4.5h2M24 4.5h2M27 4.5h1M29 4.5h1M33 4.5h1M44 4.5h1M0 5.5h1M17 5.5h1M21 5.5h1M24 5.5h2M27 5.5h1M29 5.5h1M35 5.5h2M44 5.5h1M49 5.5h1M51 5.5h4M57 5.5h1M0 6.5h1M6 6.5h1M16 6.5h2M19 6.5h1M23 6.5h2M27 6.5h1M32 6.5h1M35 6.5h2M40 6.5h1M44 6.5h1M57 6.5h1M0 7.5h1M6 7.5h1M16 7.5h1M29 7.5h1M43 7.5h2M55 7.5h1M58 7.5h2M0 8.5h1M3 8.5h5M13 8.5h1M16 8.5h1M19 8.5h2M23 8.5h1M35 8.5h2M43 8.5h1M53 8.5h3M0 9.5h1M3 9.5h2M19 9.5h1M30 9.5h2M36 9.5h1M43 9.5h2M48 9.5h2M52 9.5h4M58 9.5h2M8 10.5h1M18 10.5h2M23 10.5h1M25 10.5h1M36 10.5h2M43 10.5h1M48 10.5h1M53 10.5h3M58 10.5h2M3 11.5h3M15 11.5h1M23 11.5h1M29 11.5h3M40 11.5h1M43 11.5h2M47 11.5h2M50 11.5h2M58 11.5h1M3 12.5h1M6 12.5h1M9 12.5h3M15 12.5h1M23 12.5h1M31 12.5h1M44 12.5h1M56 12.5h1M1 13.5h2M6 13.5h1M29 13.5h1M39 13.5h2M49 13.5h3M0 14.5h2M3 14.5h1M6 14.5h4M12 14.5h1M16 14.5h2M21 14.5h1M39 14.5h2M0 15.5h2M5 15.5h1M7 15.5h1M9 15.5h1M27 15.5h1M30 15.5h1M37 15.5h1M48 15.5h2M0 16.5h1M5 16.5h1M13 16.5h1M15 16.5h1M18 16.5h1M28 16.5h3M37 16.5h1M41 16.5h3M45 16.5h2M50 16.5h1M52 16.5h1M59 16.5h1M3 17.5h1M6 17.5h1M13 17.5h1M15 17.5h1M17 17.5h3M29 17.5h1M31 17.5h2M37 17.5h1M47 17.5h1M49 17.5h2M56 17.5h2M3 18.5h1M5 18.5h3M15 18.5h1M19 18.5h1M29 18.5h1M33 18.5h3M47 18.5h1M49 18.5h1M0 19.5h1M5 19.5h1M8 19.5h1M10 19.5h4M15 19.5h1M19 19.5h1M23 19.5h2M47 19.5h1M49 19.5h1M54 19.5h2M0 20.5h1M4 20.5h3M8 20.5h1M10 20.5h1M15 20.5h1M19 20.5h1M23 20.5h4M38 20.5h2M46 20.5h3M54 20.5h4M0 21.5h1M8 21.5h3M19 21.5h1M22 21.5h2M26 21.5h1M31 21.5h3M38 21.5h2M51 21.5h1M58 21.5h2M10 22.5h1M15 22.5h1M22 22.5h1M26 22.5h3M33 22.5h1M38 22.5h3M48 22.5h1M51 22.5h1M56 22.5h2M4 23.5h1M14 23.5h2M24 23.5h1M28 23.5h1M33 23.5h1M41 23.5h1M48 23.5h1M51 23.5h1M57 23.5h2M2 24.5h1M5 24.5h3M11 24.5h1M15 24.5h1M21 24.5h2M25 24.5h2M33 24.5h2M41 24.5h1M46 24.5h1M51 24.5h1M54 24.5h1M57 24.5h1M0 25.5h3M4 25.5h1M10 25.5h1M22 25.5h1M29 25.5h1M39 25.5h1M41 25.5h1M46 25.5h1M48 25.5h4M3 26.5h1M6 26.5h2M10 26.5h1M18 26.5h1M22 26.5h1M34 26.5h1M49 26.5h1M58 26.5h1M3 27.5h3M9 27.5h1M18 27.5h3M22 27.5h1M27 27.5h1M29 27.5h1M40 27.5h2M47 27.5h1M53 27.5h1M8 28.5h1M14 28.5h3M20 28.5h3M25 28.5h1M27 28.5h1M30 28.5h1M32 28.5h1M44 28.5h1M47 28.5h1M53 28.5h1M55 28.5h2M0 29.5h2M8 29.5h1M16 29.5h1M19 29.5h2M22 29.5h1M25 29.5h1M27 29.5h2M32 29.5h1M40 29.5h1M51 29.5h1M53 29.5h1M58 29.5h1M3 30.5h2M19 30.5h3M27 30.5h1M36 30.5h1M38 30.5h1M40 30.5h2M51 30.5h1M54 30.5h1M58 30.5h2M3 31.5h1M9 31.5h1M14 31.5h4M19 31.5h2M25 31.5h1M39 31.5h1M44 31.5h2M51 31.5h1M54 31.5h2M58 31.5h1M3 32.5h3M14 32.5h1M19 32.5h2M25 32.5h1M33 32.5h1M43 32.5h1M48 32.5h1M51 32.5h1M54 32.5h1M57 32.5h1M3 33.5h2M14 33.5h1M19 33.5h1M21 33.5h1M33 33.5h1M45 33.5h1M48 33.5h2M1 34.5h5M7 34.5h1M13 34.5h1M15 34.5h1M32 34.5h1M41 34.5h1M43 34.5h1M45 34.5h1M47 34.5h2M50 34.5h1M54 34.5h4M22 35.5h1M30 35.5h2M33 35.5h2M36 35.5h3M41 35.5h1M45 35.5h1M4 36.5h2M9 36.5h1M14 36.5h2M18 36.5h5M24 36.5h1M27 36.5h1M29 36.5h1M52 36.5h1M59 36.5h1M6 37.5h2M9 37.5h1M13 37.5h5M20 37.5h2M24 37.5h1M26 37.5h3M43 37.5h1M59 37.5h1M4 38.5h2M7 38.5h1M9 38.5h1M12 38.5h2M15 38.5h1M19 38.5h2M30 38.5h1M32 38.5h1M43 38.5h1M56 38.5h1M8 39.5h2M12 39.5h2M22 39.5h1M36 39.5h1M43 39.5h1M46 39.5h2M49 39.5h1M55 39.5h2M8 40.5h1M16 40.5h1M18 40.5h1M21 40.5h2M38 40.5h1M49 40.5h1M53 40.5h2M20 41.5h3M29 41.5h1M37 41.5h1M47 41.5h1M49 41.5h1M53 41.5h2M3 42.5h2M20 42.5h1M29 42.5h1M37 42.5h3M45 42.5h1M54 42.5h1M14 43.5h2M17 43.5h1M22 43.5h4M29 43.5h1M38 43.5h2M45 43.5h1M0 44.5h1M3 44.5h3M9 44.5h3M37 44.5h3M0 45.5h2M7 45.5h1M9 45.5h1M26 45.5h2M33 45.5h1M39 45.5h1M44 45.5h1M47 45.5h2M52 45.5h1M54 45.5h1M6 46.5h3M16 46.5h3M26 46.5h1M30 46.5h1M36 46.5h2M39 46.5h1M51 46.5h4M6 47.5h1M8 47.5h1M16 47.5h1M19 47.5h1M26 47.5h2M47 47.5h1M50 47.5h3M4 48.5h3M8 48.5h1M29 48.5h1M32 48.5h1M49 48.5h1M51 48.5h1M2 49.5h1M29 49.5h1M35 49.5h1M47 49.5h1M49 49.5h1M51 49.5h1M1 50.5h1M25 50.5h2M29 50.5h1M33 50.5h1M35 50.5h1M55 50.5h1M3 51.5h3M12 51.5h2M15 51.5h1M27 51.5h1M43 51.5h1M55 51.5h1M8 52.5h2M20 52.5h3M25 52.5h4M36 52.5h1M39 52.5h1M41 52.5h1M48 52.5h1M50 52.5h1M54 52.5h1M58 52.5h1M7 53.5h1M10 53.5h1M14 53.5h4M21 53.5h2M31 53.5h1M39 53.5h1M46 53.5h1M48 53.5h1M54 53.5h1M58 53.5h1M0 54.5h1M8 54.5h3M19 54.5h3M30 54.5h1M37 54.5h1M42 54.5h1M46 54.5h1M59 54.5h1M0 55.5h1M8 55.5h1M13 55.5h1M19 55.5h3M24 55.5h3M57 55.5h1M59 55.5h1M0 56.5h1M6 56.5h1M25 56.5h1M27 56.5h1M34 56.5h1M39 56.5h3M49 56.5h5M58 56.5h1M0 57.5h1M4 57.5h1M25 57.5h1M27 57.5h2M30 57.5h1M32 57.5h4M39 57.5h1M41 57.5h2M49 57.5h1M56 57.5h1M58 57.5h2M8 58.5h1M22 58.5h1M32 58.5h1M38 58.5h1M41 58.5h1M46 58.5h1M48 58.5h1M59 58.5h1M4 59.5h1M6 59.5h1M8 59.5h1M22 59.5h2M26 59.5h2M30 59.5h4M38 59.5h1M41 59.5h1M44 59.5h1M48 59.5h1M59 59.5h1"/><path stroke="#F39533" d="M0 0.5h2M6 0.5h1M10 0.5h2M14 0.5h1M18 0.5h1M22 0.5h1M26 0.5h1M29 0.5h2M46 0.5h1M52 0.5h3M12 1.5h1M18 1.5h2M22 1.5h1M29 1.5h2M32 1.5h1M38 1.5h1M43 1.5h1M6 2.5h1M12 2.5h1M22 2.5h4M28 2.5h2M32 2.5h1M35 2.5h2M41 2.5h3M48 2.5h1M58 2.5h1M6 3.5h1M13 3.5h1M22 3.5h1M32 3.5h1M43 3.5h1M51 3.5h2M58 3.5h1M4 4.5h1M9 4.5h1M13 4.5h1M15 4.5h2M22 4.5h1M32 4.5h1M37 4.5h2M40 4.5h1M49 4.5h3M57 4.5h2M15 5.5h1M18 5.5h1M22 5.5h1M28 5.5h1M37 5.5h3M58 5.5h2M4 6.5h1M18 6.5h1M26 6.5h1M28 6.5h2M39 6.5h1M48 6.5h2M4 7.5h1M11 7.5h4M18 7.5h1M22 7.5h1M28 7.5h1M31 7.5h2M37 7.5h1M46 7.5h1M48 7.5h1M12 8.5h1M22 8.5h1M29 8.5h3M37 8.5h1M39 8.5h1M44 8.5h1M46 8.5h1M52 8.5h1M56 8.5h1M2 9.5h1M7 9.5h4M12 9.5h2M23 9.5h1M25 9.5h1M28 9.5h1M33 9.5h3M45 9.5h3M0 10.5h1M2 10.5h3M28 10.5h1M39 10.5h2M52 10.5h1M2 11.5h1M10 11.5h4M26 11.5h1M35 11.5h4M41 11.5h1M49 11.5h1M2 12.5h1M4 12.5h1M12 12.5h1M18 12.5h1M26 12.5h2M42 12.5h2M48 12.5h1M54 12.5h1M10 13.5h1M12 13.5h1M18 13.5h1M26 13.5h2M30 13.5h1M36 13.5h2M42 13.5h2M54 13.5h1M56 13.5h3M13 14.5h1M15 14.5h1M27 14.5h2M34 14.5h3M42 14.5h1M47 14.5h1M50 14.5h1M54 14.5h1M57 14.5h2M13 15.5h3M19 15.5h2M35 15.5h2M43 15.5h1M47 15.5h1M50 15.5h1M6 16.5h1M31 16.5h1M40 16.5h1M58 16.5h1M0 17.5h1M5 17.5h1M7 17.5h2M22 17.5h1M25 17.5h2M30 17.5h1M38 17.5h3M59 17.5h1M9 18.5h2M12 18.5h3M16 18.5h1M32 18.5h1M40 18.5h1M57 18.5h3M2 19.5h1M9 19.5h1M14 19.5h1M16 19.5h1M25 19.5h1M31 19.5h2M35 19.5h2M48 19.5h1M51 19.5h1M57 19.5h1M9 20.5h1M17 20.5h1M27 20.5h1M31 20.5h1M42 20.5h1M44 20.5h1M50 20.5h1M53 20.5h1M12 21.5h1M24 21.5h1M27 21.5h1M30 21.5h1M34 21.5h3M41 21.5h1M49 21.5h2M1 22.5h1M3 22.5h1M12 22.5h2M16 22.5h1M19 22.5h2M23 22.5h2M30 22.5h1M46 22.5h1M49 22.5h1M3 23.5h1M10 23.5h1M12 23.5h1M20 23.5h1M30 23.5h1M34 23.5h1M36 23.5h1M39 23.5h2M46 23.5h1M53 23.5h3M0 24.5h2M3 24.5h1M10 24.5h1M16 24.5h3M30 24.5h1M35 24.5h2M44 24.5h1M59 24.5h1M3 25.5h1M7 25.5h1M20 25.5h2M32 25.5h2M38 25.5h1M40 25.5h1M44 25.5h1M57 25.5h3M1 26.5h2M5 26.5h1M12 26.5h2M16 26.5h2M20 26.5h2M41 26.5h1M48 26.5h1M56 26.5h2M2 27.5h1M10 27.5h2M16 27.5h2M21 27.5h1M23 27.5h1M30 27.5h1M33 27.5h1M48 27.5h1M52 27.5h1M57 27.5h2M3 28.5h1M5 28.5h1M13 28.5h1M19 28.5h1M23 28.5h1M33 28.5h4M42 28.5h1M45 28.5h1M3 29.5h1M18 29.5h1M23 29.5h1M41 29.5h5M54 29.5h2M59 29.5h1M2 30.5h1M8 30.5h1M22 30.5h1M25 30.5h2M28 30.5h5M50 30.5h1M55 30.5h2M4 31.5h3M8 31.5h1M11 31.5h1M33 31.5h2M36 31.5h1M41 31.5h1M46 31.5h1M50 31.5h1M56 31.5h1M11 32.5h3M21 32.5h1M28 32.5h2M34 32.5h2M40 32.5h3M50 32.5h1M53 32.5h1M56 32.5h1M9 33.5h1M23 33.5h1M29 33.5h3M37 33.5h1M43 33.5h1M9 34.5h1M24 34.5h1M28 34.5h1M46 34.5h1M1 35.5h1M5 35.5h2M9 35.5h1M13 35.5h1M18 35.5h1M23 35.5h1M28 35.5h1M32 35.5h1M35 35.5h1M47 35.5h1M54 35.5h2M1 36.5h1M10 36.5h1M13 36.5h1M23 36.5h1M31 36.5h2M34 36.5h2M39 36.5h1M45 36.5h2M48 36.5h3M54 36.5h1M58 36.5h1M1 37.5h1M4 37.5h2M11 37.5h1M32 37.5h1M39 37.5h1M55 37.5h1M0 38.5h2M11 38.5h1M22 38.5h1M25 38.5h1M39 38.5h1M46 38.5h1M59 38.5h1M2 39.5h4M15 39.5h4M44 39.5h1M53 39.5h1M1 40.5h1M9 40.5h1M17 40.5h1M25 40.5h1M30 40.5h1M1 41.5h1M4 41.5h2M8 41.5h1M12 41.5h2M18 41.5h2M25 41.5h1M30 41.5h1M33 41.5h2M57 41.5h1M1 42.5h1M10 42.5h1M12 42.5h3M19 42.5h1M25 42.5h1M30 42.5h1M32 42.5h3M40 42.5h1M59 42.5h1M7 43.5h1M10 43.5h1M12 43.5h1M16 43.5h1M18 43.5h2M31 43.5h2M54 43.5h2M2 44.5h1M7 44.5h2M12 44.5h2M16 44.5h1M18 44.5h1M27 44.5h3M31 44.5h1M34 44.5h1M43 44.5h1M53 44.5h1M58 44.5h1M2 45.5h1M4 45.5h1M12 45.5h1M15 45.5h2M18 45.5h1M21 45.5h1M24 45.5h1M34 45.5h2M40 45.5h4M53 45.5h1M0 46.5h1M2 46.5h1M4 46.5h1M10 46.5h1M12 46.5h1M15 46.5h1M21 46.5h2M27 46.5h1M41 46.5h1M43 46.5h2M59 46.5h1M3 47.5h1M10 47.5h1M12 47.5h1M20 47.5h2M34 47.5h4M40 47.5h1M43 47.5h2M55 47.5h1M13 48.5h3M19 48.5h1M23 48.5h1M27 48.5h1M40 48.5h1M46 48.5h2M53 48.5h1M20 49.5h1M23 49.5h2M27 49.5h1M30 49.5h1M44 49.5h2M48 49.5h1M50 49.5h1M53 49.5h1M2 50.5h1M24 50.5h1M28 50.5h1M30 50.5h2M46 50.5h1M48 50.5h1M50 50.5h1M2 51.5h1M8 51.5h1M10 51.5h1M14 51.5h1M19 51.5h1M34 51.5h1M39 51.5h3M46 51.5h1M48 51.5h1M53 51.5h1M56 51.5h4M12 52.5h3M29 52.5h1M35 52.5h1M52 52.5h2M55 52.5h2M8 53.5h1M23 53.5h2M26 53.5h1M29 53.5h1M40 53.5h4M47 53.5h1M50 53.5h2M3 54.5h3M18 54.5h1M26 54.5h1M29 54.5h1M38 54.5h3M43 54.5h1M47 54.5h4M54 54.5h1M58 54.5h1M14 55.5h2M23 55.5h1M31 55.5h3M39 55.5h3M45 55.5h3M54 55.5h1M58 55.5h1M13 56.5h2M23 56.5h1M44 56.5h1M54 56.5h1M1 57.5h1M40 57.5h1M43 57.5h1M50 57.5h1M1 58.5h1M13 58.5h2M25 58.5h1M30 58.5h1M34 58.5h2M43 58.5h1M45 58.5h1M50 58.5h1M1 59.5h1M7 59.5h1M17 59.5h2M20 59.5h1M29 59.5h1M35 59.5h3M45 59.5h2M54 59.5h1M56 59.5h1"/><path stroke="#E2402B" d="M2 1.5h1M31 1.5h1M2 2.5h1M59 3.5h1M45 4.5h3M21 7.5h1M44 10.5h1M7 12.5h1M16 12.5h1M33 12.5h1M47 12.5h1M59 12.5h1M16 13.5h1M31 13.5h1M33 13.5h1M59 13.5h1M59 14.5h1M46 17.5h1M46 18.5h1M46 19.5h1M11 20.5h1M34 20.5h2M5 22.5h1M25 23.5h1M35 23.5h1M8 24.5h1M47 25.5h1M39 26.5h1M47 26.5h1M39 27.5h1M47 29.5h3M0 31.5h1M27 31.5h1M27 32.5h1M36 32.5h1M35 33.5h2M45 37.5h1M51 40.5h1M44 41.5h2M5 43.5h1M44 43.5h1M44 44.5h1M52 44.5h1M31 47.5h1M56 48.5h1M54 49.5h1M56 49.5h1M5 50.5h1M42 50.5h1M9 51.5h1M42 51.5h1M5 52.5h1M40 52.5h1M32 54.5h1M3 55.5h1M16 55.5h2M3 56.5h1M46 56.5h2M4 58.5h1M9 58.5h1M10 59.5h1"/></g></pattern></defs><g fill="none" stroke-width="2.5" stroke-linecap="butt"><path stroke="url(#sp_dot)" d="M348 943.75h7.5M343 946.25h15m2.5 0h2.5M345.5 948.75h17.5M340.5 951.25h22.5M328 953.75h2.5m10 0h2.5m2.5 0h20m5 0h2.5M325.5 956.25h7.5m25 0h5m2.5 0h5M320.5 958.75h15m25 0h12.5m20 0h10M325.5 961.25h7.5m27.5 0h10m20 0h12.5M323 963.75h2.5m7.5 0h2.5m35 0h2.5m5 0h5m12.5 0h5m2.5 0h2.5M320.5 966.25h2.5m10 0h2.5m30 0h7.5m2.5 0h5m12.5 0h5m2.5 0h5m2.5 0h2.5M375.5 968.75h7.5m22.5 0h10M373 971.25h12.5m15 0h2.5m2.5 0h10M375.5 973.75h12.5m17.5 0h5m2.5 0h2.5M300.5 976.25h12.5m20 0h2.5m42.5 0h5m2.5 0h2.5m2.5 0h2.5m20 0h2.5m2.5 0h5M303 978.75h10m20 0h7.5m40 0h2.5m2.5 0h5m2.5 0h2.5m17.5 0h10M303 981.25h10m17.5 0h12.5m40 0h10m17.5 0h12.5M303 983.75h10m5 0h2.5m17.5 0h2.5m10 0h2.5m30 0h10m20 0h10M308 986.25h12.5m25 0h5m67.5 0h2.5M313 988.75h10m22.5 0h5M310.5 991.25h10m22.5 0h10M268 993.75h2.5m42.5 0h10m17.5 0h10m2.5 0h2.5m27.5 0h2.5m2.5 0h2.5M263 996.25h5m37.5 0h2.5m2.5 0h5m30 0h2.5m27.5 0h2.5m2.5 0h5M265.5 998.75h5m32.5 0h10m57.5 0h22.5M263 1001.25h10m30 0h10m60 0h20M263 1003.75h2.5m2.5 0h2.5m35 0h5m60 0h2.5m2.5 0h5m5 0h2.5m55 0h5m2.5 0h2.5m2.5 0h2.5M265.5 1006.25h2.5m42.5 0h2.5m72.5 0h2.5m55 0h7.5m2.5 0h7.5M443 1008.75h17.5M440.5 1011.25h25M245.5 1013.75h2.5m25 0h5m22.5 0h2.5m140 0h7.5m5 0h2.5m5 0h2.5M240.5 1016.25h10m22.5 0h2.5m5 0h5m10 0h2.5m2.5 0h2.5m152.5 0h5M245.5 1018.75h7.5m20 0h10m10 0h12.5M240.5 1021.25h12.5m20 0h10m10 0h7.5M245.5 1023.75h7.5m17.5 0h5m2.5 0h5m10 0h7.5m2.5 0h2.5m87.5 0h2.5m5 0h2.5M243 1026.25h2.5m52.5 0h2.5m92.5 0h12.5M390.5 1028.75h15M393 1031.25h10M250.5 1033.75h2.5m100 0h2.5m37.5 0h7.5m2.5 0h2.5M243 1036.25h5m2.5 0h5m105 0h2.5M240.5 1038.75h12.5m102.5 0h7.5M243 1041.25h12.5m95 0h12.5M208 1043.75h2.5m32.5 0h5m22.5 0h5m77.5 0h10m5 0h2.5m95 0h2.5M208 1046.25h7.5m35 0h2.5m15 0h5m85 0h2.5m5 0h7.5m87.5 0h10M205.5 1048.75h5m52.5 0h10m90 0h7.5m92.5 0h10M200.5 1051.25h10m50 0h2.5m2.5 0h5m92.5 0h10m92.5 0h7.5M205.5 1053.75h10m47.5 0h5m95 0h7.5m37.5 0h2.5m12.5 0h2.5m35 0h12.5M208 1056.25h2.5m52.5 0h2.5m95 0h2.5m2.5 0h2.5m35 0h22.5m12.5 0h2.5m25 0h2.5M403 1058.75h17.5m12.5 0h12.5M400.5 1061.25h22.5m12.5 0h7.5M295.5 1063.75h2.5m110 0h5m2.5 0h5m2.5 0h2.5m10 0h7.5M235.5 1066.25h7.5m20 0h2.5m5 0h2.5m22.5 0h7.5m100 0h2.5m2.5 0h2.5m5 0h2.5m17.5 0h5M230.5 1068.75h15m20 0h5m22.5 0h12.5M233 1071.25h10m17.5 0h12.5m20 0h10M263 1073.75h5m2.5 0h5m17.5 0h7.5m2.5 0h2.5m7.5 0h2.5m62.5 0h2.5m45 0h2.5m5 0h2.5m7.5 0h7.5M265.5 1076.25h7.5m20 0h12.5m7.5 0h7.5m52.5 0h2.5m7.5 0h2.5m35 0h2.5m5 0h7.5m2.5 0h10m2.5 0h2.5M293 1078.75h7.5m12.5 0h10m50 0h7.5m2.5 0h2.5m40 0h25M295.5 1081.25h10m5 0h10m50 0h2.5m2.5 0h7.5m40 0h30M210.5 1083.75h2.5m77.5 0h2.5m2.5 0h5m12.5 0h2.5m2.5 0h2.5m42.5 0h5m5 0h7.5m12.5 0h7.5m25 0h5m2.5 0h17.5M213 1086.25h2.5m5 0h5m65 0h2.5m2.5 0h2.5m2.5 0h2.5m65 0h2.5m10 0h17.5m2.5 0h2.5m22.5 0h2.5m10 0h2.5m5 0h2.5m2.5 0h2.5M213 1088.75h10m142.5 0h7.5m10 0h17.5M213 1091.25h10m142.5 0h10m10 0h17.5M208 1093.75h12.5m142.5 0h2.5m2.5 0h2.5m17.5 0h2.5m5 0h7.5M203 1096.25h17.5M203 1098.75h7.5M203 1101.25h10M195.5 1103.75h2.5m7.5 0h5m2.5 0h2.5m280 0h7.5m10 0h2.5M158 1106.25h5m32.5 0h5m2.5 0h7.5m282.5 0h2.5m2.5 0h2.5m12.5 0h2.5m5 0h2.5M153 1108.75h10m32.5 0h7.5m290 0h7.5m10 0h2.5m2.5 0h7.5M155.5 1111.25h10m30 0h5m290 0h2.5m2.5 0h10m7.5 0h10M153 1113.75h10m30 0h7.5m292.5 0h5m12.5 0h2.5m2.5 0h7.5M155.5 1116.25h2.5m32.5 0h2.5m2.5 0h2.5m297.5 0h5m2.5 0h2.5m5 0h2.5M170.5 1123.75h2.5m5 0h2.5M178 1126.25h2.5M173 1128.75h7.5M170.5 1131.25h12.5M148 1133.75h2.5m25 0h5m345 0h5M143 1136.25h12.5m17.5 0h2.5m17.5 0h5m2.5 0h2.5m320 0h2.5m2.5 0h5M143 1138.75h10m37.5 0h12.5m320 0h7.5M143 1141.25h10m37.5 0h2.5m2.5 0h10m317.5 0h12.5M143 1143.75h10m42.5 0h7.5m42.5 0h2.5m267.5 0h7.5m2.5 0h5m2.5 0h2.5M148 1146.25h2.5m40 0h15m40 0h10m257.5 0h10m5 0h2.5M193 1148.75h12.5m40 0h10m260 0h5M193 1151.25h7.5m45 0h7.5m260 0h12.5M193 1153.75h5m25 0h5m17.5 0h2.5m2.5 0h2.5m260 0h2.5m2.5 0h5M183 1156.25h12.5m27.5 0h7.5m10 0h5m7.5 0h2.5m262.5 0h2.5M185.5 1158.75h5m2.5 0h2.5m27.5 0h10M180.5 1161.25h10m2.5 0h2.5m25 0h2.5m2.5 0h7.5M185.5 1163.75h2.5m32.5 0h12.5m282.5 0h2.5m2.5 0h2.5M180.5 1166.25h5m2.5 0h2.5m22.5 0h10m7.5 0h2.5m277.5 0h2.5m2.5 0h7.5M210.5 1168.75h2.5m2.5 0h5m295 0h5M210.5 1171.25h12.5m290 0h7.5M243 1173.75h2.5m105 0h2.5m5 0h2.5m2.5 0h2.5m140 0h2.5m2.5 0h5m2.5 0h7.5M185.5 1176.25h7.5m47.5 0h10m2.5 0h2.5m97.5 0h5m147.5 0h5m5 0h2.5M180.5 1178.75h2.5m2.5 0h7.5m47.5 0h12.5m100 0h7.5m142.5 0h10M185.5 1181.25h7.5m52.5 0h10m97.5 0h10m142.5 0h7.5M183 1183.75h2.5m2.5 0h5m50 0h2.5m2.5 0h7.5m65 0h7.5m5 0h2.5m17.5 0h7.5m132.5 0h2.5m7.5 0h2.5m2.5 0h2.5M190.5 1186.25h2.5m2.5 0h10m40 0h2.5m15 0h7.5m35 0h7.5m10 0h10m22.5 0h5m135 0h10m2.5 0h2.5M193 1188.75h10m60 0h12.5m27.5 0h30m157.5 0h2.5m2.5 0h7.5M190.5 1191.25h15m55 0h2.5m2.5 0h5m2.5 0h2.5m25 0h2.5m2.5 0h30m157.5 0h12.5M193 1193.75h7.5m62.5 0h10m27.5 0h15m2.5 0h2.5m2.5 0h12.5m157.5 0h10M193 1196.25h7.5m2.5 0h2.5m35 0h10m52.5 0h2.5m5 0h7.5m5 0h10m162.5 0h2.5M190.5 1198.75h10m42.5 0h12.5m65 0h12.5M195.5 1201.25h7.5m40 0h10m70 0h10M190.5 1203.75h2.5m7.5 0h5m37.5 0h2.5m2.5 0h2.5m72.5 0h12.5m140 0h2.5M193 1206.25h2.5m45 0h5m2.5 0h2.5m62.5 0h20m77.5 0h10m62.5 0h2.5M310.5 1208.75h2.5m2.5 0h17.5m82.5 0h7.5m47.5 0h15M315.5 1211.25h20m75 0h12.5m50 0h7.5M233 1213.75h2.5m5 0h2.5m42.5 0h5m25 0h15m85 0h5m2.5 0h2.5m17.5 0h2.5m2.5 0h2.5m12.5 0h2.5m10 0h2.5m2.5 0h2.5M233 1216.25h5m2.5 0h2.5m40 0h12.5m22.5 0h2.5m97.5 0h2.5m2.5 0h5m5 0h2.5m10 0h5m5 0h7.5m12.5 0h2.5m15 0h7.5M233 1218.75h10m37.5 0h2.5m2.5 0h10m130 0h5m15 0h15m30 0h12.5M230.5 1221.25h12.5m40 0h10m130 0h12.5m7.5 0h22.5m25 0h12.5M235.5 1223.75h5m2.5 0h2.5m2.5 0h2.5m35 0h7.5m30 0h2.5m100 0h7.5m12.5 0h7.5m2.5 0h5m32.5 0h10M238 1226.25h2.5m5 0h7.5m27.5 0h2.5m40 0h7.5m97.5 0h2.5m10 0h5m5 0h2.5m5 0h2.5m12.5 0h2.5m5 0h2.5m10 0h2.5M243 1228.75h7.5m72.5 0h10m140 0h10M245.5 1231.25h7.5m70 0h12.5m140 0h7.5M245.5 1233.75h7.5m32.5 0h7.5m2.5 0h2.5m30 0h12.5m125 0h2.5m5 0h10M238 1236.25h15m32.5 0h7.5m37.5 0h5m2.5 0h2.5m122.5 0h5M233 1238.75h22.5m30 0h17.5m30 0h10m117.5 0h12.5M233 1241.25h20m30 0h17.5m2.5 0h2.5m30 0h10m115 0h12.5M230.5 1243.75h12.5m10 0h2.5m7.5 0h2.5m2.5 0h2.5m15 0h5m5 0h5m32.5 0h7.5m2.5 0h2.5m120 0h5M233 1246.25h10m7.5 0h2.5m17.5 0h2.5m57.5 0h2.5m7.5 0h2.5m120 0h10M233 1248.75h10m20 0h10M235.5 1251.25h5m20 0h2.5m2.5 0h7.5M233 1253.75h12.5m20 0h7.5m47.5 0h2.5m5 0h5m7.5 0h5M233 1256.25h10m27.5 0h2.5m42.5 0h15m2.5 0h7.5m35 0h7.5M235.5 1258.75h10m67.5 0h30m27.5 0h2.5m2.5 0h7.5M235.5 1261.25h7.5m70 0h27.5m2.5 0h2.5m30 0h7.5M233 1263.75h5m57.5 0h5m10 0h20m2.5 0h12.5m27.5 0h10M238 1266.25h5m47.5 0h7.5m2.5 0h2.5m12.5 0h10m10 0h2.5m2.5 0h2.5m30 0h7.5M293 1268.75h10m10 0h12.5M293 1271.25h7.5m12.5 0h10M293 1273.75h2.5m5 0h2.5m15 0h2.5M313 1276.25h2.5M343 1283.75h2.5m57.5 0h2.5m2.5 0h2.5M343 1286.25h2.5m2.5 0h5m50 0h2.5m2.5 0h2.5M345.5 1288.75h7.5m50 0h10M340.5 1291.25h2.5m2.5 0h5m2.5 0h2.5m47.5 0h10M290.5 1293.75h2.5m15 0h2.5m2.5 0h2.5m2.5 0h2.5m22.5 0h5m2.5 0h7.5m7.5 0h2.5m37.5 0h7.5M285.5 1296.25h12.5m2.5 0h5m2.5 0h7.5m2.5 0h7.5m30 0h2.5m5 0h2.5m2.5 0h5m30 0h5M283 1298.75h37.5m32.5 0h20M283 1301.25h42.5m25 0h20m2.5 0h2.5M280.5 1303.75h2.5m7.5 0h5m7.5 0h2.5m5 0h7.5m27.5 0h5m5 0h5m5 0h2.5m2.5 0h2.5M283 1306.25h2.5m2.5 0h5m2.5 0h2.5m2.5 0h2.5m15 0h5m20 0h10m2.5 0h2.5m2.5 0h2.5m7.5 0h2.5M345.5 1308.75h7.5M340.5 1311.25h12.5M343 1313.75h10M313 1316.25h7.5m2.5 0h2.5m17.5 0h10M313 1318.75h10m20 0h7.5m2.5 0h2.5M310.5 1321.25h10m20 0h2.5m2.5 0h7.5M315.5 1323.75h5m20 0h20m2.5 0h2.5M343 1326.25h12.5m7.5 0h2.5m5 0h2.5M343 1328.75h32.5M340.5 1331.25h35M345.5 1333.75h7.5m5 0h5m7.5 0h5"/><path stroke="url(#sp_s)" d="M343 953.75h2.5M335.5 956.25h22.5m5 0h2.5M335.5 958.75h25M333 961.25h27.5M335.5 963.75h35m15 0h2.5m5 0h2.5m5 0h2.5M335.5 966.25h30m7.5 0h2.5m7.5 0h5m2.5 0h2.5m5 0h2.5M333 968.75h42.5m7.5 0h22.5M333 971.25h40m12.5 0h15m2.5 0h2.5M335.5 973.75h17.5m2.5 0h5m2.5 0h5m5 0h2.5m12.5 0h5m2.5 0h10M335.5 976.25h5m5 0h5m17.5 0h2.5m17.5 0h2.5m2.5 0h2.5m5 0h2.5m2.5 0h5M403 978.75h10M405.5 981.25h5M280.5 983.75h7.5m2.5 0h2.5m7.5 0h2.5m25 0h2.5m5 0h2.5m62.5 0h2.5m2.5 0h7.5M288 986.25h17.5m15 0h7.5m2.5 0h10m2.5 0h2.5m55 0h2.5m2.5 0h12.5m2.5 0h2.5M283 988.75h17.5m22.5 0h22.5m55 0h22.5M280.5 991.25h20m20 0h22.5m60 0h17.5M270.5 993.75h2.5m5 0h5m2.5 0h5m2.5 0h7.5m22.5 0h10m60 0h2.5m5 0h2.5m2.5 0h17.5M270.5 996.25h2.5m2.5 0h10m30 0h5m10 0h2.5m60 0h2.5m5 0h20M270.5 998.75h15m27.5 0h10m70 0h27.5M273 1001.25h12.5m27.5 0h7.5m2.5 0h2.5m67.5 0h30M273 1003.75h7.5m30 0h5m2.5 0h5m70 0h20m2.5 0h7.5M275.5 1006.25h2.5m22.5 0h10m10 0h15m60 0h10m5 0h2.5m2.5 0h2.5M303 1008.75h10m12.5 0h7.5m60 0h12.5M303 1011.25h7.5m10 0h10m65 0h7.5M263 1013.75h2.5m37.5 0h5m5 0h2.5m5 0h10m12.5 0h2.5m7.5 0h7.5m12.5 0h2.5m10 0h2.5m5 0h10m17.5 0h2.5m12.5 0h7.5m7.5 0h5m2.5 0h5M258 1016.25h5m42.5 0h2.5m15 0h30m2.5 0h2.5m2.5 0h2.5m10 0h2.5m2.5 0h2.5m2.5 0h7.5m2.5 0h10m2.5 0h7.5m2.5 0h2.5m2.5 0h2.5m10 0h22.5m5 0h2.5M253 1018.75h10m62.5 0h37.5m10 0h47.5m10 0h30M253 1021.25h7.5m2.5 0h2.5m57.5 0h40m10 0h47.5m15 0h27.5M243 1023.75h2.5m7.5 0h7.5m7.5 0h2.5m50 0h12.5m5 0h17.5m17.5 0h17.5m5 0h5m2.5 0h20m12.5 0h25m2.5 0h2.5M245.5 1026.25h10m2.5 0h2.5m5 0h5m50 0h2.5m2.5 0h10m2.5 0h2.5m5 0h12.5m17.5 0h5m5 0h2.5m17.5 0h17.5m20 0h10m2.5 0h2.5m2.5 0h2.5M243 1028.75h12.5m7.5 0h12.5m47.5 0h10m10 0h7.5m2.5 0h2.5m50 0h17.5m17.5 0h12.5M243 1031.25h10m12.5 0h7.5m50 0h7.5m12.5 0h10m50 0h17.5m22.5 0h10M240.5 1033.75h10m10 0h2.5m2.5 0h10m47.5 0h10m10 0h10m47.5 0h2.5m2.5 0h17.5m17.5 0h10m5 0h5M248 1036.25h2.5m12.5 0h12.5m45 0h12.5m12.5 0h2.5m55 0h20m22.5 0h12.5m2.5 0h2.5M265.5 1038.75h7.5m50 0h10m67.5 0h2.5m2.5 0h20m20 0h17.5M265.5 1041.25h10m47.5 0h10m67.5 0h22.5m20 0h20M265.5 1043.75h5m32.5 0h2.5m2.5 0h2.5m5 0h2.5m2.5 0h10m72.5 0h22.5m15 0h5m2.5 0h12.5m2.5 0h2.5M263 1046.25h5m5 0h2.5m30 0h5m2.5 0h12.5m2.5 0h2.5m15 0h2.5m5 0h2.5m50 0h17.5m25 0h12.5M303 1048.75h20m20 0h7.5m2.5 0h2.5m45 0h2.5m2.5 0h17.5m32.5 0h7.5M303 1051.25h20m22.5 0h7.5m50 0h20m32.5 0h10M215.5 1053.75h2.5m85 0h5m2.5 0h7.5m5 0h2.5m2.5 0h2.5m20 0h7.5m47.5 0h2.5m2.5 0h10m32.5 0h7.5M190.5 1056.25h15m5 0h2.5m7.5 0h2.5m97.5 0h2.5m5 0h2.5m17.5 0h2.5m5 0h5M195.5 1058.75h7.5m12.5 0h7.5m102.5 0h7.5m20 0h10M193 1061.25h10m7.5 0h10m2.5 0h2.5m97.5 0h7.5m20 0h12.5M193 1063.75h10m122.5 0h7.5m17.5 0h15m37.5 0h5M193 1066.25h12.5m12.5 0h2.5m102.5 0h2.5m2.5 0h2.5m22.5 0h2.5m7.5 0h7.5m35 0h2.5M190.5 1068.75h10m162.5 0h10m30 0h7.5m2.5 0h2.5M190.5 1071.25h12.5m160 0h7.5m32.5 0h7.5M193 1073.75h7.5m27.5 0h2.5m2.5 0h12.5m5 0h2.5m15 0h2.5m30 0h2.5m60 0h10m32.5 0h2.5m5 0h2.5M225.5 1076.25h2.5m2.5 0h20m12.5 0h2.5m40 0h5m55 0h7.5m105 0h5M220.5 1078.75h32.5m7.5 0h12.5m27.5 0h12.5m47.5 0h12.5m97.5 0h15M223 1081.25h30m7.5 0h2.5m2.5 0h7.5m32.5 0h5m52.5 0h7.5m2.5 0h2.5m95 0h2.5m2.5 0h5M223 1083.75h2.5m2.5 0h20m15 0h2.5m5 0h5m27.5 0h10m17.5 0h2.5m2.5 0h2.5m30 0h2.5m32.5 0h5m7.5 0h2.5m5 0h2.5m50 0h7.5M185.5 1086.25h5m35 0h5m2.5 0h7.5m2.5 0h7.5m17.5 0h2.5m32.5 0h10m7.5 0h2.5m2.5 0h15m20 0h7.5m2.5 0h2.5m30 0h12.5m7.5 0h2.5m10 0h2.5m2.5 0h5m17.5 0h5m5 0h2.5M183 1088.75h12.5m37.5 0h10m57.5 0h10m2.5 0h2.5m7.5 0h22.5m55 0h22.5m10 0h7.5m22.5 0h10M180.5 1091.25h12.5m37.5 0h12.5m57.5 0h10m15 0h17.5m60 0h20m10 0h10m17.5 0h12.5M180.5 1093.75h17.5m22.5 0h2.5m12.5 0h5m65 0h2.5m2.5 0h2.5m10 0h10m2.5 0h2.5m2.5 0h5m47.5 0h2.5m7.5 0h12.5m2.5 0h5m10 0h5m30 0h2.5M170.5 1096.25h5m5 0h22.5m17.5 0h2.5m12.5 0h7.5m62.5 0h2.5m22.5 0h2.5m62.5 0h20m17.5 0h2.5m2.5 0h2.5m22.5 0h2.5M170.5 1098.75h32.5m7.5 0h12.5m10 0h12.5m147.5 0h22.5M173 1101.25h30m10 0h10m10 0h10m150 0h20M165.5 1103.75h2.5m5 0h12.5m7.5 0h2.5m2.5 0h7.5m5 0h2.5m2.5 0h2.5m5 0h2.5m7.5 0h10m150 0h2.5m2.5 0h5m2.5 0h2.5m2.5 0h2.5M163 1106.25h10m12.5 0h2.5m2.5 0h5m5 0h2.5m7.5 0h2.5m5 0h2.5m12.5 0h2.5m2.5 0h5m152.5 0h5m7.5 0h2.5m2.5 0h2.5M163 1108.75h12.5m27.5 0h12.5M165.5 1111.25h10m25 0h15M148 1113.75h2.5m12.5 0h2.5m2.5 0h2.5m30 0h5m2.5 0h2.5M145.5 1116.25h10m15 0h10m27.5 0h2.5M143 1118.75h10m17.5 0h12.5M143 1121.25h7.5m22.5 0h12.5M143 1123.75h7.5m22.5 0h5m2.5 0h2.5M143 1126.25h2.5m2.5 0h7.5m2.5 0h2.5m15 0h2.5m2.5 0h2.5M153 1128.75h7.5M150.5 1131.25h12.5M155.5 1133.75h2.5m97.5 0h2.5M253 1136.25h7.5M250.5 1138.75h2.5m2.5 0h10M253 1141.25h10M260.5 1143.75h2.5M223 1146.25h2.5m5 0h10m17.5 0h5M223 1148.75h22.5M223 1151.25h22.5M213 1153.75h2.5m12.5 0h10m2.5 0h2.5M218 1156.25h5m10 0h2.5m2.5 0h2.5M215.5 1158.75h7.5M213 1161.25h7.5m2.5 0h2.5M215.5 1163.75h5M205.5 1173.75h2.5m2.5 0h12.5M193 1176.25h7.5m5 0h20M193 1178.75h30M193 1181.25h30M185.5 1183.75h2.5m5 0h27.5M183 1186.25h7.5m2.5 0h2.5m10 0h15m2.5 0h2.5M180.5 1188.75h12.5m10 0h17.5M180.5 1191.25h10m15 0h17.5M183 1193.75h10m7.5 0h20M185.5 1196.25h7.5m7.5 0h2.5m2.5 0h20m5 0h5m97.5 0h10M185.5 1198.75h5m10 0h32.5m100 0h12.5M183 1201.25h12.5m7.5 0h27.5m2.5 0h2.5m97.5 0h7.5M185.5 1203.75h5m2.5 0h7.5m5 0h25m110 0h2.5M180.5 1206.25h12.5m2.5 0h35m2.5 0h2.5m97.5 0h2.5m7.5 0h2.5M183 1208.75h50M183 1211.25h47.5M183 1213.75h10m2.5 0h35M185.5 1216.25h2.5m5 0h40M193 1218.75h40M195.5 1221.25h35M193 1223.75h2.5m2.5 0h27.5m2.5 0h7.5m97.5 0h2.5m2.5 0h2.5m122.5 0h5M198 1226.25h27.5m5 0h2.5m97.5 0h5m2.5 0h5m77.5 0h7.5m35 0h5m2.5 0h2.5M205.5 1228.75h17.5m110 0h12.5m77.5 0h7.5m32.5 0h10M205.5 1231.25h20m110 0h7.5m82.5 0h5m32.5 0h12.5M203 1233.75h12.5m2.5 0h5m117.5 0h2.5m82.5 0h7.5m5 0h2.5m20 0h2.5m5 0h2.5M335.5 1236.25h2.5m82.5 0h2.5m7.5 0h7.5m30 0h5M433 1238.75h10M435.5 1241.25h7.5M280.5 1243.75h2.5m30 0h5m2.5 0h2.5m22.5 0h2.5m5 0h2.5m5 0h2.5m72.5 0h10M273 1246.25h5m2.5 0h2.5m32.5 0h10m17.5 0h5m7.5 0h2.5m5 0h2.5M273 1248.75h10m27.5 0h15m17.5 0h20M273 1251.25h7.5m32.5 0h10m20 0h17.5m2.5 0h2.5M245.5 1253.75h2.5m27.5 0h5m30 0h10m27.5 0h7.5m2.5 0h2.5m2.5 0h2.5m72.5 0h2.5M243 1256.25h5m2.5 0h2.5m20 0h2.5m32.5 0h7.5m67.5 0h2.5m52.5 0h5M245.5 1258.75h7.5m52.5 0h7.5m70 0h12.5m37.5 0h10M243 1261.25h10m50 0h10m70 0h12.5m37.5 0h10M253 1263.75h2.5m47.5 0h2.5m2.5 0h2.5m20 0h2.5m20 0h7.5m27.5 0h5m37.5 0h2.5m5 0h5M243 1266.25h2.5m2.5 0h2.5m32.5 0h7.5m20 0h2.5m12.5 0h10m20 0h5m27.5 0h2.5M285.5 1268.75h7.5m32.5 0h7.5m20 0h12.5M280.5 1271.25h12.5m30 0h7.5m2.5 0h2.5m20 0h10M283 1273.75h2.5m2.5 0h5m27.5 0h5m2.5 0h5m25 0h7.5M325.5 1276.25h2.5m92.5 0h7.5m2.5 0h5M423 1278.75h12.5M423 1281.25h10M280.5 1283.75h2.5m40 0h7.5m2.5 0h7.5m12.5 0h7.5m10 0h2.5m5 0h2.5m2.5 0h2.5m35 0h2.5m2.5 0h7.5M273 1286.25h7.5m2.5 0h2.5m37.5 0h2.5m2.5 0h2.5m2.5 0h7.5m12.5 0h2.5m5 0h27.5m7.5 0h2.5m22.5 0h2.5m7.5 0h2.5M270.5 1288.75h15m35 0h25m7.5 0h50M273 1291.25h12.5m37.5 0h17.5m2.5 0h2.5m5 0h2.5m2.5 0h47.5M273 1293.75h10m47.5 0h12.5m15 0h7.5m2.5 0h7.5m2.5 0h2.5m2.5 0h2.5m2.5 0h5m2.5 0h5m2.5 0h2.5M325.5 1296.25h5m2.5 0h2.5m2.5 0h2.5m12.5 0h2.5m2.5 0h5m2.5 0h2.5m5 0h2.5m10 0h2.5m5 0h2.5"/><path stroke="url(#sp_q)" d="M315.5 963.75h5M310.5 966.25h2.5m2.5 0h5M313 968.75h10M310.5 971.25h12.5M310.5 973.75h12.5M313 976.25h10M313 978.75h10M313 981.25h12.5M313 983.75h5m2.5 0h2.5m120 0h2.5m15 0h5M373 986.25h7.5m2.5 0h2.5m57.5 0h2.5m5 0h15M370.5 988.75h12.5m62.5 0h15M373 991.25h10m62.5 0h15m2.5 0h2.5M370.5 993.75h2.5m2.5 0h5m60 0h10m5 0h5m2.5 0h2.5M373 996.25h2.5m2.5 0h2.5m67.5 0h5M468 1013.75h2.5M463 1016.25h7.5m2.5 0h2.5M460.5 1018.75h15M463 1021.25h7.5m2.5 0h2.5M283 1023.75h2.5m175 0h2.5m2.5 0h10M285.5 1026.25h7.5m170 0h7.5M280.5 1028.75h12.5m170 0h12.5M283 1031.25h10m167.5 0h2.5m2.5 0h7.5M288 1033.75h5m167.5 0h2.5m2.5 0h10M285.5 1036.25h2.5m175 0h2.5m10 0h2.5m5 0h2.5M475.5 1038.75h10M470.5 1041.25h10m2.5 0h2.5M225.5 1043.75h2.5m245 0h7.5m22.5 0h2.5m7.5 0h2.5M215.5 1046.25h10m2.5 0h2.5m50 0h2.5m2.5 0h10m175 0h12.5m22.5 0h5M210.5 1048.75h22.5m50 0h7.5m2.5 0h2.5m177.5 0h7.5m22.5 0h7.5M210.5 1051.25h22.5m50 0h12.5m177.5 0h10m20 0h10M218 1053.75h5m2.5 0h2.5m5 0h2.5m2.5 0h5m40 0h7.5m17.5 0h2.5m135 0h2.5m25 0h10m2.5 0h2.5m15 0h7.5M215.5 1056.25h5m10 0h5m2.5 0h7.5m37.5 0h5m15 0h10m127.5 0h10m2.5 0h10m7.5 0h2.5m7.5 0h5m2.5 0h2.5m10 0h15M233 1058.75h10m57.5 0h12.5m132.5 0h20m20 0h5m10 0h10M235.5 1061.25h7.5m60 0h10m130 0h17.5m2.5 0h2.5m17.5 0h10m10 0h7.5M223 1063.75h2.5m7.5 0h7.5m2.5 0h2.5m57.5 0h5m135 0h2.5m2.5 0h2.5m2.5 0h7.5m2.5 0h7.5m10 0h2.5m2.5 0h7.5m7.5 0h2.5m2.5 0h5M225.5 1066.25h2.5m2.5 0h2.5m200 0h2.5m5 0h2.5m15 0h10m12.5 0h2.5m2.5 0h20m2.5 0h2.5M223 1068.75h7.5m202.5 0h7.5m2.5 0h2.5m17.5 0h10m10 0h17.5M223 1071.25h10m200 0h7.5m25 0h7.5m10 0h20M220.5 1073.75h7.5m2.5 0h2.5m42.5 0h2.5m2.5 0h7.5m2.5 0h2.5m142.5 0h7.5m20 0h2.5m2.5 0h5m10 0h2.5m2.5 0h12.5M193 1076.25h7.5m27.5 0h2.5m42.5 0h5m2.5 0h7.5m2.5 0h2.5m142.5 0h2.5m32.5 0h2.5m12.5 0h2.5M195.5 1078.75h7.5m70 0h20M193 1081.25h7.5m2.5 0h2.5m67.5 0h22.5M173 1083.75h2.5m17.5 0h7.5m75 0h5m5 0h5m2.5 0h2.5m20 0h2.5m2.5 0h2.5M165.5 1086.25h15m2.5 0h2.5m7.5 0h2.5m2.5 0h2.5m72.5 0h2.5m2.5 0h7.5m27.5 0h7.5M165.5 1088.75h17.5m127.5 0h2.5m2.5 0h7.5M163 1091.25h17.5m130 0h15M160.5 1093.75h20m132.5 0h2.5m2.5 0h5M160.5 1096.25h10m5 0h5m137.5 0h2.5M165.5 1098.75h5M163 1101.25h10M160.5 1103.75h5m2.5 0h5M168 1123.75h2.5m15 0h2.5M165.5 1126.25h2.5m2.5 0h5m10 0h2.5m2.5 0h2.5M160.5 1128.75h12.5m7.5 0h15M163 1131.25h7.5m12.5 0h10M163 1133.75h5m5 0h2.5m5 0h7.5m5 0h2.5M188 1136.25h2.5M153 1143.75h2.5m5 0h2.5m10 0h2.5M158 1146.25h2.5m2.5 0h5m2.5 0h2.5M150.5 1148.75h20M150.5 1151.25h25M153 1153.75h22.5M160.5 1156.25h15M163 1158.75h12.5M163 1161.25h7.5M163 1163.75h7.5m17.5 0h5m40 0h7.5M170.5 1166.25h2.5m12.5 0h2.5m2.5 0h2.5m42.5 0h7.5M180.5 1168.75h2.5m2.5 0h5m2.5 0h2.5m40 0h5m2.5 0h2.5M185.5 1171.25h7.5m42.5 0h7.5M185.5 1173.75h7.5m40 0h10m15 0h2.5m5 0h2.5M235.5 1176.25h5m15 0h2.5m2.5 0h10M230.5 1178.75h2.5m2.5 0h5m12.5 0h22.5M233 1181.25h12.5m10 0h15M170.5 1183.75h5m5 0h2.5m47.5 0h2.5m2.5 0h7.5m2.5 0h2.5m7.5 0h5m2.5 0h10M173 1186.25h2.5m2.5 0h2.5m50 0h15m2.5 0h7.5m2.5 0h5m7.5 0h2.5M170.5 1188.75h10m52.5 0h20M173 1191.25h7.5m52.5 0h20M175.5 1193.75h2.5m2.5 0h2.5m50 0h20M183 1196.25h2.5M245.5 1203.75h2.5M245.5 1206.25h2.5m2.5 0h2.5m52.5 0h5M243 1208.75h10m50 0h7.5m2.5 0h2.5M243 1211.25h12.5m50 0h10M243 1213.75h7.5m45 0h2.5m5 0h7.5M243 1216.25h10m2.5 0h7.5m35 0h2.5M243 1218.75h22.5m30 0h7.5M243 1221.25h17.5m32.5 0h10M225.5 1223.75h2.5m12.5 0h2.5m2.5 0h2.5m2.5 0h5m2.5 0h5m20 0h2.5m7.5 0h7.5m2.5 0h2.5M225.5 1226.25h5m30 0h2.5m22.5 0h7.5M223 1228.75h7.5m2.5 0h2.5m47.5 0h7.5m2.5 0h2.5M225.5 1231.25h7.5m47.5 0h15M225.5 1233.75h7.5m32.5 0h2.5m12.5 0h5M220.5 1236.25h2.5m7.5 0h2.5m32.5 0h2.5m5 0h2.5M263 1238.75h10M263 1241.25h12.5M265.5 1243.75h2.5m2.5 0h2.5M265.5 1246.25h5M335.5 1296.25h2.5m2.5 0h5M335.5 1298.75h7.5M333 1301.25h12.5M318 1303.75h5m5 0h2.5m5 0h7.5m30 0h2.5m5 0h2.5M313 1306.25h5m7.5 0h2.5m2.5 0h12.5m35 0h2.5M313 1308.75h32.5m27.5 0h12.5M315.5 1311.25h25m32.5 0h10M313 1313.75h12.5m2.5 0h15m30 0h10M320.5 1316.25h2.5m7.5 0h12.5m30 0h10M330.5 1318.75h2.5m2.5 0h7.5m30 0h12.5M333 1321.25h7.5m2.5 0h2.5m30 0h5M333 1323.75h7.5m35 0h2.5m5 0h2.5"/><path stroke="url(#sp_c)" d="M393 973.75h2.5M395.5 976.25h5m2.5 0h2.5M390.5 978.75h2.5m2.5 0h7.5M393 981.25h12.5M395.5 983.75h5m2.5 0h2.5M390.5 986.25h10m2.5 0h2.5M390.5 988.75h10M393 991.25h10M395.5 993.75h5m2.5 0h2.5M395.5 996.25h5M413 1003.75h2.5m10 0h2.5m5 0h10M405.5 1006.25h5m2.5 0h2.5m2.5 0h5m5 0h15M405.5 1008.75h37.5M403 1011.25h37.5M403 1013.75h17.5m2.5 0h12.5M403 1016.25h2.5m7.5 0h2.5m2.5 0h2.5m2.5 0h10M420.5 1018.75h10M420.5 1021.25h15M423 1023.75h12.5M423 1026.25h20M423 1028.75h17.5M420.5 1031.25h22.5M423 1033.75h17.5M423 1036.25h22.5M425.5 1038.75h20M423 1041.25h20M425.5 1043.75h15M423 1046.25h20M423 1048.75h17.5m2.5 0h2.5M423 1051.25h17.5M425.5 1053.75h2.5m2.5 0h12.5M433 1056.25h5M250.5 1076.25h7.5m2.5 0h2.5M253 1078.75h7.5M253 1081.25h7.5m2.5 0h2.5M248 1083.75h15m37.5 0h2.5m127.5 0h2.5m17.5 0h2.5m20 0h2.5M240.5 1086.25h2.5m7.5 0h15m27.5 0h2.5m2.5 0h2.5m127.5 0h7.5m12.5 0h2.5m2.5 0h2.5m20 0h7.5M243 1088.75h17.5m2.5 0h2.5m25 0h10m122.5 0h10m7.5 0h12.5m20 0h10M243 1091.25h20m30 0h7.5m122.5 0h10m10 0h10m20 0h10M240.5 1093.75h22.5m30 0h7.5m45 0h2.5m12.5 0h2.5m2.5 0h2.5m2.5 0h5m2.5 0h2.5m5 0h2.5m2.5 0h2.5m22.5 0h2.5m5 0h10m5 0h17.5m10 0h2.5m2.5 0h15M243 1096.25h7.5m40 0h2.5m50 0h17.5m2.5 0h10m2.5 0h5m2.5 0h12.5m20 0h17.5m2.5 0h2.5m2.5 0h20m5 0h17.5m2.5 0h7.5M245.5 1098.75h10m90 0h47.5m22.5 0h77.5M243 1101.25h12.5m87.5 0h50m20 0h80M243 1103.75h5m2.5 0h5m2.5 0h2.5m80 0h17.5m2.5 0h5m2.5 0h20m2.5 0h2.5m20 0h5m2.5 0h75M253 1106.25h12.5m77.5 0h2.5m2.5 0h5m7.5 0h2.5m5 0h2.5m12.5 0h2.5m5 0h2.5m25 0h2.5m2.5 0h70M253 1108.75h12.5m160 0h67.5M253 1111.25h12.5m157.5 0h67.5m2.5 0h2.5M253 1113.75h12.5m160 0h7.5m2.5 0h7.5m5 0h2.5m2.5 0h40m5 0h2.5M250.5 1116.25h10m160 0h2.5m2.5 0h7.5m2.5 0h2.5m7.5 0h2.5m5 0h42.5m5 0h2.5M253 1118.75h12.5m155 0h15m17.5 0h47.5M250.5 1121.25h2.5m2.5 0h5m162.5 0h7.5m20 0h55M253 1123.75h2.5m5 0h2.5m160 0h7.5m5 0h5m7.5 0h52.5m2.5 0h2.5m2.5 0h5m2.5 0h2.5m2.5 0h2.5M250.5 1126.25h2.5m7.5 0h2.5m162.5 0h25m2.5 0h55m2.5 0h10M423 1128.75h97.5M420.5 1131.25h102.5M275.5 1133.75h2.5m142.5 0h2.5m2.5 0h97.5M263 1136.25h17.5m152.5 0h27.5m7.5 0h2.5m2.5 0h50M265.5 1138.75h17.5m152.5 0h30m5 0h2.5m2.5 0h47.5M263 1141.25h20m150 0h27.5m12.5 0h50M255.5 1143.75h5m2.5 0h22.5m140 0h7.5m2.5 0h30m5 0h45M255.5 1146.25h2.5m5 0h20m140 0h2.5m5 0h35m5 0h42.5M255.5 1148.75h25m2.5 0h2.5m135 0h95M253 1151.25h30m140 0h90M255.5 1153.75h5m2.5 0h22.5m137.5 0h90M258 1156.25h2.5m2.5 0h30m132.5 0h87.5M263 1158.75h30m130 0h87.5M263 1161.25h30m130 0h87.5M268 1163.75h22.5m65 0h5m60 0h15m2.5 0h2.5m2.5 0h7.5m7.5 0h15m2.5 0h2.5m2.5 0h5m2.5 0h5m2.5 0h15M273 1166.25h17.5m65 0h7.5m60 0h10m7.5 0h2.5m2.5 0h2.5m27.5 0h7.5m2.5 0h2.5m12.5 0h2.5m5 0h2.5m2.5 0h2.5M275.5 1168.75h15m60 0h2.5m2.5 0h7.5M273 1171.25h20m60 0h7.5M275.5 1173.75h2.5m2.5 0h15m12.5 0h2.5m17.5 0h7.5m17.5 0h5m17.5 0h2.5M270.5 1176.25h2.5m2.5 0h2.5m2.5 0h17.5m5 0h5m5 0h2.5m10 0h5m2.5 0h2.5m2.5 0h2.5m5 0h7.5m5 0h2.5m10 0h12.5M280.5 1178.75h30m10 0h32.5m22.5 0h5M283 1181.25h30m7.5 0h32.5m20 0h7.5M283 1183.75h30m15 0h5m2.5 0h10m2.5 0h5m17.5 0h2.5m2.5 0h5m2.5 0h5m5 0h2.5m7.5 0h5m2.5 0h5m7.5 0h7.5m12.5 0h2.5M283 1186.25h5m7.5 0h2.5m2.5 0h2.5m17.5 0h2.5m10 0h15m30 0h2.5m5 0h7.5m2.5 0h7.5m2.5 0h5m2.5 0h5m2.5 0h2.5m2.5 0h2.5m2.5 0h5m2.5 0h2.5m42.5 0h2.5m2.5 0h5M333 1188.75h12.5m37.5 0h60m40 0h7.5m2.5 0h2.5M335.5 1191.25h7.5m40 0h60m42.5 0h7.5M335.5 1193.75h5m45 0h12.5m2.5 0h2.5m2.5 0h37.5m30 0h2.5m7.5 0h5M398 1196.25h2.5m5 0h2.5m5 0h30m32.5 0h7.5m5 0h2.5M413 1198.75h30m27.5 0h12.5M413 1201.25h30m32.5 0h5M413 1203.75h30m7.5 0h7.5m2.5 0h5m7.5 0h2.5m2.5 0h5M420.5 1206.25h37.5m2.5 0h2.5m2.5 0h15M423 1208.75h47.5M423 1211.25h50M425.5 1213.75h7.5m5 0h2.5m5 0h2.5m2.5 0h12.5m2.5 0h2.5m5 0h2.5M428 1216.25h2.5m12.5 0h2.5m5 0h5m10 0h2.5"/><path stroke="url(#sp_r)" d="M363 983.75h2.5M353 986.25h5m2.5 0h2.5m2.5 0h7.5M350.5 988.75h20M353 991.25h20M355.5 993.75h15m2.5 0h2.5m75 0h5M353 996.25h20m70 0h5m5 0h12.5M353 998.75h17.5m72.5 0h17.5M350.5 1001.25h22.5m72.5 0h15m2.5 0h2.5M353 1003.75h17.5m77.5 0h2.5m2.5 0h2.5m2.5 0h2.5M360.5 1006.25h2.5m5 0h2.5m80 0h2.5M293 1026.25h5m2.5 0h5M293 1028.75h7.5M293 1031.25h7.5M285.5 1033.75h2.5m5 0h12.5M288 1036.25h15M283 1038.75h20M280.5 1041.25h22.5M283 1043.75h20m180 0h2.5m7.5 0h5m2.5 0h2.5M283 1046.25h2.5m10 0h10m177.5 0h7.5m7.5 0h2.5m2.5 0h2.5M290.5 1048.75h2.5m2.5 0h7.5m177.5 0h22.5M295.5 1051.25h7.5m180 0h20M223 1053.75h2.5m2.5 0h2.5m60 0h12.5m15 0h2.5m162.5 0h2.5m2.5 0h15M223 1056.25h7.5m57.5 0h5m7.5 0h2.5m10 0h7.5m2.5 0h2.5m160 0h2.5m2.5 0h10M223 1058.75h10m50 0h12.5m17.5 0h12.5m165 0h10M220.5 1061.25h2.5m2.5 0h10m50 0h5m22.5 0h10m170 0h10M220.5 1063.75h2.5m2.5 0h7.5m42.5 0h2.5m5 0h12.5m5 0h2.5m5 0h17.5m120 0h2.5m2.5 0h2.5m7.5 0h2.5m30 0h7.5m2.5 0h2.5M223 1066.25h2.5m2.5 0h2.5m2.5 0h2.5m37.5 0h5m5 0h10m10 0h17.5m122.5 0h15M270.5 1068.75h22.5m12.5 0h20m115 0h2.5m2.5 0h17.5M273 1071.25h20m10 0h20m117.5 0h25M278 1073.75h2.5m7.5 0h2.5m15 0h7.5m2.5 0h10m60 0h2.5m62.5 0h12.5m2.5 0h2.5M278 1076.25h2.5m7.5 0h2.5m20 0h2.5m67.5 0h2.5m2.5 0h2.5m2.5 0h2.5m55 0h2.5m2.5 0h17.5M380.5 1078.75h2.5m2.5 0h5m60 0h20M383 1081.25h12.5m57.5 0h17.5m2.5 0h2.5M383 1083.75h10m60 0h5m2.5 0h12.5M460.5 1086.25h2.5m5 0h5M253 1163.75h5m5 0h5M258 1166.25h2.5m2.5 0h10M250.5 1168.75h25M253 1171.25h20M253 1173.75h5m2.5 0h5m2.5 0h7.5M258 1176.25h2.5M260.5 1183.75h2.5m12.5 0h5m85 0h5M255.5 1186.25h2.5m17.5 0h2.5m2.5 0h2.5m5 0h7.5m2.5 0h2.5m2.5 0h2.5m55 0h2.5m2.5 0h2.5m2.5 0h5M253 1188.75h10m12.5 0h27.5m60 0h12.5M253 1191.25h7.5m2.5 0h2.5m5 0h2.5m2.5 0h25m2.5 0h2.5m57.5 0h10M253 1193.75h7.5m12.5 0h27.5m62.5 0h12.5m7.5 0h2.5m12.5 0h2.5m2.5 0h2.5M250.5 1196.25h12.5m7.5 0h32.5m2.5 0h5m57.5 0h2.5m5 0h2.5m5 0h15m2.5 0h5M255.5 1198.75h7.5m12.5 0h37.5m60 0h27.5M253 1201.25h10m10 0h37.5m62.5 0h27.5M250.5 1203.75h12.5m10 0h40m62.5 0h25M253 1206.25h10m10 0h32.5m77.5 0h22.5M253 1208.75h10m10 0h30m80 0h17.5M255.5 1211.25h7.5m7.5 0h2.5m2.5 0h30m77.5 0h20M250.5 1213.75h12.5m7.5 0h5m2.5 0h7.5m5 0h5m2.5 0h5m7.5 0h5m65 0h7.5m2.5 0h2.5m2.5 0h5m2.5 0h2.5M253 1216.25h2.5m25 0h2.5m12.5 0h2.5m2.5 0h17.5m2.5 0h12.5m47.5 0h2.5m10 0h2.5m2.5 0h5M303 1218.75h30M303 1221.25h30M265.5 1223.75h2.5m2.5 0h2.5m7.5 0h2.5m17.5 0h2.5m2.5 0h17.5m2.5 0h7.5M273 1226.25h7.5m2.5 0h2.5m7.5 0h30M260.5 1228.75h2.5m2.5 0h17.5m7.5 0h2.5m2.5 0h27.5M263 1231.25h17.5m15 0h27.5M260.5 1233.75h5m2.5 0h12.5m12.5 0h2.5m2.5 0h7.5m2.5 0h10M268 1236.25h5m2.5 0h10m7.5 0h7.5m5 0h5m10 0h2.5M273 1238.75h12.5M275.5 1241.25h7.5M273 1243.75h7.5m2.5 0h2.5M278 1246.25h2.5m2.5 0h2.5M360.5 1303.75h5m2.5 0h2.5M358 1306.25h2.5m2.5 0h7.5M353 1308.75h20M353 1311.25h20M325.5 1313.75h2.5m25 0h20M325.5 1316.25h5m22.5 0h20M323 1318.75h7.5m2.5 0h2.5m15 0h2.5m2.5 0h17.5M320.5 1321.25h12.5m20 0h22.5M320.5 1323.75h10m30 0h2.5m2.5 0h5m2.5 0h2.5M323 1326.25h2.5m30 0h7.5m2.5 0h5"/><path stroke="url(#sp_o)" d="M333 993.75h7.5M320.5 996.25h10m2.5 0h12.5M323 998.75h20M320.5 1001.25h2.5m2.5 0h15M265.5 1003.75h2.5m2.5 0h2.5m10 0h2.5m30 0h2.5m5 0h17.5m2.5 0h2.5m2.5 0h5m27.5 0h5m2.5 0h5M268 1006.25h7.5m2.5 0h2.5m32.5 0h7.5m20 0h5m2.5 0h5m30 0h2.5m2.5 0h7.5M260.5 1008.75h2.5m2.5 0h20m27.5 0h12.5m17.5 0h7.5m32.5 0h10M260.5 1011.25h22.5m27.5 0h10m22.5 0h7.5m32.5 0h12.5M260.5 1013.75h2.5m2.5 0h7.5m5 0h5m25 0h5m2.5 0h5m25 0h7.5m35 0h5M263 1016.25h10m2.5 0h5m22.5 0h2.5m2.5 0h15m67.5 0h2.5M263 1018.75h10m32.5 0h20M260.5 1021.25h2.5m2.5 0h7.5m27.5 0h22.5M260.5 1023.75h7.5m32.5 0h2.5m2.5 0h2.5m2.5 0h10M255.5 1026.25h2.5m2.5 0h5m45 0h10m2.5 0h2.5M255.5 1028.75h7.5m50 0h10M253 1031.25h12.5m45 0h12.5M253 1033.75h7.5m2.5 0h2.5m42.5 0h2.5m2.5 0h10M255.5 1036.25h7.5m42.5 0h15M253 1038.75h12.5m37.5 0h20M255.5 1041.25h10m37.5 0h20M248 1043.75h17.5m40 0h2.5m2.5 0h5m2.5 0h2.5m10 0h5m2.5 0h2.5m105 0h2.5M240.5 1046.25h2.5m2.5 0h5m2.5 0h10m47.5 0h2.5m12.5 0h2.5m2.5 0h12.5m100 0h5M243 1048.75h20m60 0h20m97.5 0h2.5m2.5 0h10M240.5 1051.25h20m2.5 0h2.5m57.5 0h22.5m95 0h15M243 1053.75h20m57.5 0h2.5m2.5 0h2.5m2.5 0h20m92.5 0h2.5m2.5 0h5M205.5 1056.25h2.5m5 0h2.5m30 0h17.5m62.5 0h2.5m2.5 0h17.5m2.5 0h2.5m97.5 0h2.5M203 1058.75h12.5m27.5 0h20m70 0h20M203 1061.25h7.5m32.5 0h17.5m70 0h20M203 1063.75h17.5m20 0h2.5m2.5 0h17.5m72.5 0h15M205.5 1066.25h12.5m2.5 0h2.5m20 0h20m70 0h17.5M200.5 1068.75h22.5m22.5 0h20m65 0h25M203 1071.25h20m20 0h17.5m70 0h20M200.5 1073.75h20m25 0h5m2.5 0h10m75 0h12.5M200.5 1076.25h25m32.5 0h2.5m80 0h2.5m2.5 0h2.5M203 1078.75h17.5M200.5 1081.25h2.5m2.5 0h17.5M203 1083.75h7.5m2.5 0h7.5M203 1086.25h10m2.5 0h5M205.5 1088.75h7.5M203 1091.25h10M203 1093.75h5M185.5 1103.75h7.5m25 0h5m5 0h5m15 0h2.5M183 1106.25h2.5m2.5 0h2.5m22.5 0h5m2.5 0h12.5m2.5 0h2.5m5 0h10M185.5 1108.75h10m20 0h37.5M183 1111.25h12.5m20 0h37.5M165.5 1113.75h2.5m20 0h2.5m15 0h2.5m2.5 0h42.5M163 1116.25h7.5m32.5 0h5m2.5 0h40M163 1118.75h7.5m30 0h52.5M163 1121.25h10m30 0h47.5m2.5 0h2.5M163 1123.75h5m37.5 0h47.5M168 1126.25h2.5m35 0h45M203 1128.75h52.5M203 1131.25h47.5m2.5 0h2.5M203 1133.75h47.5M203 1136.25h50M203 1138.75h47.5m2.5 0h2.5M205.5 1141.25h47.5M203 1143.75h42.5m2.5 0h7.5M205.5 1146.25h5m2.5 0h5m2.5 0h2.5m2.5 0h5m10 0h5M205.5 1148.75h5M200.5 1151.25h10M198 1153.75h15M195.5 1156.25h20M190.5 1158.75h2.5m2.5 0h20M190.5 1161.25h2.5m2.5 0h17.5M200.5 1163.75h15M200.5 1166.25h12.5M203 1168.75h7.5m2.5 0h2.5M203 1171.25h7.5M208 1173.75h2.5M203 1176.25h2.5M340.5 1193.75h7.5m5 0h2.5M343 1196.25h5m2.5 0h2.5m5 0h5M345.5 1198.75h17.5M340.5 1201.25h25M343 1203.75h22.5M345.5 1206.25h17.5M345.5 1208.75h17.5M345.5 1211.25h15m2.5 0h2.5M338 1213.75h2.5m2.5 0h17.5m7.5 0h2.5M333 1216.25h5m2.5 0h32.5M333 1218.75h40M333 1221.25h37.5M335.5 1223.75h2.5m2.5 0h32.5m10 0h2.5m12.5 0h2.5m2.5 0h2.5m17.5 0h2.5M335.5 1226.25h2.5m5 0h27.5m12.5 0h32.5m2.5 0h2.5M345.5 1228.75h27.5m10 0h40M343 1231.25h30m10 0h42.5M348 1233.75h25m7.5 0h2.5m5 0h25m2.5 0h2.5m2.5 0h2.5M340.5 1236.25h2.5m2.5 0h2.5m2.5 0h25m2.5 0h5m7.5 0h25M353 1238.75h30m7.5 0h20M353 1241.25h30m7.5 0h2.5m2.5 0h15M290.5 1243.75h5m5 0h2.5m52.5 0h5m5 0h5m2.5 0h12.5m7.5 0h2.5m2.5 0h2.5m2.5 0h10m17.5 0h2.5M293 1246.25h12.5m2.5 0h5m37.5 0h2.5m5 0h5m2.5 0h7.5m2.5 0h5m10 0h2.5m10 0h7.5m12.5 0h2.5m2.5 0h15M290.5 1248.75h2.5m2.5 0h15m95 0h10m5 0h20m2.5 0h2.5M290.5 1251.25h22.5m90 0h7.5m2.5 0h2.5m7.5 0h20M293 1253.75h17.5m90 0h10m10 0h17.5m2.5 0h2.5M283 1256.25h2.5m2.5 0h20m95 0h7.5m5 0h22.5M283 1258.75h22.5m97.5 0h30M283 1261.25h20m97.5 0h2.5m2.5 0h27.5M280.5 1263.75h2.5m2.5 0h10m5 0h2.5m80 0h5m12.5 0h2.5m2.5 0h25m2.5 0h2.5M298 1266.25h2.5m82.5 0h5m2.5 0h45M383 1268.75h50M380.5 1271.25h52.5M383 1273.75h20m2.5 0h27.5M380.5 1276.25h22.5m5 0h5m2.5 0h5m7.5 0h2.5M385.5 1278.75h17.5m7.5 0h12.5M380.5 1281.25h2.5m2.5 0h17.5m10 0h10M380.5 1283.75h2.5m2.5 0h15m10 0h2.5m2.5 0h5M388 1286.25h7.5m2.5 0h5"/><path stroke="url(#sp_m)" d="M350.5 993.75h2.5M348 996.25h5M343 998.75h10M340.5 1001.25h10M340.5 1003.75h2.5m2.5 0h2.5M335.5 1006.25h5m5 0h2.5m5 0h7.5m2.5 0h5M333 1008.75h10m7.5 0h20M330.5 1011.25h12.5m7.5 0h25M330.5 1013.75h12.5m17.5 0h10M353 1016.25h2.5m2.5 0h2.5m2.5 0h10M363 1018.75h10M363 1021.25h10M308 1023.75h2.5m22.5 0h5m17.5 0h17.5m17.5 0h2.5M305.5 1026.25h5m25 0h2.5m2.5 0h5m12.5 0h17.5m5 0h5m2.5 0h5M300.5 1028.75h12.5m20 0h10m7.5 0h2.5m2.5 0h35M300.5 1031.25h10m20 0h12.5m10 0h40M305.5 1033.75h2.5m2.5 0h2.5m20 0h7.5m15 0h37.5M303 1036.25h2.5m50 0h5m2.5 0h40M363 1038.75h37.5m2.5 0h2.5M363 1041.25h37.5M363 1043.75h5m2.5 0h32.5M373 1046.25h32.5M370.5 1048.75h30m2.5 0h2.5M373 1051.25h30M370.5 1053.75h7.5m2.5 0h25M363 1056.25h2.5m2.5 0h5m10 0h20M363 1058.75h12.5m7.5 0h20M363 1061.25h10m10 0h17.5M333 1063.75h2.5m30 0h7.5m12.5 0h17.5M320.5 1066.25h2.5m2.5 0h2.5m2.5 0h2.5m17.5 0h2.5m2.5 0h7.5m22.5 0h17.5M325.5 1068.75h5m25 0h7.5m20 0h20M323 1071.25h7.5m20 0h12.5m17.5 0h22.5M325.5 1073.75h12.5m12.5 0h12.5m20 0h2.5m2.5 0h17.5M320.5 1076.25h20m2.5 0h2.5m2.5 0h17.5m22.5 0h2.5m2.5 0h12.5M323 1078.75h37.5m30 0h12.5M320.5 1081.25h42.5m32.5 0h7.5M323 1083.75h7.5m2.5 0h2.5m2.5 0h25m37.5 0h2.5m55 0h2.5M323 1086.25h2.5m15 0h20m37.5 0h2.5m55 0h5M345.5 1088.75h20m87.5 0h10M343 1091.25h22.5m87.5 0h7.5M348 1093.75h12.5m95 0h10M360.5 1096.25h2.5m97.5 0h2.5M173 1106.25h10M175.5 1108.75h10M175.5 1111.25h7.5M170.5 1113.75h12.5M158 1116.25h5m17.5 0h2.5M153 1118.75h10M150.5 1121.25h12.5M150.5 1123.75h12.5M145.5 1126.25h2.5m7.5 0h2.5m2.5 0h5M145.5 1128.75h7.5M145.5 1131.25h5M143 1133.75h5m2.5 0h5m210 0h5M363 1136.25h2.5m5 0h2.5M363 1138.75h10M360.5 1141.25h10M365.5 1143.75h7.5M210.5 1146.25h2.5m5 0h2.5m142.5 0h2.5M210.5 1148.75h12.5M210.5 1151.25h12.5M215.5 1153.75h7.5M215.5 1156.25h2.5M193 1163.75h7.5M193 1166.25h7.5M190.5 1168.75h2.5m2.5 0h7.5M193 1171.25h10M193 1173.75h12.5M200.5 1176.25h2.5M363 1196.25h5m2.5 0h5M363 1198.75h10M365.5 1201.25h7.5M335.5 1203.75h5m25 0h10M335.5 1206.25h7.5m20 0h20M333 1208.75h12.5m17.5 0h20M335.5 1211.25h10m15 0h2.5m2.5 0h17.5M330.5 1213.75h7.5m2.5 0h2.5m17.5 0h7.5m2.5 0h10M338 1216.25h2.5m32.5 0h7.5M373 1218.75h12.5M370.5 1221.25h12.5M373 1223.75h10M370.5 1226.25h12.5M373 1228.75h10M373 1231.25h10M343 1233.75h5m25 0h7.5m2.5 0h5m25 0h2.5m2.5 0h2.5m2.5 0h2.5M343 1236.25h2.5m2.5 0h2.5m25 0h2.5m5 0h7.5m25 0h5m2.5 0h7.5M343 1238.75h10m30 0h7.5m20 0h22.5M345.5 1241.25h7.5m30 0h7.5m2.5 0h2.5m15 0h25M348 1243.75h5m32.5 0h7.5m2.5 0h2.5m2.5 0h2.5m10 0h17.5m2.5 0h2.5M285.5 1246.25h7.5m55 0h2.5m2.5 0h2.5m32.5 0h2.5m5 0h7.5m7.5 0h12.5m2.5 0h2.5M283 1248.75h7.5m2.5 0h2.5m95 0h15m10 0h5M280.5 1251.25h10m100 0h12.5m7.5 0h2.5m2.5 0h7.5M273 1253.75h2.5m5 0h12.5m97.5 0h10m10 0h10M275.5 1256.25h7.5m2.5 0h2.5m105 0h10m7.5 0h5M273 1258.75h10m112.5 0h7.5M273 1261.25h10m112.5 0h5m2.5 0h2.5M273 1263.75h7.5m2.5 0h2.5m82.5 0h2.5m22.5 0h7.5m2.5 0h2.5M273 1266.25h10m55 0h2.5m2.5 0h2.5m2.5 0h7.5m5 0h12.5m7.5 0h2.5M273 1268.75h12.5m47.5 0h20m12.5 0h17.5M270.5 1271.25h10m50 0h2.5m2.5 0h20m10 0h15M275.5 1273.75h7.5m2.5 0h2.5m7.5 0h5m5 0h5m5 0h2.5m7.5 0h2.5m5 0h25m7.5 0h17.5m20 0h2.5M273 1276.25h40m2.5 0h10m2.5 0h52.5m22.5 0h5m5 0h2.5M270.5 1278.75h115m17.5 0h7.5M273 1281.25h107.5m2.5 0h2.5m17.5 0h10M273 1283.75h7.5m2.5 0h40m7.5 0h2.5m7.5 0h2.5m2.5 0h7.5m7.5 0h10m2.5 0h5m22.5 0h2.5m2.5 0h2.5M280.5 1286.25h2.5m2.5 0h37.5m2.5 0h2.5m2.5 0h2.5m7.5 0h2.5m2.5 0h2.5m7.5 0h5m45 0h2.5M285.5 1288.75h35M285.5 1291.25h37.5M283 1293.75h7.5m2.5 0h15m2.5 0h2.5m2.5 0h2.5m2.5 0h2.5M298 1296.25h2.5m5 0h2.5m7.5 0h2.5"/><path stroke="url(#sp_b)" d="M265.5 1083.75h5m10 0h5M265.5 1086.25h2.5m2.5 0h2.5m2.5 0h2.5m7.5 0h5M260.5 1088.75h2.5m2.5 0h25M263 1091.25h30M263 1093.75h30m7.5 0h5m2.5 0h2.5m5 0h2.5m15 0h2.5m2.5 0h2.5M250.5 1096.25h40m2.5 0h12.5m2.5 0h10m2.5 0h10m2.5 0h10M255.5 1098.75h90M255.5 1101.25h87.5M255.5 1103.75h2.5m2.5 0h80m17.5 0h2.5m5 0h2.5m20 0h2.5m5 0h2.5m5 0h2.5m2.5 0h2.5m7.5 0h2.5M265.5 1106.25h77.5m2.5 0h2.5m5 0h7.5m2.5 0h5m2.5 0h12.5m2.5 0h5m2.5 0h2.5m5 0h7.5m2.5 0h2.5m2.5 0h2.5m2.5 0h2.5M265.5 1108.75h160M265.5 1111.25h157.5M265.5 1113.75h160m7.5 0h2.5m7.5 0h5m2.5 0h2.5M260.5 1116.25h160m2.5 0h2.5m7.5 0h2.5m2.5 0h7.5m2.5 0h5M265.5 1118.75h155m15 0h17.5M260.5 1121.25h162.5m7.5 0h20M255.5 1123.75h5m2.5 0h160m7.5 0h5m5 0h7.5M253 1126.25h7.5m2.5 0h162.5m25 0h2.5M255.5 1128.75h167.5M250.5 1131.25h2.5m2.5 0h165M250.5 1133.75h5m2.5 0h17.5m2.5 0h87.5m5 0h50m2.5 0h2.5M260.5 1136.25h2.5m17.5 0h82.5m2.5 0h5m2.5 0h60m27.5 0h7.5m2.5 0h2.5M283 1138.75h80m10 0h62.5m30 0h5m2.5 0h2.5M283 1141.25h77.5m10 0h62.5m27.5 0h12.5M285.5 1143.75h80m7.5 0h52.5m7.5 0h2.5m30 0h5M283 1146.25h80m2.5 0h57.5m2.5 0h5m35 0h5M280.5 1148.75h2.5m2.5 0h135M283 1151.25h140M285.5 1153.75h137.5M293 1156.25h132.5M293 1158.75h130M293 1161.25h130M290.5 1163.75h65m5 0h60m15 0h2.5m2.5 0h2.5m7.5 0h7.5m15 0h2.5m2.5 0h2.5m5 0h2.5m5 0h2.5M290.5 1166.25h65m7.5 0h60m10 0h7.5m2.5 0h2.5m2.5 0h27.5m7.5 0h2.5m2.5 0h12.5m2.5 0h5M290.5 1168.75h60m2.5 0h2.5m7.5 0h152.5M293 1171.25h60m7.5 0h152.5M295.5 1173.75h12.5m2.5 0h17.5m7.5 0h15m10 0h2.5m2.5 0h2.5m2.5 0h5m2.5 0h127.5m2.5 0h2.5M298 1176.25h5m5 0h5m2.5 0h10m5 0h2.5m2.5 0h2.5m2.5 0h5m37.5 0h122.5M310.5 1178.75h10m60 0h122.5M313 1181.25h7.5m60 0h125M313 1183.75h7.5m60 0h2.5m5 0h5m2.5 0h7.5m5 0h2.5m5 0h7.5m7.5 0h12.5m2.5 0h47.5m2.5 0h7.5M313 1186.25h7.5m62.5 0h2.5m7.5 0h2.5m7.5 0h2.5m5 0h2.5m5 0h2.5m2.5 0h2.5m2.5 0h2.5m5 0h2.5m2.5 0h42.5m2.5 0h2.5m5 0h2.5M443 1188.75h40M443 1191.25h42.5M443 1193.75h30m2.5 0h7.5M443 1196.25h32.5M443 1198.75h27.5M443 1201.25h32.5M443 1203.75h7.5m7.5 0h2.5m5 0h7.5M458 1206.25h2.5m2.5 0h2.5"/></g><rect x="142.8" y="908.9" width="425.2" height="425.2" fill="none" stroke="#111" stroke-width="2"/><path d="M130.7 1331.7H142.5M137 1312.3H142.5M137 1292.9H142.5M137 1273.5H142.5M137 1254.1H142.5M130.7 1234.7H142.5M137 1215.3H142.5M137 1195.9H142.5M137 1176.5H142.5M137 1157.1H142.5M130.7 1137.7H142.5M137 1118.3H142.5M137 1098.9H142.5M137 1079.5H142.5M137 1060.1H142.5M130.7 1040.7H142.5M137 1021.3H142.5M137 1001.9H142.5M137 982.5H142.5M137 963.1H142.5M130.7 943.7H142.5M137 924.3H142.5M143.3 1333.7V1345M164.4 1333.7V1340.4M185.4 1333.7V1340.4M206.5 1333.7V1340.4M227.5 1333.7V1340.4M248.6 1333.7V1345M269.7 1333.7V1340.4M290.7 1333.7V1340.4M311.8 1333.7V1340.4M332.8 1333.7V1340.4M353.9 1333.7V1345M375 1333.7V1340.4M396 1333.7V1340.4M417.1 1333.7V1340.4M438.1 1333.7V1340.4M459.2 1333.7V1345M480.3 1333.7V1340.4M501.3 1333.7V1340.4M522.4 1333.7V1340.4M543.4 1333.7V1340.4M564.5 1333.7V1345" stroke="#111" stroke-width="2" fill="none"/><path d="M130.7 1331.7H142.5M143.3 1333.7V1345M130.7 1234.7H142.5M248.6 1333.7V1345M130.7 1137.7H142.5M353.9 1333.7V1345M130.7 1040.7H142.5M459.2 1333.7V1345M130.7 943.7H142.5M564.5 1333.7V1345" stroke="#111" stroke-width="3.6" fill="none"/><text transform="translate(122.3 1333.1) scale(0.84 1.045)" font-family="Liberation Sans, sans-serif" font-size="16.8" text-anchor="end" fill="#111">0</text><text transform="translate(122.3 1243.1) scale(0.84 1.045)" font-family="Liberation Sans, sans-serif" font-size="16.8" text-anchor="end" fill="#111">50</text><text transform="translate(122.3 1146.1) scale(0.84 1.045)" font-family="Liberation Sans, sans-serif" font-size="16.8" text-anchor="end" fill="#111">100</text><text transform="translate(122.3 1047.6) scale(0.84 1.045)" font-family="Liberation Sans, sans-serif" font-size="16.8" text-anchor="end" fill="#111">150</text><text transform="translate(122.3 951.9) scale(0.84 1.045)" font-family="Liberation Sans, sans-serif" font-size="16.8" text-anchor="end" fill="#111">200</text><text transform="translate(144.7 1363.4) scale(0.84 1.045)" font-family="Liberation Sans, sans-serif" font-size="16.8" text-anchor="middle" fill="#111">0</text><text transform="translate(245.3 1363.4) scale(0.84 1.045)" font-family="Liberation Sans, sans-serif" font-size="16.8" text-anchor="middle" fill="#111">50</text><text transform="translate(351.8 1363.4) scale(0.84 1.045)" font-family="Liberation Sans, sans-serif" font-size="16.8" text-anchor="middle" fill="#111">100</text><text transform="translate(457.2 1363.4) scale(0.84 1.045)" font-family="Liberation Sans, sans-serif" font-size="16.8" text-anchor="middle" fill="#111">150</text><text transform="translate(554.1 1363.4) scale(0.84 1.045)" font-family="Liberation Sans, sans-serif" font-size="16.8" text-anchor="middle" fill="#111">200</text><path d="M96.7 1407.7V1322M96.7 1407.7H188" stroke="#000" stroke-width="3.4" fill="none"/><path d="M91 1324L96.7 1312.5L102.4 1324ZM186 1402L197.5 1407.7L186 1413.4Z" fill="#000"/><text transform="translate(74 1359.5) rotate(-90) scale(1.0 1.045)" font-family="Liberation Sans, sans-serif" font-size="34" text-anchor="middle" fill="#111">t-SNE2</text><text transform="translate(146.9 1451.8) scale(1.0 1.045)" font-family="Liberation Sans, sans-serif" font-size="33" text-anchor="middle" fill="#111">t-SNE1</text></svg></body></html>
